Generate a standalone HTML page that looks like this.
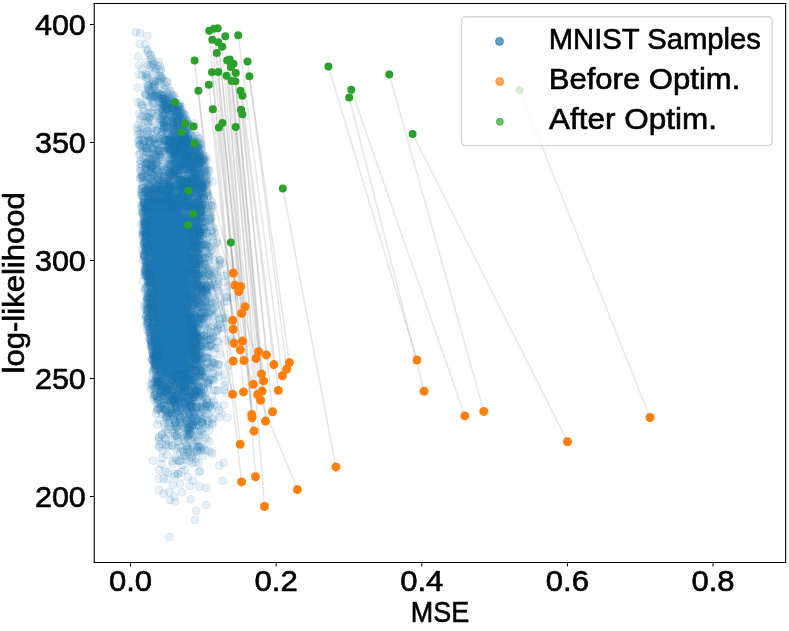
<!DOCTYPE html><html><head><meta charset="utf-8"><style>html,body{margin:0;padding:0;background:#fff;overflow:hidden}svg{display:block;will-change:transform}</style></head><body><svg width="789" height="631" viewBox="0 0 789 631">
<rect width="789" height="631" fill="#fff"/>
<g stroke="#808080" stroke-opacity="0.2" stroke-width="1.5" fill="none">
<line x1="233.3" y1="273" x2="212" y2="72.3"/>
<line x1="234.9" y1="285.3" x2="218.9" y2="127.5"/>
<line x1="240.6" y1="286.5" x2="222.4" y2="123.1"/>
<line x1="238.7" y1="291.6" x2="218.3" y2="72"/>
<line x1="245" y1="306.7" x2="218.3" y2="42.2"/>
<line x1="241.6" y1="313.2" x2="185.1" y2="123.7"/>
<line x1="232.7" y1="320.2" x2="212.9" y2="109.2"/>
<line x1="233.2" y1="329.3" x2="208.8" y2="84.7"/>
<line x1="234" y1="343.2" x2="209.2" y2="30.8"/>
<line x1="242.5" y1="341.1" x2="230.8" y2="242.6"/>
<line x1="240.3" y1="349.8" x2="212.3" y2="39.7"/>
<line x1="233.2" y1="361" x2="188.5" y2="190.6"/>
<line x1="258.6" y1="351.7" x2="235.7" y2="127.1"/>
<line x1="256.1" y1="358.4" x2="193.6" y2="126.6"/>
<line x1="266.3" y1="354.9" x2="241.1" y2="109.8"/>
<line x1="273.9" y1="364.6" x2="240.5" y2="90.8"/>
<line x1="289.4" y1="362.6" x2="247.5" y2="61.6"/>
<line x1="286.8" y1="369" x2="249.4" y2="76.2"/>
<line x1="282.4" y1="375.8" x2="238.2" y2="35.3"/>
<line x1="261.5" y1="373.9" x2="233.5" y2="63.8"/>
<line x1="263.6" y1="380.9" x2="235.4" y2="81.2"/>
<line x1="253.2" y1="384.3" x2="226.5" y2="75.8"/>
<line x1="232.6" y1="394.2" x2="193.2" y2="213.8"/>
<line x1="243.5" y1="391.9" x2="213.9" y2="28.7"/>
<line x1="262.1" y1="391.1" x2="231" y2="67"/>
<line x1="257.7" y1="394.5" x2="227.2" y2="60.6"/>
<line x1="260.6" y1="400.3" x2="231.6" y2="80.9"/>
<line x1="278.3" y1="390.4" x2="242.4" y2="95.8"/>
<line x1="251.7" y1="414.5" x2="216.8" y2="53"/>
<line x1="252" y1="417.7" x2="217.7" y2="28.3"/>
<line x1="272.5" y1="411.7" x2="242.4" y2="114.2"/>
<line x1="265.5" y1="421.1" x2="235.8" y2="73"/>
<line x1="254" y1="431" x2="222.1" y2="46.7"/>
<line x1="240.2" y1="444.2" x2="198.4" y2="90.8"/>
<line x1="241.6" y1="481.9" x2="194.6" y2="60.6"/>
<line x1="255.4" y1="476.7" x2="225.3" y2="36.3"/>
<line x1="264.5" y1="506.5" x2="229.7" y2="59.4"/>
<line x1="416.9" y1="360" x2="328.4" y2="66.5"/>
<line x1="424.1" y1="391.2" x2="349.2" y2="97.4"/>
<line x1="464.8" y1="415.9" x2="351.3" y2="89.8"/>
<line x1="483.8" y1="411.4" x2="389.3" y2="74.6"/>
<line x1="567.5" y1="441.8" x2="412.6" y2="133.9"/>
<line x1="650" y1="417.5" x2="519.5" y2="90"/>
<line x1="335.9" y1="466.9" x2="282.8" y2="188.4"/>
<line x1="297.4" y1="489.6" x2="188.1" y2="225"/>
<line x1="244" y1="360.5" x2="194.5" y2="143.4"/>
</g>
<defs><linearGradient id="cg" gradientUnits="userSpaceOnUse" x1="0" y1="190" x2="0" y2="392"><stop offset="0" stop-color="#1f77b4" stop-opacity="0"/><stop offset="0.0990" stop-color="#1f77b4" stop-opacity="1"/><stop offset="0.9010" stop-color="#1f77b4" stop-opacity="1"/><stop offset="1" stop-color="#1f77b4" stop-opacity="0"/></linearGradient></defs>
<defs><filter id="bl" x="-50%" y="-10%" width="200%" height="120%"><feGaussianBlur stdDeviation="2.5"/></filter></defs>
<path fill="url(#cg)" filter="url(#bl)" d="M145.5 196.5 L145.5 197.5 L145.5 198.5 L145.5 199.5 L145.5 200.5 L145.5 201.5 L145.5 202.5 L146.5 203.5 L146.5 204.5 L146.5 205.5 L146.5 206.5 L146.5 207.5 L146.5 208.5 L146.5 209.5 L146.5 210.5 L146.5 211.5 L146.5 212.5 L146.5 213.5 L146.5 214.5 L146.5 215.5 L146.5 216.5 L146.5 217.5 L146.5 218.5 L146.5 219.5 L146.5 220.5 L146.5 221.5 L146.5 222.5 L146.5 223.5 L146.5 224.5 L146.5 225.5 L146.5 226.5 L146.5 227.5 L146.5 228.5 L147.5 229.5 L147.5 230.5 L147.5 231.5 L147.5 232.5 L147.5 233.5 L147.5 234.5 L147.5 235.5 L147.5 236.5 L147.5 237.5 L147.5 238.5 L147.5 239.5 L147.5 240.5 L147.5 241.5 L147.5 242.5 L147.5 243.5 L147.5 244.5 L147.5 245.5 L147.5 246.5 L147.5 247.5 L147.5 248.5 L147.5 249.5 L147.5 250.5 L148.5 251.5 L148.5 252.5 L148.5 253.5 L148.5 254.5 L148.5 255.5 L148.5 256.5 L148.5 257.5 L148.5 258.5 L148.5 259.5 L148.5 260.5 L148.5 261.5 L148.5 262.5 L148.5 263.5 L148.5 264.5 L148.5 265.5 L148.5 266.5 L148.5 267.5 L148.5 268.5 L148.5 269.5 L148.5 270.5 L148.5 271.5 L148.5 272.5 L149.5 273.5 L149.5 274.5 L149.5 275.5 L149.5 276.5 L149.5 277.5 L149.5 278.5 L149.5 279.5 L149.5 280.5 L149.5 281.5 L149.5 282.5 L149.5 283.5 L149.5 284.5 L149.5 285.5 L149.5 286.5 L149.5 287.5 L149.5 288.5 L149.5 289.5 L149.5 290.5 L149.5 291.5 L150.5 292.5 L150.5 293.5 L150.5 294.5 L150.5 295.5 L150.5 296.5 L150.5 297.5 L150.5 298.5 L150.5 299.5 L150.5 300.5 L150.5 301.5 L150.5 302.5 L150.5 303.5 L150.5 304.5 L150.5 305.5 L150.5 306.5 L150.5 307.5 L150.5 308.5 L151.5 309.5 L151.5 310.5 L151.5 311.5 L151.5 312.5 L151.5 313.5 L151.5 314.5 L151.5 315.5 L151.5 316.5 L151.5 317.5 L151.5 318.5 L151.5 319.5 L151.5 320.5 L151.5 321.5 L151.5 322.5 L151.5 323.5 L151.5 324.5 L152.5 325.5 L152.5 326.5 L152.5 327.5 L152.5 328.5 L152.5 329.5 L152.5 330.5 L152.5 331.5 L153.5 332.5 L153.5 333.5 L153.5 334.5 L153.5 335.5 L153.5 336.5 L153.5 337.5 L153.5 338.5 L154.5 339.5 L154.5 340.5 L154.5 341.5 L154.5 342.5 L154.5 343.5 L154.5 344.5 L154.5 345.5 L155.5 346.5 L155.5 347.5 L155.5 348.5 L155.5 349.5 L155.5 350.5 L155.5 351.5 L155.5 352.5 L156.5 353.5 L156.5 354.5 L156.5 355.5 L156.5 356.5 L156.5 357.5 L156.5 358.5 L156.5 359.5 L157.5 360.5 L157.5 361.5 L157.5 362.5 L157.5 363.5 L157.5 364.5 L157.5 365.5 L157.5 366.5 L158.5 367.5 L158.5 368.5 L158.5 369.5 L158.5 370.5 L158.5 371.5 L158.5 372.5 L159.5 373.5 L159.5 374.5 L159.5 375.5 L159.5 376.5 L160.5 377.5 L164.5 378.5 L167.5 379.5 L170.5 380.5 L172.5 381.5 L190.5 381.5 L190.5 380.5 L190.5 379.5 L190.5 378.5 L190.5 377.5 L190.5 376.5 L190.5 375.5 L190.5 374.5 L191.5 373.5 L191.5 372.5 L191.5 371.5 L191.5 370.5 L191.5 369.5 L191.5 368.5 L191.5 367.5 L191.5 366.5 L191.5 365.5 L191.5 364.5 L191.5 363.5 L191.5 362.5 L191.5 361.5 L191.5 360.5 L191.5 359.5 L191.5 358.5 L191.5 357.5 L191.5 356.5 L191.5 355.5 L191.5 354.5 L191.5 353.5 L191.5 352.5 L191.5 351.5 L191.5 350.5 L191.5 349.5 L191.5 348.5 L191.5 347.5 L191.5 346.5 L191.5 345.5 L191.5 344.5 L191.5 343.5 L191.5 342.5 L191.5 341.5 L191.5 340.5 L191.5 339.5 L192.5 338.5 L192.5 337.5 L192.5 336.5 L192.5 335.5 L192.5 334.5 L192.5 333.5 L192.5 332.5 L192.5 331.5 L192.5 330.5 L192.5 329.5 L192.5 328.5 L192.5 327.5 L192.5 326.5 L192.5 325.5 L192.5 324.5 L192.5 323.5 L192.5 322.5 L192.5 321.5 L192.5 320.5 L192.5 319.5 L192.5 318.5 L192.5 317.5 L192.5 316.5 L192.5 315.5 L192.5 314.5 L192.5 313.5 L192.5 312.5 L192.5 311.5 L192.5 310.5 L192.5 309.5 L192.5 308.5 L192.5 307.5 L192.5 306.5 L192.5 305.5 L192.5 304.5 L192.5 303.5 L192.5 302.5 L192.5 301.5 L192.5 300.5 L192.5 299.5 L192.5 298.5 L192.5 297.5 L192.5 296.5 L192.5 295.5 L193.5 294.5 L193.5 293.5 L193.5 292.5 L193.5 291.5 L193.5 290.5 L193.5 289.5 L193.5 288.5 L193.5 287.5 L193.5 286.5 L193.5 285.5 L193.5 284.5 L193.5 283.5 L193.5 282.5 L193.5 281.5 L193.5 280.5 L193.5 279.5 L193.5 278.5 L193.5 277.5 L193.5 276.5 L193.5 275.5 L193.5 274.5 L193.5 273.5 L193.5 272.5 L193.5 271.5 L193.5 270.5 L193.5 269.5 L193.5 268.5 L193.5 267.5 L193.5 266.5 L193.5 265.5 L193.5 264.5 L193.5 263.5 L194.5 262.5 L194.5 261.5 L194.5 260.5 L194.5 259.5 L194.5 258.5 L194.5 257.5 L194.5 256.5 L194.5 255.5 L194.5 254.5 L194.5 253.5 L194.5 252.5 L194.5 251.5 L194.5 250.5 L194.5 249.5 L194.5 248.5 L194.5 247.5 L194.5 246.5 L194.5 245.5 L195.5 244.5 L195.5 243.5 L195.5 242.5 L195.5 241.5 L195.5 240.5 L195.5 239.5 L195.5 238.5 L195.5 237.5 L195.5 236.5 L195.5 235.5 L195.5 234.5 L195.5 233.5 L195.5 232.5 L195.5 231.5 L195.5 230.5 L195.5 229.5 L196.5 228.5 L196.5 227.5 L196.5 226.5 L196.5 225.5 L196.5 224.5 L196.5 223.5 L196.5 222.5 L196.5 221.5 L196.5 220.5 L196.5 219.5 L197.5 218.5 L197.5 217.5 L197.5 216.5 L197.5 215.5 L197.5 214.5 L197.5 213.5 L197.5 212.5 L197.5 211.5 L178.5 210.5 L178.5 209.5 L178.5 208.5 L178.5 207.5 L178.5 206.5 L178.5 205.5 L179.5 204.5 L179.5 203.5 L179.5 202.5 L179.5 201.5 L180.5 200.5 L179.5 199.5 L178.5 198.5 L177.5 197.5 L153.5 196.5Z"/>
<g fill="#1f77b4" fill-opacity="0.1" stroke="#1f77b4" stroke-opacity="0.1" stroke-width="1">
<circle cx="146.1" cy="49.7" r="4"/>
<circle cx="147.9" cy="52.7" r="4"/>
<circle cx="150.3" cy="55" r="4"/>
<circle cx="151.8" cy="58" r="4"/>
<circle cx="151" cy="59.3" r="4"/>
<circle cx="153.7" cy="61.6" r="4"/>
<circle cx="158.5" cy="61.8" r="4"/>
<circle cx="146.1" cy="62.2" r="4"/>
<circle cx="153.5" cy="63.6" r="4"/>
<circle cx="148" cy="64.9" r="4"/>
<circle cx="151" cy="64.7" r="4"/>
<circle cx="153.5" cy="64.4" r="4"/>
<circle cx="156.6" cy="65.6" r="4"/>
<circle cx="159.8" cy="65.6" r="4"/>
<circle cx="150.5" cy="66.6" r="4"/>
<circle cx="152.9" cy="67.6" r="4"/>
<circle cx="156.1" cy="68.8" r="4"/>
<circle cx="142.3" cy="69.4" r="4"/>
<circle cx="159.1" cy="69.7" r="4"/>
<circle cx="155.4" cy="71.7" r="4"/>
<circle cx="160.6" cy="71.5" r="4"/>
<circle cx="153.4" cy="72.9" r="4"/>
<circle cx="146" cy="73.7" r="4"/>
<circle cx="146" cy="74.4" r="4"/>
<circle cx="142" cy="75.4" r="4"/>
<circle cx="147.4" cy="75.3" r="4"/>
<circle cx="159.3" cy="76.1" r="4"/>
<circle cx="160.8" cy="76.5" r="4"/>
<circle cx="146.4" cy="77.1" r="4"/>
<circle cx="162.2" cy="77.4" r="4"/>
<circle cx="146" cy="78.5" r="4"/>
<circle cx="147.6" cy="78" r="4"/>
<circle cx="159.8" cy="78.8" r="4"/>
<circle cx="160.9" cy="78.7" r="4"/>
<circle cx="161.6" cy="78.7" r="4"/>
<circle cx="152.7" cy="80.4" r="4"/>
<circle cx="159" cy="81" r="4"/>
<circle cx="164.2" cy="80.8" r="4"/>
<circle cx="153.8" cy="81.4" r="4"/>
<circle cx="154.5" cy="81.5" r="4"/>
<circle cx="156.5" cy="81.1" r="4"/>
<circle cx="153.6" cy="82.4" r="4"/>
<circle cx="167.3" cy="82.5" r="4"/>
<circle cx="152" cy="83.7" r="4"/>
<circle cx="160.7" cy="83.6" r="4"/>
<circle cx="154.9" cy="84.7" r="4"/>
<circle cx="148.1" cy="85.7" r="4"/>
<circle cx="148.8" cy="85.3" r="4"/>
<circle cx="154.3" cy="85.5" r="4"/>
<circle cx="165.1" cy="85.4" r="4"/>
<circle cx="146.7" cy="86.1" r="4"/>
<circle cx="152.5" cy="86.7" r="4"/>
<circle cx="159.1" cy="86.7" r="4"/>
<circle cx="148.2" cy="87.9" r="4"/>
<circle cx="148.6" cy="87.5" r="4"/>
<circle cx="151.5" cy="87.4" r="4"/>
<circle cx="154.9" cy="89" r="4"/>
<circle cx="164.3" cy="88.8" r="4"/>
<circle cx="168.3" cy="88.1" r="4"/>
<circle cx="165.7" cy="89.2" r="4"/>
<circle cx="149.1" cy="90.4" r="4"/>
<circle cx="149.6" cy="90.1" r="4"/>
<circle cx="152.8" cy="90.7" r="4"/>
<circle cx="155.3" cy="90.6" r="4"/>
<circle cx="170.2" cy="90.9" r="4"/>
<circle cx="144.8" cy="92.8" r="4"/>
<circle cx="151.5" cy="92.9" r="4"/>
<circle cx="157.3" cy="92.9" r="4"/>
<circle cx="157.5" cy="93.6" r="4"/>
<circle cx="157.7" cy="93.1" r="4"/>
<circle cx="167.3" cy="93.1" r="4"/>
<circle cx="145.9" cy="94.4" r="4"/>
<circle cx="146.4" cy="94.5" r="4"/>
<circle cx="159.9" cy="94.9" r="4"/>
<circle cx="162.4" cy="94.1" r="4"/>
<circle cx="170.5" cy="94.1" r="4"/>
<circle cx="172.5" cy="94.9" r="4"/>
<circle cx="145.1" cy="95.3" r="4"/>
<circle cx="149.3" cy="95.4" r="4"/>
<circle cx="150.8" cy="95.6" r="4"/>
<circle cx="153.9" cy="95.7" r="4"/>
<circle cx="153.2" cy="95.4" r="4"/>
<circle cx="155.9" cy="95.3" r="4"/>
<circle cx="156.7" cy="95.3" r="4"/>
<circle cx="160.9" cy="95.3" r="4"/>
<circle cx="160.2" cy="95.3" r="4"/>
<circle cx="162.2" cy="95.8" r="4"/>
<circle cx="163.5" cy="95.5" r="4"/>
<circle cx="173.6" cy="95.5" r="4"/>
<circle cx="151.1" cy="96.7" r="4"/>
<circle cx="153.5" cy="96.7" r="4"/>
<circle cx="153.6" cy="96.8" r="4"/>
<circle cx="155.2" cy="96.2" r="4"/>
<circle cx="158.4" cy="96.9" r="4"/>
<circle cx="162.8" cy="96.3" r="4"/>
<circle cx="169.3" cy="96.2" r="4"/>
<circle cx="150.6" cy="97.9" r="4"/>
<circle cx="165.6" cy="97.2" r="4"/>
<circle cx="167.5" cy="98" r="4"/>
<circle cx="151.3" cy="98.1" r="4"/>
<circle cx="158" cy="98.7" r="4"/>
<circle cx="160.3" cy="98.6" r="4"/>
<circle cx="162.4" cy="98.7" r="4"/>
<circle cx="162.2" cy="98.3" r="4"/>
<circle cx="163" cy="98.6" r="4"/>
<circle cx="163.6" cy="98.2" r="4"/>
<circle cx="165" cy="98.3" r="4"/>
<circle cx="169.1" cy="98" r="4"/>
<circle cx="173.2" cy="98.2" r="4"/>
<circle cx="158.4" cy="99.1" r="4"/>
<circle cx="162.9" cy="99.2" r="4"/>
<circle cx="164.3" cy="99.5" r="4"/>
<circle cx="165.1" cy="99.5" r="4"/>
<circle cx="176.4" cy="99.3" r="4"/>
<circle cx="152.5" cy="100.1" r="4"/>
<circle cx="166.6" cy="100.1" r="4"/>
<circle cx="166.7" cy="100.7" r="4"/>
<circle cx="173" cy="100.8" r="4"/>
<circle cx="160.6" cy="101.3" r="4"/>
<circle cx="162.7" cy="101.8" r="4"/>
<circle cx="163.8" cy="101.2" r="4"/>
<circle cx="166.7" cy="101.6" r="4"/>
<circle cx="170.4" cy="101.4" r="4"/>
<circle cx="170.7" cy="101.2" r="4"/>
<circle cx="137.8" cy="102.2" r="4"/>
<circle cx="147.3" cy="102.6" r="4"/>
<circle cx="154.2" cy="102.9" r="4"/>
<circle cx="159.7" cy="102.4" r="4"/>
<circle cx="161.6" cy="102.6" r="4"/>
<circle cx="152.7" cy="103.7" r="4"/>
<circle cx="166.6" cy="103.2" r="4"/>
<circle cx="167.8" cy="103.3" r="4"/>
<circle cx="167.5" cy="103.9" r="4"/>
<circle cx="169.5" cy="103.5" r="4"/>
<circle cx="169.3" cy="103.3" r="4"/>
<circle cx="172.6" cy="103.7" r="4"/>
<circle cx="174.6" cy="103.7" r="4"/>
<circle cx="141.8" cy="104.3" r="4"/>
<circle cx="162.7" cy="104.9" r="4"/>
<circle cx="163.7" cy="104.3" r="4"/>
<circle cx="163" cy="104.5" r="4"/>
<circle cx="164.3" cy="105" r="4"/>
<circle cx="170.2" cy="104.4" r="4"/>
<circle cx="172" cy="104.6" r="4"/>
<circle cx="172.1" cy="104.4" r="4"/>
<circle cx="179.8" cy="104.2" r="4"/>
<circle cx="141.4" cy="105.5" r="4"/>
<circle cx="163.1" cy="105.9" r="4"/>
<circle cx="165" cy="105.9" r="4"/>
<circle cx="164.6" cy="105.7" r="4"/>
<circle cx="165.9" cy="105.9" r="4"/>
<circle cx="166.5" cy="105.3" r="4"/>
<circle cx="167.9" cy="105.2" r="4"/>
<circle cx="173.6" cy="105.3" r="4"/>
<circle cx="178.3" cy="105.6" r="4"/>
<circle cx="178.8" cy="105.3" r="4"/>
<circle cx="148.5" cy="106" r="4"/>
<circle cx="154.6" cy="106.7" r="4"/>
<circle cx="163.8" cy="107" r="4"/>
<circle cx="165.3" cy="107" r="4"/>
<circle cx="177.6" cy="106.5" r="4"/>
<circle cx="178.5" cy="106.3" r="4"/>
<circle cx="179.8" cy="106.7" r="4"/>
<circle cx="181.6" cy="106.7" r="4"/>
<circle cx="143.1" cy="107.9" r="4"/>
<circle cx="156.7" cy="107.5" r="4"/>
<circle cx="158.5" cy="107.8" r="4"/>
<circle cx="161.2" cy="107.4" r="4"/>
<circle cx="166.3" cy="107.4" r="4"/>
<circle cx="166.2" cy="107.2" r="4"/>
<circle cx="172.5" cy="107.1" r="4"/>
<circle cx="172.6" cy="107.9" r="4"/>
<circle cx="173.3" cy="107.2" r="4"/>
<circle cx="173.2" cy="107.4" r="4"/>
<circle cx="176.7" cy="107.2" r="4"/>
<circle cx="179.3" cy="107.3" r="4"/>
<circle cx="166.7" cy="108.4" r="4"/>
<circle cx="166.7" cy="108.6" r="4"/>
<circle cx="167.9" cy="108.2" r="4"/>
<circle cx="167.8" cy="108.2" r="4"/>
<circle cx="171.3" cy="108.6" r="4"/>
<circle cx="172.2" cy="108.2" r="4"/>
<circle cx="172.6" cy="108.1" r="4"/>
<circle cx="173.7" cy="109" r="4"/>
<circle cx="175.3" cy="108.5" r="4"/>
<circle cx="176.9" cy="108.4" r="4"/>
<circle cx="177.9" cy="108.6" r="4"/>
<circle cx="163.4" cy="109.2" r="4"/>
<circle cx="163.4" cy="109.4" r="4"/>
<circle cx="165.4" cy="109.1" r="4"/>
<circle cx="167.6" cy="109.6" r="4"/>
<circle cx="173.8" cy="109.9" r="4"/>
<circle cx="179.2" cy="109.3" r="4"/>
<circle cx="180.3" cy="109" r="4"/>
<circle cx="158.9" cy="110.5" r="4"/>
<circle cx="168.5" cy="110.7" r="4"/>
<circle cx="168.9" cy="110.7" r="4"/>
<circle cx="173" cy="110" r="4"/>
<circle cx="176.9" cy="110.1" r="4"/>
<circle cx="176.3" cy="110.2" r="4"/>
<circle cx="177.8" cy="110.5" r="4"/>
<circle cx="143.6" cy="111.1" r="4"/>
<circle cx="159.2" cy="112" r="4"/>
<circle cx="162.7" cy="111.4" r="4"/>
<circle cx="165.7" cy="111.9" r="4"/>
<circle cx="166.6" cy="111.1" r="4"/>
<circle cx="172.3" cy="111.5" r="4"/>
<circle cx="178.7" cy="111" r="4"/>
<circle cx="181.6" cy="111.5" r="4"/>
<circle cx="149.4" cy="113" r="4"/>
<circle cx="151.4" cy="112.7" r="4"/>
<circle cx="151" cy="112.4" r="4"/>
<circle cx="168.4" cy="112.9" r="4"/>
<circle cx="171.9" cy="113" r="4"/>
<circle cx="176.2" cy="112.6" r="4"/>
<circle cx="177.2" cy="112.3" r="4"/>
<circle cx="177.1" cy="112.7" r="4"/>
<circle cx="183.5" cy="112.8" r="4"/>
<circle cx="147.6" cy="113.6" r="4"/>
<circle cx="161.9" cy="113.7" r="4"/>
<circle cx="163.1" cy="113.2" r="4"/>
<circle cx="164.4" cy="113.2" r="4"/>
<circle cx="164.8" cy="114" r="4"/>
<circle cx="165.9" cy="113.2" r="4"/>
<circle cx="174.4" cy="113.5" r="4"/>
<circle cx="179.8" cy="113.8" r="4"/>
<circle cx="180.3" cy="113.3" r="4"/>
<circle cx="180.8" cy="113.5" r="4"/>
<circle cx="181" cy="113.2" r="4"/>
<circle cx="139.2" cy="114.1" r="4"/>
<circle cx="152.6" cy="114.2" r="4"/>
<circle cx="170.6" cy="114.7" r="4"/>
<circle cx="176.9" cy="114.8" r="4"/>
<circle cx="184" cy="114.5" r="4"/>
<circle cx="183.1" cy="114" r="4"/>
<circle cx="158.7" cy="115.3" r="4"/>
<circle cx="163.4" cy="115.1" r="4"/>
<circle cx="163.3" cy="115.9" r="4"/>
<circle cx="169.4" cy="115" r="4"/>
<circle cx="178.1" cy="115.6" r="4"/>
<circle cx="179.8" cy="115.1" r="4"/>
<circle cx="182.8" cy="115.1" r="4"/>
<circle cx="185.7" cy="115.6" r="4"/>
<circle cx="141.5" cy="116.4" r="4"/>
<circle cx="143.4" cy="116.3" r="4"/>
<circle cx="146.7" cy="116.8" r="4"/>
<circle cx="156.9" cy="116.1" r="4"/>
<circle cx="168.3" cy="116.6" r="4"/>
<circle cx="175.1" cy="116.1" r="4"/>
<circle cx="176.1" cy="116.6" r="4"/>
<circle cx="176.3" cy="116.2" r="4"/>
<circle cx="177.5" cy="116.6" r="4"/>
<circle cx="178.9" cy="116.9" r="4"/>
<circle cx="179.9" cy="116.5" r="4"/>
<circle cx="148.9" cy="117.1" r="4"/>
<circle cx="162.3" cy="117.6" r="4"/>
<circle cx="171.2" cy="117.1" r="4"/>
<circle cx="173" cy="117.5" r="4"/>
<circle cx="178" cy="117.5" r="4"/>
<circle cx="184.1" cy="117.9" r="4"/>
<circle cx="149.2" cy="118.2" r="4"/>
<circle cx="165.9" cy="118.6" r="4"/>
<circle cx="172.1" cy="118.7" r="4"/>
<circle cx="173.1" cy="118.3" r="4"/>
<circle cx="174.5" cy="118.4" r="4"/>
<circle cx="175.3" cy="118.4" r="4"/>
<circle cx="177.1" cy="118.3" r="4"/>
<circle cx="182.2" cy="118.1" r="4"/>
<circle cx="185.3" cy="118.8" r="4"/>
<circle cx="140" cy="119.4" r="4"/>
<circle cx="160" cy="119.1" r="4"/>
<circle cx="161.1" cy="119" r="4"/>
<circle cx="164.2" cy="119.6" r="4"/>
<circle cx="184.6" cy="119.6" r="4"/>
<circle cx="144.9" cy="120.1" r="4"/>
<circle cx="151.6" cy="120.6" r="4"/>
<circle cx="152.8" cy="120" r="4"/>
<circle cx="162.7" cy="120.6" r="4"/>
<circle cx="163.9" cy="120.6" r="4"/>
<circle cx="165.3" cy="120.7" r="4"/>
<circle cx="166.5" cy="120.9" r="4"/>
<circle cx="167.4" cy="120.4" r="4"/>
<circle cx="167.5" cy="120.9" r="4"/>
<circle cx="171.9" cy="121" r="4"/>
<circle cx="172.1" cy="120.6" r="4"/>
<circle cx="177.3" cy="120.4" r="4"/>
<circle cx="178.9" cy="120" r="4"/>
<circle cx="182.2" cy="120.3" r="4"/>
<circle cx="182.8" cy="120.2" r="4"/>
<circle cx="183.2" cy="120.9" r="4"/>
<circle cx="186" cy="120.7" r="4"/>
<circle cx="187" cy="120.7" r="4"/>
<circle cx="146.3" cy="121.4" r="4"/>
<circle cx="148.4" cy="121.1" r="4"/>
<circle cx="160" cy="121.8" r="4"/>
<circle cx="170.4" cy="121.3" r="4"/>
<circle cx="176.6" cy="121.2" r="4"/>
<circle cx="176.4" cy="121.9" r="4"/>
<circle cx="177.8" cy="121.2" r="4"/>
<circle cx="178.8" cy="122" r="4"/>
<circle cx="183" cy="121.9" r="4"/>
<circle cx="187.3" cy="122" r="4"/>
<circle cx="148.1" cy="122.6" r="4"/>
<circle cx="161.6" cy="122.6" r="4"/>
<circle cx="163.1" cy="122.2" r="4"/>
<circle cx="173.3" cy="122.5" r="4"/>
<circle cx="173.8" cy="122" r="4"/>
<circle cx="173.3" cy="122.7" r="4"/>
<circle cx="176.7" cy="122.1" r="4"/>
<circle cx="182.9" cy="122" r="4"/>
<circle cx="163.7" cy="123.8" r="4"/>
<circle cx="164.9" cy="123.3" r="4"/>
<circle cx="164.5" cy="123.2" r="4"/>
<circle cx="174" cy="124" r="4"/>
<circle cx="179.5" cy="123.3" r="4"/>
<circle cx="181.8" cy="123.2" r="4"/>
<circle cx="181.7" cy="123.3" r="4"/>
<circle cx="182.5" cy="123.4" r="4"/>
<circle cx="184.8" cy="124" r="4"/>
<circle cx="184.5" cy="123.6" r="4"/>
<circle cx="185.5" cy="123.9" r="4"/>
<circle cx="187.3" cy="123.8" r="4"/>
<circle cx="193.9" cy="123.3" r="4"/>
<circle cx="138.2" cy="124.9" r="4"/>
<circle cx="161.4" cy="124.8" r="4"/>
<circle cx="172.9" cy="124.1" r="4"/>
<circle cx="174.1" cy="124.3" r="4"/>
<circle cx="179.7" cy="124.9" r="4"/>
<circle cx="190" cy="124.8" r="4"/>
<circle cx="159.2" cy="125.6" r="4"/>
<circle cx="164" cy="125.3" r="4"/>
<circle cx="172.1" cy="125.6" r="4"/>
<circle cx="173.9" cy="125.5" r="4"/>
<circle cx="176.9" cy="125.8" r="4"/>
<circle cx="177.2" cy="125.9" r="4"/>
<circle cx="178.4" cy="125.5" r="4"/>
<circle cx="181" cy="125.6" r="4"/>
<circle cx="183.1" cy="125.8" r="4"/>
<circle cx="183.2" cy="125.6" r="4"/>
<circle cx="190" cy="125.6" r="4"/>
<circle cx="189.3" cy="125.5" r="4"/>
<circle cx="164.9" cy="126.3" r="4"/>
<circle cx="165.8" cy="126.2" r="4"/>
<circle cx="166" cy="126.2" r="4"/>
<circle cx="166.8" cy="126.6" r="4"/>
<circle cx="172.9" cy="126.4" r="4"/>
<circle cx="173.9" cy="126.7" r="4"/>
<circle cx="175.8" cy="126.7" r="4"/>
<circle cx="179.3" cy="127" r="4"/>
<circle cx="180.7" cy="126.4" r="4"/>
<circle cx="182.9" cy="126.4" r="4"/>
<circle cx="187" cy="126.6" r="4"/>
<circle cx="187.2" cy="126.3" r="4"/>
<circle cx="188.8" cy="126.7" r="4"/>
<circle cx="142.1" cy="127.4" r="4"/>
<circle cx="148.9" cy="127.5" r="4"/>
<circle cx="163.9" cy="127.5" r="4"/>
<circle cx="163.7" cy="127.9" r="4"/>
<circle cx="167" cy="127.8" r="4"/>
<circle cx="171.7" cy="127.3" r="4"/>
<circle cx="173.9" cy="127.6" r="4"/>
<circle cx="186.4" cy="127.9" r="4"/>
<circle cx="137.1" cy="128.2" r="4"/>
<circle cx="151.5" cy="128.3" r="4"/>
<circle cx="153.2" cy="128.1" r="4"/>
<circle cx="163.8" cy="128.8" r="4"/>
<circle cx="166.4" cy="128.1" r="4"/>
<circle cx="166.2" cy="128.5" r="4"/>
<circle cx="172.7" cy="129" r="4"/>
<circle cx="173.8" cy="128.4" r="4"/>
<circle cx="178.2" cy="128" r="4"/>
<circle cx="178.7" cy="128.5" r="4"/>
<circle cx="140.6" cy="129.1" r="4"/>
<circle cx="145.1" cy="129.2" r="4"/>
<circle cx="157.3" cy="129.7" r="4"/>
<circle cx="164.2" cy="129.5" r="4"/>
<circle cx="168" cy="129.3" r="4"/>
<circle cx="173" cy="129.6" r="4"/>
<circle cx="174.7" cy="129.4" r="4"/>
<circle cx="175.8" cy="129.6" r="4"/>
<circle cx="181.7" cy="129.2" r="4"/>
<circle cx="187.2" cy="129.4" r="4"/>
<circle cx="147.1" cy="131" r="4"/>
<circle cx="156.5" cy="130.4" r="4"/>
<circle cx="174.7" cy="130" r="4"/>
<circle cx="180.2" cy="130.9" r="4"/>
<circle cx="181.7" cy="130.1" r="4"/>
<circle cx="184" cy="130.5" r="4"/>
<circle cx="185.7" cy="130.4" r="4"/>
<circle cx="187.4" cy="130.7" r="4"/>
<circle cx="138" cy="131.1" r="4"/>
<circle cx="148" cy="131.4" r="4"/>
<circle cx="156.7" cy="131.1" r="4"/>
<circle cx="157.6" cy="131.3" r="4"/>
<circle cx="162.4" cy="131.8" r="4"/>
<circle cx="166.6" cy="131.8" r="4"/>
<circle cx="167.4" cy="131.5" r="4"/>
<circle cx="174.2" cy="131.4" r="4"/>
<circle cx="177.6" cy="131.5" r="4"/>
<circle cx="178.7" cy="131.4" r="4"/>
<circle cx="183.1" cy="131.7" r="4"/>
<circle cx="186.9" cy="132" r="4"/>
<circle cx="143.1" cy="132.6" r="4"/>
<circle cx="162.2" cy="132.1" r="4"/>
<circle cx="174.5" cy="132.7" r="4"/>
<circle cx="177.9" cy="132.2" r="4"/>
<circle cx="180.3" cy="132.7" r="4"/>
<circle cx="181.1" cy="132.5" r="4"/>
<circle cx="183.2" cy="132" r="4"/>
<circle cx="184.6" cy="132.6" r="4"/>
<circle cx="184.4" cy="132.3" r="4"/>
<circle cx="140" cy="133.5" r="4"/>
<circle cx="161.1" cy="133.8" r="4"/>
<circle cx="166.1" cy="133.3" r="4"/>
<circle cx="167.9" cy="133.1" r="4"/>
<circle cx="174.6" cy="133.5" r="4"/>
<circle cx="185.3" cy="133.6" r="4"/>
<circle cx="185.2" cy="134" r="4"/>
<circle cx="190.1" cy="133.1" r="4"/>
<circle cx="138.2" cy="134.3" r="4"/>
<circle cx="147.2" cy="134.8" r="4"/>
<circle cx="170.2" cy="134.7" r="4"/>
<circle cx="173.6" cy="134.2" r="4"/>
<circle cx="174.5" cy="134.5" r="4"/>
<circle cx="188.3" cy="134.3" r="4"/>
<circle cx="190.5" cy="134.8" r="4"/>
<circle cx="190.8" cy="134.2" r="4"/>
<circle cx="148.6" cy="135.5" r="4"/>
<circle cx="152.2" cy="135.3" r="4"/>
<circle cx="160.4" cy="135.3" r="4"/>
<circle cx="168.5" cy="135.3" r="4"/>
<circle cx="172.3" cy="135.9" r="4"/>
<circle cx="174.1" cy="135.3" r="4"/>
<circle cx="176.9" cy="135.6" r="4"/>
<circle cx="177.4" cy="135.8" r="4"/>
<circle cx="179.7" cy="135.7" r="4"/>
<circle cx="184.2" cy="135.9" r="4"/>
<circle cx="190.9" cy="135.9" r="4"/>
<circle cx="195.1" cy="135.9" r="4"/>
<circle cx="171.7" cy="136.6" r="4"/>
<circle cx="172.7" cy="136.8" r="4"/>
<circle cx="175.2" cy="136.8" r="4"/>
<circle cx="181.8" cy="136.9" r="4"/>
<circle cx="182.2" cy="136.4" r="4"/>
<circle cx="182" cy="136.7" r="4"/>
<circle cx="184.7" cy="136.3" r="4"/>
<circle cx="185" cy="136.9" r="4"/>
<circle cx="185" cy="137" r="4"/>
<circle cx="188" cy="136.4" r="4"/>
<circle cx="197.6" cy="136.1" r="4"/>
<circle cx="141.4" cy="137.1" r="4"/>
<circle cx="149.6" cy="137.7" r="4"/>
<circle cx="169.2" cy="137" r="4"/>
<circle cx="171.4" cy="137.9" r="4"/>
<circle cx="174.5" cy="137.2" r="4"/>
<circle cx="178.5" cy="137" r="4"/>
<circle cx="182.6" cy="137.3" r="4"/>
<circle cx="182.2" cy="137.5" r="4"/>
<circle cx="183.2" cy="137" r="4"/>
<circle cx="183.3" cy="137.1" r="4"/>
<circle cx="183.2" cy="137.2" r="4"/>
<circle cx="183.5" cy="137.9" r="4"/>
<circle cx="184.5" cy="137.9" r="4"/>
<circle cx="185.3" cy="137.6" r="4"/>
<circle cx="185.3" cy="137.4" r="4"/>
<circle cx="187.7" cy="137.2" r="4"/>
<circle cx="140.5" cy="138.4" r="4"/>
<circle cx="151.5" cy="138.2" r="4"/>
<circle cx="155" cy="138.7" r="4"/>
<circle cx="156.6" cy="138" r="4"/>
<circle cx="159.2" cy="138.6" r="4"/>
<circle cx="159.1" cy="138.6" r="4"/>
<circle cx="163.6" cy="138.2" r="4"/>
<circle cx="163.2" cy="138.6" r="4"/>
<circle cx="168.3" cy="138.8" r="4"/>
<circle cx="170.6" cy="138.4" r="4"/>
<circle cx="173.5" cy="138.7" r="4"/>
<circle cx="177.3" cy="138.7" r="4"/>
<circle cx="180.6" cy="138.2" r="4"/>
<circle cx="180.2" cy="138.2" r="4"/>
<circle cx="180.7" cy="138.8" r="4"/>
<circle cx="185.2" cy="138.8" r="4"/>
<circle cx="187.8" cy="138.5" r="4"/>
<circle cx="188.6" cy="138.9" r="4"/>
<circle cx="191.4" cy="138.6" r="4"/>
<circle cx="198.9" cy="139" r="4"/>
<circle cx="198.4" cy="138.4" r="4"/>
<circle cx="144.1" cy="139.3" r="4"/>
<circle cx="149.8" cy="139.6" r="4"/>
<circle cx="152.4" cy="139.4" r="4"/>
<circle cx="154.1" cy="139.1" r="4"/>
<circle cx="162.1" cy="139.5" r="4"/>
<circle cx="164.8" cy="139.7" r="4"/>
<circle cx="169.8" cy="139.6" r="4"/>
<circle cx="170.9" cy="139.9" r="4"/>
<circle cx="174.2" cy="139" r="4"/>
<circle cx="174.8" cy="139.8" r="4"/>
<circle cx="177.2" cy="139.7" r="4"/>
<circle cx="178.2" cy="139.3" r="4"/>
<circle cx="179" cy="139.2" r="4"/>
<circle cx="182.7" cy="140" r="4"/>
<circle cx="188.9" cy="139.2" r="4"/>
<circle cx="188.4" cy="139.7" r="4"/>
<circle cx="191" cy="139.8" r="4"/>
<circle cx="138.6" cy="140.3" r="4"/>
<circle cx="142" cy="140" r="4"/>
<circle cx="144" cy="140.8" r="4"/>
<circle cx="145.3" cy="140.9" r="4"/>
<circle cx="148.5" cy="140.3" r="4"/>
<circle cx="164.1" cy="140.6" r="4"/>
<circle cx="165.9" cy="140.4" r="4"/>
<circle cx="165" cy="140.2" r="4"/>
<circle cx="168.4" cy="140.3" r="4"/>
<circle cx="168.6" cy="140.1" r="4"/>
<circle cx="168.8" cy="140.3" r="4"/>
<circle cx="169.3" cy="140.8" r="4"/>
<circle cx="170.6" cy="141" r="4"/>
<circle cx="171.2" cy="140.4" r="4"/>
<circle cx="172.9" cy="140.8" r="4"/>
<circle cx="178.4" cy="140.6" r="4"/>
<circle cx="179.1" cy="140.3" r="4"/>
<circle cx="181.1" cy="140.4" r="4"/>
<circle cx="181.3" cy="140.5" r="4"/>
<circle cx="182" cy="140.6" r="4"/>
<circle cx="182.6" cy="140.8" r="4"/>
<circle cx="182.4" cy="140.4" r="4"/>
<circle cx="184" cy="140.7" r="4"/>
<circle cx="184.9" cy="140.7" r="4"/>
<circle cx="184.6" cy="140.1" r="4"/>
<circle cx="186.3" cy="140.5" r="4"/>
<circle cx="138.6" cy="141.2" r="4"/>
<circle cx="144" cy="141.1" r="4"/>
<circle cx="149.2" cy="141.1" r="4"/>
<circle cx="150.1" cy="141.8" r="4"/>
<circle cx="157.7" cy="141.5" r="4"/>
<circle cx="159.5" cy="141.7" r="4"/>
<circle cx="164.7" cy="141.3" r="4"/>
<circle cx="165.3" cy="141.1" r="4"/>
<circle cx="166.8" cy="141.1" r="4"/>
<circle cx="167.2" cy="141.4" r="4"/>
<circle cx="168.2" cy="141.2" r="4"/>
<circle cx="170.5" cy="141.2" r="4"/>
<circle cx="172.1" cy="141.8" r="4"/>
<circle cx="175.8" cy="141.4" r="4"/>
<circle cx="177" cy="141.3" r="4"/>
<circle cx="178.6" cy="141.6" r="4"/>
<circle cx="179.7" cy="141.4" r="4"/>
<circle cx="182.4" cy="141.6" r="4"/>
<circle cx="185.9" cy="141.9" r="4"/>
<circle cx="185.8" cy="141.2" r="4"/>
<circle cx="187.4" cy="141.4" r="4"/>
<circle cx="187.6" cy="141.3" r="4"/>
<circle cx="188.5" cy="141" r="4"/>
<circle cx="194.9" cy="141.4" r="4"/>
<circle cx="196.5" cy="141.4" r="4"/>
<circle cx="148" cy="142.7" r="4"/>
<circle cx="169.8" cy="142.1" r="4"/>
<circle cx="170.5" cy="142.8" r="4"/>
<circle cx="171.9" cy="142.2" r="4"/>
<circle cx="171.6" cy="142.9" r="4"/>
<circle cx="173.2" cy="142.9" r="4"/>
<circle cx="174.2" cy="142.1" r="4"/>
<circle cx="174.1" cy="142.5" r="4"/>
<circle cx="175.3" cy="142.3" r="4"/>
<circle cx="176" cy="142.3" r="4"/>
<circle cx="176.2" cy="142.7" r="4"/>
<circle cx="180.6" cy="142.3" r="4"/>
<circle cx="180.2" cy="142.9" r="4"/>
<circle cx="185.5" cy="142.3" r="4"/>
<circle cx="187.9" cy="142.6" r="4"/>
<circle cx="187.6" cy="142.7" r="4"/>
<circle cx="189.6" cy="142.7" r="4"/>
<circle cx="193.2" cy="142.7" r="4"/>
<circle cx="194.2" cy="142.4" r="4"/>
<circle cx="197.2" cy="142.3" r="4"/>
<circle cx="200.1" cy="142.7" r="4"/>
<circle cx="139.9" cy="143.9" r="4"/>
<circle cx="149.6" cy="143.8" r="4"/>
<circle cx="150.5" cy="143.5" r="4"/>
<circle cx="154.9" cy="143.3" r="4"/>
<circle cx="157.3" cy="143.6" r="4"/>
<circle cx="170.6" cy="143.2" r="4"/>
<circle cx="171.2" cy="143.8" r="4"/>
<circle cx="172.2" cy="143.5" r="4"/>
<circle cx="176.4" cy="143.7" r="4"/>
<circle cx="176.9" cy="143.1" r="4"/>
<circle cx="176.1" cy="143.1" r="4"/>
<circle cx="181.9" cy="143.8" r="4"/>
<circle cx="183.1" cy="143.9" r="4"/>
<circle cx="184.2" cy="143.3" r="4"/>
<circle cx="185.7" cy="143" r="4"/>
<circle cx="187" cy="143.1" r="4"/>
<circle cx="189.4" cy="144" r="4"/>
<circle cx="191.2" cy="143.9" r="4"/>
<circle cx="192.2" cy="144" r="4"/>
<circle cx="192.6" cy="143.8" r="4"/>
<circle cx="193.2" cy="143.3" r="4"/>
<circle cx="194.7" cy="143.8" r="4"/>
<circle cx="194.2" cy="143.6" r="4"/>
<circle cx="200.1" cy="143.7" r="4"/>
<circle cx="139.6" cy="144.6" r="4"/>
<circle cx="142.5" cy="144.7" r="4"/>
<circle cx="156" cy="144.6" r="4"/>
<circle cx="157.5" cy="144.4" r="4"/>
<circle cx="158.1" cy="144.4" r="4"/>
<circle cx="165.6" cy="144.2" r="4"/>
<circle cx="172.9" cy="144.6" r="4"/>
<circle cx="175.8" cy="144.6" r="4"/>
<circle cx="175.1" cy="144.2" r="4"/>
<circle cx="181" cy="144.2" r="4"/>
<circle cx="182.9" cy="144.6" r="4"/>
<circle cx="184.1" cy="144.5" r="4"/>
<circle cx="185.2" cy="144.9" r="4"/>
<circle cx="187.1" cy="144.9" r="4"/>
<circle cx="189.4" cy="144.2" r="4"/>
<circle cx="191" cy="144.2" r="4"/>
<circle cx="191" cy="144.6" r="4"/>
<circle cx="192.4" cy="144.9" r="4"/>
<circle cx="193.7" cy="144.6" r="4"/>
<circle cx="197.1" cy="144.5" r="4"/>
<circle cx="139.3" cy="145.8" r="4"/>
<circle cx="141.1" cy="145.6" r="4"/>
<circle cx="168.2" cy="145.3" r="4"/>
<circle cx="169.6" cy="145.5" r="4"/>
<circle cx="171.9" cy="145.2" r="4"/>
<circle cx="172.6" cy="145.9" r="4"/>
<circle cx="173.8" cy="145.3" r="4"/>
<circle cx="175.1" cy="145.8" r="4"/>
<circle cx="176" cy="145.9" r="4"/>
<circle cx="177.9" cy="145.3" r="4"/>
<circle cx="177.4" cy="145.2" r="4"/>
<circle cx="177.3" cy="145" r="4"/>
<circle cx="179" cy="145.1" r="4"/>
<circle cx="181.7" cy="145.8" r="4"/>
<circle cx="182.8" cy="145.3" r="4"/>
<circle cx="183.1" cy="145.1" r="4"/>
<circle cx="185" cy="145.6" r="4"/>
<circle cx="188" cy="145.4" r="4"/>
<circle cx="193.9" cy="145.1" r="4"/>
<circle cx="196.7" cy="145.8" r="4"/>
<circle cx="198.5" cy="145.1" r="4"/>
<circle cx="200.5" cy="145.1" r="4"/>
<circle cx="143.3" cy="146.6" r="4"/>
<circle cx="149.8" cy="146.4" r="4"/>
<circle cx="154.5" cy="146.1" r="4"/>
<circle cx="163.9" cy="146.2" r="4"/>
<circle cx="165.8" cy="146.9" r="4"/>
<circle cx="170.3" cy="146.5" r="4"/>
<circle cx="175.3" cy="146.1" r="4"/>
<circle cx="175.7" cy="146.6" r="4"/>
<circle cx="177.1" cy="146.7" r="4"/>
<circle cx="177.3" cy="146.9" r="4"/>
<circle cx="182" cy="146.7" r="4"/>
<circle cx="181.2" cy="146.4" r="4"/>
<circle cx="182.3" cy="146.7" r="4"/>
<circle cx="183.1" cy="146.2" r="4"/>
<circle cx="183.8" cy="146.3" r="4"/>
<circle cx="184.4" cy="146.7" r="4"/>
<circle cx="186.6" cy="147" r="4"/>
<circle cx="189.3" cy="146.7" r="4"/>
<circle cx="190.9" cy="146.1" r="4"/>
<circle cx="191.6" cy="146.6" r="4"/>
<circle cx="193.1" cy="146.6" r="4"/>
<circle cx="193.9" cy="146.4" r="4"/>
<circle cx="198" cy="146.9" r="4"/>
<circle cx="199" cy="146.8" r="4"/>
<circle cx="146.5" cy="148" r="4"/>
<circle cx="146.1" cy="147.9" r="4"/>
<circle cx="151.9" cy="147.9" r="4"/>
<circle cx="161.9" cy="147.8" r="4"/>
<circle cx="166" cy="147.7" r="4"/>
<circle cx="166.7" cy="147.8" r="4"/>
<circle cx="168.8" cy="147.7" r="4"/>
<circle cx="169.6" cy="147.8" r="4"/>
<circle cx="174.2" cy="147.3" r="4"/>
<circle cx="175.5" cy="147.5" r="4"/>
<circle cx="179.9" cy="147.7" r="4"/>
<circle cx="180.8" cy="147.7" r="4"/>
<circle cx="180.4" cy="147.3" r="4"/>
<circle cx="180.5" cy="147.7" r="4"/>
<circle cx="181.2" cy="147.4" r="4"/>
<circle cx="184.4" cy="147.3" r="4"/>
<circle cx="184.9" cy="148" r="4"/>
<circle cx="191.8" cy="147" r="4"/>
<circle cx="192.2" cy="147.2" r="4"/>
<circle cx="196.2" cy="147.1" r="4"/>
<circle cx="196.2" cy="147.2" r="4"/>
<circle cx="197.9" cy="147.9" r="4"/>
<circle cx="197.2" cy="147.2" r="4"/>
<circle cx="198.3" cy="147.4" r="4"/>
<circle cx="142.3" cy="148.4" r="4"/>
<circle cx="145.8" cy="148" r="4"/>
<circle cx="146.9" cy="148.4" r="4"/>
<circle cx="152" cy="148" r="4"/>
<circle cx="167.3" cy="149" r="4"/>
<circle cx="169.6" cy="148.1" r="4"/>
<circle cx="171.3" cy="148.7" r="4"/>
<circle cx="172.5" cy="148.9" r="4"/>
<circle cx="175" cy="148.4" r="4"/>
<circle cx="175.2" cy="148.1" r="4"/>
<circle cx="178.3" cy="148.5" r="4"/>
<circle cx="181" cy="148" r="4"/>
<circle cx="184.7" cy="148" r="4"/>
<circle cx="184.7" cy="149" r="4"/>
<circle cx="196.1" cy="148.5" r="4"/>
<circle cx="200" cy="148.2" r="4"/>
<circle cx="146.8" cy="149.5" r="4"/>
<circle cx="152" cy="149.6" r="4"/>
<circle cx="154.7" cy="149.8" r="4"/>
<circle cx="157.3" cy="150" r="4"/>
<circle cx="158.5" cy="149.5" r="4"/>
<circle cx="168.6" cy="149.1" r="4"/>
<circle cx="168.1" cy="149.8" r="4"/>
<circle cx="169.5" cy="150" r="4"/>
<circle cx="169.7" cy="149.2" r="4"/>
<circle cx="169.2" cy="149.5" r="4"/>
<circle cx="171.5" cy="149.3" r="4"/>
<circle cx="172.4" cy="149.4" r="4"/>
<circle cx="173" cy="149.2" r="4"/>
<circle cx="177" cy="149.2" r="4"/>
<circle cx="176.4" cy="149.9" r="4"/>
<circle cx="186.2" cy="149.3" r="4"/>
<circle cx="188.7" cy="149.2" r="4"/>
<circle cx="188.4" cy="149.4" r="4"/>
<circle cx="189.6" cy="149.5" r="4"/>
<circle cx="190.1" cy="149.4" r="4"/>
<circle cx="191" cy="149.9" r="4"/>
<circle cx="195" cy="149.5" r="4"/>
<circle cx="198.1" cy="149.4" r="4"/>
<circle cx="200.9" cy="149" r="4"/>
<circle cx="142" cy="150.3" r="4"/>
<circle cx="159.5" cy="150.3" r="4"/>
<circle cx="163" cy="150.8" r="4"/>
<circle cx="164" cy="150.2" r="4"/>
<circle cx="171.3" cy="150.9" r="4"/>
<circle cx="171.2" cy="150.8" r="4"/>
<circle cx="171.3" cy="150.9" r="4"/>
<circle cx="173.3" cy="150.3" r="4"/>
<circle cx="173.5" cy="150.5" r="4"/>
<circle cx="175.9" cy="150.7" r="4"/>
<circle cx="178.8" cy="150.9" r="4"/>
<circle cx="183.6" cy="150" r="4"/>
<circle cx="184.7" cy="150.4" r="4"/>
<circle cx="186.3" cy="150.3" r="4"/>
<circle cx="195.5" cy="150.2" r="4"/>
<circle cx="199.6" cy="150.9" r="4"/>
<circle cx="146.2" cy="151.4" r="4"/>
<circle cx="147.1" cy="151.6" r="4"/>
<circle cx="148.8" cy="151.7" r="4"/>
<circle cx="154.2" cy="151.9" r="4"/>
<circle cx="157" cy="151.8" r="4"/>
<circle cx="158.3" cy="151.4" r="4"/>
<circle cx="169.3" cy="151.9" r="4"/>
<circle cx="173.7" cy="151.3" r="4"/>
<circle cx="175.7" cy="151.5" r="4"/>
<circle cx="175.5" cy="151.3" r="4"/>
<circle cx="176.1" cy="151.9" r="4"/>
<circle cx="176.7" cy="151.2" r="4"/>
<circle cx="178.3" cy="151.5" r="4"/>
<circle cx="179.7" cy="151.4" r="4"/>
<circle cx="185.6" cy="151.6" r="4"/>
<circle cx="188.1" cy="151.2" r="4"/>
<circle cx="190.7" cy="151.9" r="4"/>
<circle cx="192.8" cy="151" r="4"/>
<circle cx="194.5" cy="151.6" r="4"/>
<circle cx="143.4" cy="152.2" r="4"/>
<circle cx="159.5" cy="152.2" r="4"/>
<circle cx="160" cy="152.1" r="4"/>
<circle cx="161.8" cy="152.1" r="4"/>
<circle cx="170.7" cy="152.6" r="4"/>
<circle cx="173.7" cy="153" r="4"/>
<circle cx="174.8" cy="152.5" r="4"/>
<circle cx="174.9" cy="152.3" r="4"/>
<circle cx="174.7" cy="152.6" r="4"/>
<circle cx="176.7" cy="152.1" r="4"/>
<circle cx="176.5" cy="152.7" r="4"/>
<circle cx="177.4" cy="152.9" r="4"/>
<circle cx="177.5" cy="152.1" r="4"/>
<circle cx="186.9" cy="152" r="4"/>
<circle cx="186.1" cy="152" r="4"/>
<circle cx="189.1" cy="152.2" r="4"/>
<circle cx="199" cy="152.8" r="4"/>
<circle cx="199.9" cy="152.3" r="4"/>
<circle cx="140" cy="153.1" r="4"/>
<circle cx="150.1" cy="153.7" r="4"/>
<circle cx="173.2" cy="153.9" r="4"/>
<circle cx="174.6" cy="153.7" r="4"/>
<circle cx="174" cy="153.4" r="4"/>
<circle cx="175.3" cy="153.2" r="4"/>
<circle cx="175.6" cy="153.2" r="4"/>
<circle cx="176.2" cy="153.8" r="4"/>
<circle cx="178.5" cy="153" r="4"/>
<circle cx="181.8" cy="153.1" r="4"/>
<circle cx="181.6" cy="153.3" r="4"/>
<circle cx="184.2" cy="153" r="4"/>
<circle cx="185.3" cy="153.5" r="4"/>
<circle cx="185.7" cy="153.5" r="4"/>
<circle cx="186.4" cy="153.7" r="4"/>
<circle cx="187.5" cy="153.3" r="4"/>
<circle cx="189.8" cy="153.8" r="4"/>
<circle cx="189.4" cy="153.4" r="4"/>
<circle cx="191.5" cy="153.6" r="4"/>
<circle cx="194.8" cy="153.8" r="4"/>
<circle cx="198.4" cy="153.6" r="4"/>
<circle cx="200" cy="153.8" r="4"/>
<circle cx="200.7" cy="153.1" r="4"/>
<circle cx="139.1" cy="154.6" r="4"/>
<circle cx="153" cy="154.2" r="4"/>
<circle cx="153" cy="154.2" r="4"/>
<circle cx="156.1" cy="154.8" r="4"/>
<circle cx="158.4" cy="154.5" r="4"/>
<circle cx="160" cy="154.5" r="4"/>
<circle cx="161.3" cy="154.5" r="4"/>
<circle cx="169.4" cy="154.1" r="4"/>
<circle cx="173.6" cy="154.4" r="4"/>
<circle cx="177.2" cy="154" r="4"/>
<circle cx="178.2" cy="154.1" r="4"/>
<circle cx="181.9" cy="154.3" r="4"/>
<circle cx="183.7" cy="154.1" r="4"/>
<circle cx="184.7" cy="154.8" r="4"/>
<circle cx="186.8" cy="154.5" r="4"/>
<circle cx="192" cy="154.7" r="4"/>
<circle cx="192" cy="154.7" r="4"/>
<circle cx="193.1" cy="154.6" r="4"/>
<circle cx="194.6" cy="154.5" r="4"/>
<circle cx="197.1" cy="154.8" r="4"/>
<circle cx="155.5" cy="155.9" r="4"/>
<circle cx="171.1" cy="155.4" r="4"/>
<circle cx="177.7" cy="155" r="4"/>
<circle cx="178.1" cy="155.5" r="4"/>
<circle cx="178.7" cy="155.3" r="4"/>
<circle cx="184.8" cy="155.9" r="4"/>
<circle cx="184.4" cy="155.7" r="4"/>
<circle cx="185.1" cy="155.3" r="4"/>
<circle cx="185.1" cy="155.1" r="4"/>
<circle cx="185.4" cy="155.9" r="4"/>
<circle cx="185.9" cy="155.6" r="4"/>
<circle cx="186.2" cy="155.9" r="4"/>
<circle cx="187.7" cy="155.1" r="4"/>
<circle cx="188.2" cy="156" r="4"/>
<circle cx="191.4" cy="155.6" r="4"/>
<circle cx="195.5" cy="155.8" r="4"/>
<circle cx="195.6" cy="155.2" r="4"/>
<circle cx="195.1" cy="155.7" r="4"/>
<circle cx="197.1" cy="155.3" r="4"/>
<circle cx="197.5" cy="155.2" r="4"/>
<circle cx="199.7" cy="155.1" r="4"/>
<circle cx="200" cy="155.8" r="4"/>
<circle cx="202.9" cy="155.7" r="4"/>
<circle cx="148.7" cy="156.1" r="4"/>
<circle cx="162.3" cy="157" r="4"/>
<circle cx="172.2" cy="156.5" r="4"/>
<circle cx="174.4" cy="157" r="4"/>
<circle cx="175.7" cy="156.7" r="4"/>
<circle cx="181.1" cy="156.9" r="4"/>
<circle cx="182.3" cy="156.7" r="4"/>
<circle cx="183.7" cy="156.6" r="4"/>
<circle cx="185.6" cy="157" r="4"/>
<circle cx="185.2" cy="156.6" r="4"/>
<circle cx="185.4" cy="156" r="4"/>
<circle cx="187.6" cy="156" r="4"/>
<circle cx="188.8" cy="156.6" r="4"/>
<circle cx="191.7" cy="156.1" r="4"/>
<circle cx="192.5" cy="157" r="4"/>
<circle cx="194" cy="156.9" r="4"/>
<circle cx="198.4" cy="156.2" r="4"/>
<circle cx="199.4" cy="157" r="4"/>
<circle cx="199.9" cy="156.6" r="4"/>
<circle cx="205.9" cy="156.4" r="4"/>
<circle cx="145.8" cy="157.3" r="4"/>
<circle cx="153.1" cy="157.7" r="4"/>
<circle cx="157" cy="157.6" r="4"/>
<circle cx="159.1" cy="157.7" r="4"/>
<circle cx="161" cy="157.8" r="4"/>
<circle cx="165.8" cy="157.5" r="4"/>
<circle cx="170" cy="158" r="4"/>
<circle cx="175" cy="157" r="4"/>
<circle cx="175.7" cy="157.9" r="4"/>
<circle cx="177.8" cy="157.1" r="4"/>
<circle cx="185.9" cy="157.8" r="4"/>
<circle cx="188" cy="157.1" r="4"/>
<circle cx="187.8" cy="157.8" r="4"/>
<circle cx="188.7" cy="157.9" r="4"/>
<circle cx="196.8" cy="157.7" r="4"/>
<circle cx="203.1" cy="157.9" r="4"/>
<circle cx="143.4" cy="158.1" r="4"/>
<circle cx="145.8" cy="158.9" r="4"/>
<circle cx="151.9" cy="158.9" r="4"/>
<circle cx="153.5" cy="158.9" r="4"/>
<circle cx="170.8" cy="158.1" r="4"/>
<circle cx="176.7" cy="158.2" r="4"/>
<circle cx="180.2" cy="158.8" r="4"/>
<circle cx="182.9" cy="158.9" r="4"/>
<circle cx="186" cy="158" r="4"/>
<circle cx="187.7" cy="158" r="4"/>
<circle cx="194.7" cy="158.7" r="4"/>
<circle cx="197.5" cy="158.6" r="4"/>
<circle cx="198.6" cy="158.3" r="4"/>
<circle cx="198.4" cy="158.8" r="4"/>
<circle cx="198.5" cy="158.8" r="4"/>
<circle cx="199.6" cy="158.6" r="4"/>
<circle cx="201.9" cy="158.2" r="4"/>
<circle cx="205.3" cy="158.6" r="4"/>
<circle cx="148.8" cy="159.5" r="4"/>
<circle cx="149.4" cy="159.3" r="4"/>
<circle cx="151.6" cy="159" r="4"/>
<circle cx="155.2" cy="159.8" r="4"/>
<circle cx="162" cy="159.4" r="4"/>
<circle cx="169.1" cy="159.7" r="4"/>
<circle cx="173.3" cy="159.1" r="4"/>
<circle cx="173.1" cy="159.6" r="4"/>
<circle cx="175.2" cy="160" r="4"/>
<circle cx="177.5" cy="159.8" r="4"/>
<circle cx="178.6" cy="159.8" r="4"/>
<circle cx="184.8" cy="159.2" r="4"/>
<circle cx="186.3" cy="159.2" r="4"/>
<circle cx="186.8" cy="159" r="4"/>
<circle cx="186.3" cy="159.8" r="4"/>
<circle cx="191.4" cy="159.8" r="4"/>
<circle cx="193.2" cy="159.8" r="4"/>
<circle cx="197" cy="159.1" r="4"/>
<circle cx="198" cy="159.4" r="4"/>
<circle cx="201" cy="159.7" r="4"/>
<circle cx="202" cy="159.5" r="4"/>
<circle cx="204.3" cy="159.7" r="4"/>
<circle cx="140.8" cy="160.5" r="4"/>
<circle cx="140.6" cy="160.9" r="4"/>
<circle cx="170" cy="160.7" r="4"/>
<circle cx="172.3" cy="160.6" r="4"/>
<circle cx="175.3" cy="160.7" r="4"/>
<circle cx="182.7" cy="160.5" r="4"/>
<circle cx="183.2" cy="160" r="4"/>
<circle cx="185.3" cy="160.5" r="4"/>
<circle cx="185.5" cy="160.8" r="4"/>
<circle cx="188.3" cy="160.3" r="4"/>
<circle cx="189.7" cy="160.8" r="4"/>
<circle cx="190.5" cy="161" r="4"/>
<circle cx="191.9" cy="160.4" r="4"/>
<circle cx="192.6" cy="160.6" r="4"/>
<circle cx="192.3" cy="160.7" r="4"/>
<circle cx="198" cy="160.3" r="4"/>
<circle cx="197.1" cy="160.1" r="4"/>
<circle cx="202" cy="160.5" r="4"/>
<circle cx="202.8" cy="160.1" r="4"/>
<circle cx="203.7" cy="160" r="4"/>
<circle cx="207.1" cy="160.4" r="4"/>
<circle cx="152.8" cy="161.6" r="4"/>
<circle cx="156.2" cy="161.1" r="4"/>
<circle cx="158.9" cy="161.4" r="4"/>
<circle cx="172.8" cy="161.6" r="4"/>
<circle cx="175.3" cy="161.2" r="4"/>
<circle cx="175.2" cy="161.9" r="4"/>
<circle cx="177.9" cy="161.3" r="4"/>
<circle cx="177.3" cy="161.7" r="4"/>
<circle cx="181.6" cy="161.2" r="4"/>
<circle cx="181.4" cy="161.5" r="4"/>
<circle cx="183.9" cy="162" r="4"/>
<circle cx="186.4" cy="161.7" r="4"/>
<circle cx="191.2" cy="161.5" r="4"/>
<circle cx="192.7" cy="161.3" r="4"/>
<circle cx="195.5" cy="161.9" r="4"/>
<circle cx="198.8" cy="162" r="4"/>
<circle cx="198.3" cy="161.1" r="4"/>
<circle cx="200.9" cy="161.3" r="4"/>
<circle cx="200.3" cy="161.7" r="4"/>
<circle cx="143.8" cy="162.3" r="4"/>
<circle cx="147.5" cy="162.5" r="4"/>
<circle cx="148.3" cy="162.3" r="4"/>
<circle cx="151.9" cy="162.5" r="4"/>
<circle cx="156.5" cy="162.4" r="4"/>
<circle cx="177.8" cy="162.1" r="4"/>
<circle cx="179.6" cy="162.2" r="4"/>
<circle cx="179.6" cy="162.2" r="4"/>
<circle cx="181.6" cy="162.7" r="4"/>
<circle cx="186.2" cy="162.8" r="4"/>
<circle cx="189.3" cy="162.1" r="4"/>
<circle cx="189.2" cy="162.3" r="4"/>
<circle cx="190.7" cy="162.8" r="4"/>
<circle cx="190.7" cy="162.3" r="4"/>
<circle cx="193" cy="162.3" r="4"/>
<circle cx="196.5" cy="162.3" r="4"/>
<circle cx="197.4" cy="162.9" r="4"/>
<circle cx="199" cy="162.4" r="4"/>
<circle cx="198.7" cy="162.7" r="4"/>
<circle cx="198.3" cy="162.4" r="4"/>
<circle cx="200" cy="162.5" r="4"/>
<circle cx="200" cy="162.7" r="4"/>
<circle cx="201.6" cy="162.8" r="4"/>
<circle cx="204.8" cy="162.1" r="4"/>
<circle cx="145.4" cy="163.4" r="4"/>
<circle cx="146" cy="163.8" r="4"/>
<circle cx="147.1" cy="163.8" r="4"/>
<circle cx="151.9" cy="163.6" r="4"/>
<circle cx="156.6" cy="163.6" r="4"/>
<circle cx="167.4" cy="163.9" r="4"/>
<circle cx="175" cy="163.1" r="4"/>
<circle cx="174.5" cy="163.6" r="4"/>
<circle cx="184.1" cy="163" r="4"/>
<circle cx="184.2" cy="163.4" r="4"/>
<circle cx="185.8" cy="163.1" r="4"/>
<circle cx="188.5" cy="163.7" r="4"/>
<circle cx="188.7" cy="163.2" r="4"/>
<circle cx="188.6" cy="163.4" r="4"/>
<circle cx="190.2" cy="163.6" r="4"/>
<circle cx="191.7" cy="163.7" r="4"/>
<circle cx="192.8" cy="163.3" r="4"/>
<circle cx="193.7" cy="163.8" r="4"/>
<circle cx="194.9" cy="163.7" r="4"/>
<circle cx="195.6" cy="163.6" r="4"/>
<circle cx="196.1" cy="164" r="4"/>
<circle cx="197.9" cy="163.4" r="4"/>
<circle cx="199.4" cy="163.9" r="4"/>
<circle cx="199.7" cy="163.5" r="4"/>
<circle cx="140.2" cy="164.1" r="4"/>
<circle cx="145.8" cy="164.5" r="4"/>
<circle cx="149.1" cy="164.3" r="4"/>
<circle cx="154.5" cy="164.8" r="4"/>
<circle cx="155.4" cy="164.9" r="4"/>
<circle cx="157.1" cy="164.9" r="4"/>
<circle cx="168.8" cy="164.4" r="4"/>
<circle cx="169.4" cy="164.5" r="4"/>
<circle cx="169.6" cy="164.4" r="4"/>
<circle cx="171" cy="165" r="4"/>
<circle cx="170.5" cy="164.5" r="4"/>
<circle cx="171.9" cy="164.9" r="4"/>
<circle cx="173.1" cy="164.6" r="4"/>
<circle cx="176.3" cy="164.2" r="4"/>
<circle cx="177.5" cy="164.1" r="4"/>
<circle cx="180.8" cy="165" r="4"/>
<circle cx="181.8" cy="164.8" r="4"/>
<circle cx="183" cy="164.9" r="4"/>
<circle cx="182.5" cy="164.7" r="4"/>
<circle cx="183.1" cy="164.7" r="4"/>
<circle cx="183.6" cy="164.6" r="4"/>
<circle cx="188.1" cy="164.3" r="4"/>
<circle cx="200.7" cy="164.5" r="4"/>
<circle cx="201.4" cy="164" r="4"/>
<circle cx="149.4" cy="165.8" r="4"/>
<circle cx="150.8" cy="165.8" r="4"/>
<circle cx="153" cy="165.9" r="4"/>
<circle cx="153.3" cy="165.1" r="4"/>
<circle cx="170.5" cy="165.4" r="4"/>
<circle cx="176.5" cy="165.2" r="4"/>
<circle cx="180.8" cy="165.7" r="4"/>
<circle cx="181" cy="165.2" r="4"/>
<circle cx="180.2" cy="165.3" r="4"/>
<circle cx="182.3" cy="165.5" r="4"/>
<circle cx="192.3" cy="165.3" r="4"/>
<circle cx="195.4" cy="165.1" r="4"/>
<circle cx="198.5" cy="165.5" r="4"/>
<circle cx="198" cy="165.4" r="4"/>
<circle cx="204.6" cy="165.5" r="4"/>
<circle cx="142.3" cy="166.4" r="4"/>
<circle cx="151.5" cy="166.3" r="4"/>
<circle cx="158.8" cy="166.6" r="4"/>
<circle cx="161.6" cy="166.2" r="4"/>
<circle cx="161.4" cy="166.5" r="4"/>
<circle cx="166.5" cy="166.2" r="4"/>
<circle cx="178" cy="166.5" r="4"/>
<circle cx="178.7" cy="166.2" r="4"/>
<circle cx="180.2" cy="166.2" r="4"/>
<circle cx="180.1" cy="166.9" r="4"/>
<circle cx="184.8" cy="166" r="4"/>
<circle cx="188.3" cy="166.4" r="4"/>
<circle cx="190.7" cy="166.7" r="4"/>
<circle cx="191.5" cy="166.3" r="4"/>
<circle cx="192.2" cy="166.5" r="4"/>
<circle cx="196.7" cy="166.1" r="4"/>
<circle cx="197.7" cy="166.5" r="4"/>
<circle cx="203.4" cy="166.3" r="4"/>
<circle cx="146.1" cy="167.4" r="4"/>
<circle cx="150" cy="167.8" r="4"/>
<circle cx="151.7" cy="167.9" r="4"/>
<circle cx="155.6" cy="167.7" r="4"/>
<circle cx="169.9" cy="167.4" r="4"/>
<circle cx="182.6" cy="168" r="4"/>
<circle cx="183.5" cy="167.1" r="4"/>
<circle cx="185" cy="167.9" r="4"/>
<circle cx="186.3" cy="167.2" r="4"/>
<circle cx="189.4" cy="167.2" r="4"/>
<circle cx="190.6" cy="167.2" r="4"/>
<circle cx="192.2" cy="167.7" r="4"/>
<circle cx="192.8" cy="167.1" r="4"/>
<circle cx="193.1" cy="168" r="4"/>
<circle cx="206.2" cy="167.5" r="4"/>
<circle cx="140.5" cy="168.1" r="4"/>
<circle cx="145.7" cy="168.9" r="4"/>
<circle cx="145.8" cy="168.8" r="4"/>
<circle cx="152.8" cy="168.1" r="4"/>
<circle cx="152.1" cy="168.2" r="4"/>
<circle cx="152.7" cy="168.7" r="4"/>
<circle cx="167.7" cy="168.3" r="4"/>
<circle cx="172.3" cy="168.3" r="4"/>
<circle cx="175.5" cy="169" r="4"/>
<circle cx="175.6" cy="168.4" r="4"/>
<circle cx="176.6" cy="169" r="4"/>
<circle cx="180" cy="168.4" r="4"/>
<circle cx="184.5" cy="168.4" r="4"/>
<circle cx="187.6" cy="168.8" r="4"/>
<circle cx="192.1" cy="168.3" r="4"/>
<circle cx="193.8" cy="168.8" r="4"/>
<circle cx="197.3" cy="168.7" r="4"/>
<circle cx="197.9" cy="168" r="4"/>
<circle cx="199.9" cy="168.5" r="4"/>
<circle cx="202.4" cy="168.2" r="4"/>
<circle cx="144.9" cy="169.5" r="4"/>
<circle cx="149.2" cy="169.9" r="4"/>
<circle cx="156.5" cy="169.9" r="4"/>
<circle cx="158.5" cy="169.7" r="4"/>
<circle cx="164.2" cy="169.5" r="4"/>
<circle cx="166.9" cy="169.3" r="4"/>
<circle cx="174.8" cy="169.1" r="4"/>
<circle cx="175.5" cy="169.9" r="4"/>
<circle cx="175.7" cy="170" r="4"/>
<circle cx="175.1" cy="169.1" r="4"/>
<circle cx="178.8" cy="169.4" r="4"/>
<circle cx="184.2" cy="169.8" r="4"/>
<circle cx="185" cy="169.2" r="4"/>
<circle cx="187.4" cy="169.2" r="4"/>
<circle cx="191" cy="169.7" r="4"/>
<circle cx="191.2" cy="169.5" r="4"/>
<circle cx="193.1" cy="169.9" r="4"/>
<circle cx="195.9" cy="169.6" r="4"/>
<circle cx="195" cy="169.3" r="4"/>
<circle cx="199.9" cy="169" r="4"/>
<circle cx="205.2" cy="170" r="4"/>
<circle cx="141.1" cy="170.4" r="4"/>
<circle cx="148.1" cy="170.3" r="4"/>
<circle cx="150.1" cy="171" r="4"/>
<circle cx="157.5" cy="170.2" r="4"/>
<circle cx="162" cy="170.1" r="4"/>
<circle cx="164.3" cy="170.4" r="4"/>
<circle cx="169.6" cy="170.2" r="4"/>
<circle cx="173.9" cy="170.3" r="4"/>
<circle cx="173.7" cy="170.3" r="4"/>
<circle cx="178.4" cy="170.8" r="4"/>
<circle cx="178.2" cy="170.3" r="4"/>
<circle cx="180.1" cy="170.1" r="4"/>
<circle cx="181.9" cy="170.2" r="4"/>
<circle cx="181.5" cy="170.1" r="4"/>
<circle cx="181.2" cy="170.1" r="4"/>
<circle cx="184.2" cy="170.4" r="4"/>
<circle cx="189.4" cy="170" r="4"/>
<circle cx="190.7" cy="170.5" r="4"/>
<circle cx="190.7" cy="170.8" r="4"/>
<circle cx="191.8" cy="170" r="4"/>
<circle cx="192.3" cy="170.9" r="4"/>
<circle cx="193.6" cy="170.5" r="4"/>
<circle cx="194.2" cy="170.1" r="4"/>
<circle cx="196.4" cy="170.6" r="4"/>
<circle cx="201.2" cy="170" r="4"/>
<circle cx="202.8" cy="170" r="4"/>
<circle cx="206.9" cy="170.3" r="4"/>
<circle cx="208" cy="170.4" r="4"/>
<circle cx="209.4" cy="170.7" r="4"/>
<circle cx="140.2" cy="171.1" r="4"/>
<circle cx="146.2" cy="171" r="4"/>
<circle cx="150.5" cy="171.1" r="4"/>
<circle cx="162" cy="171.7" r="4"/>
<circle cx="170.8" cy="171.9" r="4"/>
<circle cx="171.7" cy="171.9" r="4"/>
<circle cx="171.8" cy="171.7" r="4"/>
<circle cx="175" cy="171.5" r="4"/>
<circle cx="183.4" cy="171.7" r="4"/>
<circle cx="183.6" cy="171.1" r="4"/>
<circle cx="188" cy="171.2" r="4"/>
<circle cx="188.4" cy="171.9" r="4"/>
<circle cx="189.2" cy="171.6" r="4"/>
<circle cx="192.5" cy="171.4" r="4"/>
<circle cx="204.5" cy="171.8" r="4"/>
<circle cx="204.6" cy="171.1" r="4"/>
<circle cx="148.1" cy="172.6" r="4"/>
<circle cx="151.1" cy="172.3" r="4"/>
<circle cx="151.4" cy="172.5" r="4"/>
<circle cx="154" cy="172.5" r="4"/>
<circle cx="160.2" cy="172.2" r="4"/>
<circle cx="165.3" cy="172.3" r="4"/>
<circle cx="168.9" cy="172.3" r="4"/>
<circle cx="168.9" cy="172.7" r="4"/>
<circle cx="169" cy="172.7" r="4"/>
<circle cx="173.9" cy="172.6" r="4"/>
<circle cx="173.4" cy="172.9" r="4"/>
<circle cx="174.6" cy="172.1" r="4"/>
<circle cx="177.1" cy="172.9" r="4"/>
<circle cx="190.1" cy="172.2" r="4"/>
<circle cx="193.1" cy="172.2" r="4"/>
<circle cx="194.5" cy="172.8" r="4"/>
<circle cx="199.8" cy="172.7" r="4"/>
<circle cx="142.3" cy="173.8" r="4"/>
<circle cx="159.4" cy="173.8" r="4"/>
<circle cx="169.5" cy="174" r="4"/>
<circle cx="169.1" cy="173.4" r="4"/>
<circle cx="171.5" cy="173.5" r="4"/>
<circle cx="172.2" cy="173.9" r="4"/>
<circle cx="173.8" cy="173.7" r="4"/>
<circle cx="175" cy="173.4" r="4"/>
<circle cx="177.1" cy="173.4" r="4"/>
<circle cx="178.7" cy="173.3" r="4"/>
<circle cx="180.8" cy="173.6" r="4"/>
<circle cx="187.8" cy="173.7" r="4"/>
<circle cx="189.3" cy="173.6" r="4"/>
<circle cx="193.8" cy="173.6" r="4"/>
<circle cx="194.9" cy="173.1" r="4"/>
<circle cx="195.1" cy="173.2" r="4"/>
<circle cx="195" cy="173.7" r="4"/>
<circle cx="198.3" cy="173.2" r="4"/>
<circle cx="200.6" cy="173.8" r="4"/>
<circle cx="200.3" cy="173.7" r="4"/>
<circle cx="202.1" cy="173" r="4"/>
<circle cx="144.5" cy="174.1" r="4"/>
<circle cx="152.5" cy="174.6" r="4"/>
<circle cx="157.3" cy="174.8" r="4"/>
<circle cx="159.5" cy="174.2" r="4"/>
<circle cx="168.1" cy="174.5" r="4"/>
<circle cx="171.8" cy="174.6" r="4"/>
<circle cx="172.7" cy="174.3" r="4"/>
<circle cx="173.3" cy="174.5" r="4"/>
<circle cx="178.1" cy="174.1" r="4"/>
<circle cx="186.7" cy="174.7" r="4"/>
<circle cx="195.4" cy="174.2" r="4"/>
<circle cx="196.5" cy="174.4" r="4"/>
<circle cx="201" cy="174.7" r="4"/>
<circle cx="207.2" cy="174.5" r="4"/>
<circle cx="141.5" cy="175.6" r="4"/>
<circle cx="151.6" cy="175" r="4"/>
<circle cx="152.3" cy="175.9" r="4"/>
<circle cx="168.8" cy="176" r="4"/>
<circle cx="169.7" cy="175.6" r="4"/>
<circle cx="171" cy="175.8" r="4"/>
<circle cx="172.3" cy="175.3" r="4"/>
<circle cx="176.9" cy="175.4" r="4"/>
<circle cx="176.4" cy="175.7" r="4"/>
<circle cx="179" cy="175.2" r="4"/>
<circle cx="181.6" cy="176" r="4"/>
<circle cx="196.4" cy="175.7" r="4"/>
<circle cx="196.7" cy="175.8" r="4"/>
<circle cx="199.3" cy="175.7" r="4"/>
<circle cx="200.2" cy="175.1" r="4"/>
<circle cx="206.3" cy="175" r="4"/>
<circle cx="142.6" cy="176.1" r="4"/>
<circle cx="142.9" cy="176.1" r="4"/>
<circle cx="142.6" cy="176.8" r="4"/>
<circle cx="147.7" cy="177" r="4"/>
<circle cx="153.9" cy="176.3" r="4"/>
<circle cx="154" cy="176.4" r="4"/>
<circle cx="157.1" cy="176.1" r="4"/>
<circle cx="158.3" cy="176.4" r="4"/>
<circle cx="161.1" cy="176.3" r="4"/>
<circle cx="162.4" cy="176.7" r="4"/>
<circle cx="163.3" cy="176.7" r="4"/>
<circle cx="164.4" cy="176.8" r="4"/>
<circle cx="172.8" cy="176.1" r="4"/>
<circle cx="174.6" cy="177" r="4"/>
<circle cx="184.5" cy="176.2" r="4"/>
<circle cx="191.7" cy="176.2" r="4"/>
<circle cx="193.8" cy="176" r="4"/>
<circle cx="198.3" cy="176.3" r="4"/>
<circle cx="206.1" cy="176.9" r="4"/>
<circle cx="140.3" cy="178" r="4"/>
<circle cx="142" cy="177.2" r="4"/>
<circle cx="142.3" cy="177.4" r="4"/>
<circle cx="144.3" cy="177.7" r="4"/>
<circle cx="146.8" cy="177.5" r="4"/>
<circle cx="164" cy="177.1" r="4"/>
<circle cx="170.6" cy="177.2" r="4"/>
<circle cx="176.4" cy="177.4" r="4"/>
<circle cx="176.1" cy="177.2" r="4"/>
<circle cx="178.3" cy="177.7" r="4"/>
<circle cx="193.3" cy="178" r="4"/>
<circle cx="194.4" cy="177.7" r="4"/>
<circle cx="196.1" cy="178" r="4"/>
<circle cx="196.7" cy="177.8" r="4"/>
<circle cx="198.7" cy="177.9" r="4"/>
<circle cx="200.3" cy="177.8" r="4"/>
<circle cx="204" cy="177.5" r="4"/>
<circle cx="140" cy="178.4" r="4"/>
<circle cx="148.6" cy="178.8" r="4"/>
<circle cx="150.3" cy="178.3" r="4"/>
<circle cx="150.6" cy="179" r="4"/>
<circle cx="151.7" cy="178.2" r="4"/>
<circle cx="157.4" cy="179" r="4"/>
<circle cx="158.5" cy="178.5" r="4"/>
<circle cx="165.5" cy="178.1" r="4"/>
<circle cx="166.9" cy="178.8" r="4"/>
<circle cx="169.7" cy="178.3" r="4"/>
<circle cx="184.9" cy="178.9" r="4"/>
<circle cx="185.6" cy="179" r="4"/>
<circle cx="187.5" cy="178.7" r="4"/>
<circle cx="188" cy="178.6" r="4"/>
<circle cx="189.3" cy="179" r="4"/>
<circle cx="190.8" cy="179" r="4"/>
<circle cx="192.1" cy="178.6" r="4"/>
<circle cx="192.5" cy="178.7" r="4"/>
<circle cx="193.1" cy="178.1" r="4"/>
<circle cx="193.7" cy="178.9" r="4"/>
<circle cx="194.5" cy="178.7" r="4"/>
<circle cx="197.2" cy="178" r="4"/>
<circle cx="202" cy="178.8" r="4"/>
<circle cx="202.9" cy="178.3" r="4"/>
<circle cx="208.9" cy="179" r="4"/>
<circle cx="157.5" cy="179.9" r="4"/>
<circle cx="179" cy="179.6" r="4"/>
<circle cx="179.4" cy="179.6" r="4"/>
<circle cx="180.1" cy="179.3" r="4"/>
<circle cx="180" cy="179.9" r="4"/>
<circle cx="181.6" cy="180" r="4"/>
<circle cx="181.5" cy="180" r="4"/>
<circle cx="181.4" cy="179.4" r="4"/>
<circle cx="185.5" cy="179.4" r="4"/>
<circle cx="186.3" cy="179" r="4"/>
<circle cx="192.3" cy="179.6" r="4"/>
<circle cx="194.6" cy="179.3" r="4"/>
<circle cx="194.7" cy="179.1" r="4"/>
<circle cx="195.4" cy="179.3" r="4"/>
<circle cx="195.5" cy="179.2" r="4"/>
<circle cx="195.8" cy="179.9" r="4"/>
<circle cx="196.5" cy="179.6" r="4"/>
<circle cx="199.1" cy="179.6" r="4"/>
<circle cx="206.2" cy="179.5" r="4"/>
<circle cx="143.8" cy="180.4" r="4"/>
<circle cx="150.5" cy="180.6" r="4"/>
<circle cx="158" cy="180.4" r="4"/>
<circle cx="161.4" cy="180.8" r="4"/>
<circle cx="161.6" cy="180.4" r="4"/>
<circle cx="163" cy="180.6" r="4"/>
<circle cx="166.8" cy="180.7" r="4"/>
<circle cx="167.9" cy="180.4" r="4"/>
<circle cx="174.8" cy="180.3" r="4"/>
<circle cx="178.7" cy="180" r="4"/>
<circle cx="180.8" cy="180.8" r="4"/>
<circle cx="180.9" cy="180.5" r="4"/>
<circle cx="184.1" cy="180" r="4"/>
<circle cx="187.2" cy="180.2" r="4"/>
<circle cx="189.1" cy="180" r="4"/>
<circle cx="190.7" cy="180" r="4"/>
<circle cx="191.6" cy="180.4" r="4"/>
<circle cx="195.3" cy="180.5" r="4"/>
<circle cx="145.3" cy="181.8" r="4"/>
<circle cx="152.8" cy="181.4" r="4"/>
<circle cx="155.1" cy="181.9" r="4"/>
<circle cx="164" cy="181.2" r="4"/>
<circle cx="165.7" cy="181.5" r="4"/>
<circle cx="167.5" cy="181.3" r="4"/>
<circle cx="170.7" cy="182" r="4"/>
<circle cx="170.4" cy="181.6" r="4"/>
<circle cx="170.4" cy="181.5" r="4"/>
<circle cx="172.7" cy="181.6" r="4"/>
<circle cx="177.7" cy="181.9" r="4"/>
<circle cx="179" cy="181.5" r="4"/>
<circle cx="180.5" cy="181.7" r="4"/>
<circle cx="182.3" cy="181.1" r="4"/>
<circle cx="186" cy="181.8" r="4"/>
<circle cx="185.2" cy="181.2" r="4"/>
<circle cx="185.8" cy="181.1" r="4"/>
<circle cx="186.8" cy="181.8" r="4"/>
<circle cx="188.2" cy="181.3" r="4"/>
<circle cx="191.7" cy="181.4" r="4"/>
<circle cx="191.9" cy="181" r="4"/>
<circle cx="191.6" cy="181.1" r="4"/>
<circle cx="191.2" cy="181" r="4"/>
<circle cx="192.1" cy="181.5" r="4"/>
<circle cx="193.2" cy="181.5" r="4"/>
<circle cx="195.5" cy="181.7" r="4"/>
<circle cx="198" cy="181.9" r="4"/>
<circle cx="203.7" cy="181.8" r="4"/>
<circle cx="203.8" cy="181.5" r="4"/>
<circle cx="207.1" cy="181.7" r="4"/>
<circle cx="212.5" cy="181.7" r="4"/>
<circle cx="148.1" cy="182.8" r="4"/>
<circle cx="152.9" cy="182.9" r="4"/>
<circle cx="159.6" cy="182.4" r="4"/>
<circle cx="159.8" cy="182.9" r="4"/>
<circle cx="169.6" cy="182.8" r="4"/>
<circle cx="178.9" cy="182.3" r="4"/>
<circle cx="179.7" cy="182.6" r="4"/>
<circle cx="181.6" cy="182.4" r="4"/>
<circle cx="182.2" cy="182.6" r="4"/>
<circle cx="182.4" cy="182.1" r="4"/>
<circle cx="185.6" cy="182.2" r="4"/>
<circle cx="187.4" cy="182.5" r="4"/>
<circle cx="187.8" cy="182.7" r="4"/>
<circle cx="187.5" cy="182.4" r="4"/>
<circle cx="189.2" cy="182.1" r="4"/>
<circle cx="189.9" cy="183" r="4"/>
<circle cx="196.1" cy="182.2" r="4"/>
<circle cx="200.1" cy="182.8" r="4"/>
<circle cx="201.7" cy="182.4" r="4"/>
<circle cx="202.3" cy="182.1" r="4"/>
<circle cx="147.3" cy="183.6" r="4"/>
<circle cx="149.6" cy="183.7" r="4"/>
<circle cx="156.3" cy="183.7" r="4"/>
<circle cx="158.4" cy="183.7" r="4"/>
<circle cx="159.5" cy="183.7" r="4"/>
<circle cx="165.4" cy="183.4" r="4"/>
<circle cx="167.6" cy="183.8" r="4"/>
<circle cx="168.5" cy="183.9" r="4"/>
<circle cx="169.6" cy="183.8" r="4"/>
<circle cx="174.4" cy="183.2" r="4"/>
<circle cx="176.6" cy="183.5" r="4"/>
<circle cx="180.8" cy="183.3" r="4"/>
<circle cx="182.7" cy="183.5" r="4"/>
<circle cx="183.6" cy="183.9" r="4"/>
<circle cx="183.1" cy="183.3" r="4"/>
<circle cx="185.6" cy="183" r="4"/>
<circle cx="192.3" cy="183.4" r="4"/>
<circle cx="193" cy="183.2" r="4"/>
<circle cx="193.6" cy="183" r="4"/>
<circle cx="193.1" cy="183.2" r="4"/>
<circle cx="197.6" cy="183.1" r="4"/>
<circle cx="199.2" cy="183" r="4"/>
<circle cx="203.6" cy="183.3" r="4"/>
<circle cx="207.7" cy="183.9" r="4"/>
<circle cx="149.8" cy="184.8" r="4"/>
<circle cx="155" cy="184.6" r="4"/>
<circle cx="163.5" cy="184.2" r="4"/>
<circle cx="166.2" cy="184.8" r="4"/>
<circle cx="168" cy="184.8" r="4"/>
<circle cx="170" cy="184.5" r="4"/>
<circle cx="175.7" cy="184.4" r="4"/>
<circle cx="181.5" cy="184.8" r="4"/>
<circle cx="181.1" cy="184.5" r="4"/>
<circle cx="182.7" cy="184.4" r="4"/>
<circle cx="183.8" cy="184.2" r="4"/>
<circle cx="183.5" cy="184.7" r="4"/>
<circle cx="185.5" cy="184.9" r="4"/>
<circle cx="186.7" cy="184.6" r="4"/>
<circle cx="187.8" cy="184.5" r="4"/>
<circle cx="190" cy="184.4" r="4"/>
<circle cx="192.7" cy="185" r="4"/>
<circle cx="193.2" cy="184.3" r="4"/>
<circle cx="195.7" cy="184.6" r="4"/>
<circle cx="197" cy="184.5" r="4"/>
<circle cx="197.6" cy="185" r="4"/>
<circle cx="199.4" cy="184.2" r="4"/>
<circle cx="201.1" cy="184.6" r="4"/>
<circle cx="201.5" cy="184.4" r="4"/>
<circle cx="202.5" cy="184.8" r="4"/>
<circle cx="205.8" cy="184.1" r="4"/>
<circle cx="141.9" cy="185.2" r="4"/>
<circle cx="142.8" cy="185.1" r="4"/>
<circle cx="148.7" cy="185.9" r="4"/>
<circle cx="151" cy="185.7" r="4"/>
<circle cx="156.6" cy="185.9" r="4"/>
<circle cx="157.2" cy="185" r="4"/>
<circle cx="158.1" cy="185.3" r="4"/>
<circle cx="159.3" cy="185.3" r="4"/>
<circle cx="161.2" cy="185.4" r="4"/>
<circle cx="162.5" cy="185.6" r="4"/>
<circle cx="163.7" cy="185.4" r="4"/>
<circle cx="170.6" cy="185.2" r="4"/>
<circle cx="171.4" cy="185.4" r="4"/>
<circle cx="177.4" cy="185.1" r="4"/>
<circle cx="178.9" cy="185.4" r="4"/>
<circle cx="178" cy="186" r="4"/>
<circle cx="181.7" cy="185.7" r="4"/>
<circle cx="182.6" cy="185.2" r="4"/>
<circle cx="184" cy="185.6" r="4"/>
<circle cx="183.1" cy="185.8" r="4"/>
<circle cx="188.7" cy="185.5" r="4"/>
<circle cx="188.3" cy="185.5" r="4"/>
<circle cx="192" cy="185.3" r="4"/>
<circle cx="197.3" cy="185.6" r="4"/>
<circle cx="199.2" cy="185.6" r="4"/>
<circle cx="201.8" cy="185.8" r="4"/>
<circle cx="202.8" cy="185.8" r="4"/>
<circle cx="205" cy="185.1" r="4"/>
<circle cx="204.5" cy="185.7" r="4"/>
<circle cx="151.1" cy="186.4" r="4"/>
<circle cx="157.9" cy="186" r="4"/>
<circle cx="165.6" cy="186.8" r="4"/>
<circle cx="165.7" cy="186.5" r="4"/>
<circle cx="168.9" cy="186.6" r="4"/>
<circle cx="169.2" cy="186.9" r="4"/>
<circle cx="169.4" cy="186.9" r="4"/>
<circle cx="169.8" cy="186.3" r="4"/>
<circle cx="170.7" cy="186.5" r="4"/>
<circle cx="173.4" cy="186.4" r="4"/>
<circle cx="175.1" cy="186.1" r="4"/>
<circle cx="176.3" cy="186.1" r="4"/>
<circle cx="176.5" cy="186.5" r="4"/>
<circle cx="179.7" cy="186.6" r="4"/>
<circle cx="180.2" cy="186.7" r="4"/>
<circle cx="180.5" cy="186.9" r="4"/>
<circle cx="183.6" cy="186.1" r="4"/>
<circle cx="185.2" cy="186.9" r="4"/>
<circle cx="186.2" cy="186.3" r="4"/>
<circle cx="188.7" cy="186.2" r="4"/>
<circle cx="189.9" cy="186.8" r="4"/>
<circle cx="191.4" cy="186.1" r="4"/>
<circle cx="196.1" cy="186.7" r="4"/>
<circle cx="196.2" cy="186.2" r="4"/>
<circle cx="197.5" cy="186.6" r="4"/>
<circle cx="198.9" cy="186.5" r="4"/>
<circle cx="202.1" cy="186.4" r="4"/>
<circle cx="203.3" cy="186.1" r="4"/>
<circle cx="142.8" cy="188" r="4"/>
<circle cx="145.1" cy="187.4" r="4"/>
<circle cx="149.4" cy="187.4" r="4"/>
<circle cx="150.7" cy="187.7" r="4"/>
<circle cx="155.1" cy="187.4" r="4"/>
<circle cx="158.7" cy="187.3" r="4"/>
<circle cx="161.5" cy="187.7" r="4"/>
<circle cx="165.1" cy="187.6" r="4"/>
<circle cx="167.7" cy="187.6" r="4"/>
<circle cx="170" cy="187.7" r="4"/>
<circle cx="169.9" cy="187.5" r="4"/>
<circle cx="174.7" cy="187.6" r="4"/>
<circle cx="179.4" cy="187.7" r="4"/>
<circle cx="180.6" cy="187.9" r="4"/>
<circle cx="184.1" cy="187.4" r="4"/>
<circle cx="184.6" cy="187.3" r="4"/>
<circle cx="186.3" cy="187.6" r="4"/>
<circle cx="188.7" cy="187.4" r="4"/>
<circle cx="192.7" cy="188" r="4"/>
<circle cx="194.5" cy="187.3" r="4"/>
<circle cx="195.9" cy="187.4" r="4"/>
<circle cx="197.2" cy="187.3" r="4"/>
<circle cx="197.2" cy="187.7" r="4"/>
<circle cx="201.5" cy="187.9" r="4"/>
<circle cx="202.6" cy="187.4" r="4"/>
<circle cx="203.2" cy="187.4" r="4"/>
<circle cx="204.7" cy="187.9" r="4"/>
<circle cx="204" cy="187.7" r="4"/>
<circle cx="142.9" cy="188" r="4"/>
<circle cx="142" cy="188.8" r="4"/>
<circle cx="153.2" cy="188.6" r="4"/>
<circle cx="153.1" cy="188.9" r="4"/>
<circle cx="165.3" cy="188.9" r="4"/>
<circle cx="168.9" cy="188.7" r="4"/>
<circle cx="169.6" cy="188.4" r="4"/>
<circle cx="170.3" cy="188.2" r="4"/>
<circle cx="171.6" cy="188.9" r="4"/>
<circle cx="172.1" cy="188.6" r="4"/>
<circle cx="177.7" cy="188.6" r="4"/>
<circle cx="181.4" cy="189" r="4"/>
<circle cx="182.6" cy="188.4" r="4"/>
<circle cx="182.2" cy="188.8" r="4"/>
<circle cx="183.5" cy="188.7" r="4"/>
<circle cx="184.7" cy="189" r="4"/>
<circle cx="184.2" cy="188.3" r="4"/>
<circle cx="184.2" cy="188.1" r="4"/>
<circle cx="186.4" cy="188.6" r="4"/>
<circle cx="190.4" cy="188.8" r="4"/>
<circle cx="191.4" cy="188.9" r="4"/>
<circle cx="191.4" cy="188.6" r="4"/>
<circle cx="195.2" cy="188.8" r="4"/>
<circle cx="195.7" cy="188.2" r="4"/>
<circle cx="199" cy="188.3" r="4"/>
<circle cx="198.4" cy="188.6" r="4"/>
<circle cx="199.7" cy="188" r="4"/>
<circle cx="200" cy="188.7" r="4"/>
<circle cx="200.5" cy="189" r="4"/>
<circle cx="201.5" cy="188.3" r="4"/>
<circle cx="203.6" cy="188.1" r="4"/>
<circle cx="141" cy="189.4" r="4"/>
<circle cx="146.6" cy="189.6" r="4"/>
<circle cx="146.1" cy="189.9" r="4"/>
<circle cx="147.9" cy="190" r="4"/>
<circle cx="149.8" cy="189.5" r="4"/>
<circle cx="154.3" cy="189.5" r="4"/>
<circle cx="154.8" cy="189.3" r="4"/>
<circle cx="160.9" cy="189.6" r="4"/>
<circle cx="160.1" cy="189.6" r="4"/>
<circle cx="161.5" cy="189.3" r="4"/>
<circle cx="162.4" cy="189.5" r="4"/>
<circle cx="163.4" cy="189.5" r="4"/>
<circle cx="163" cy="189.4" r="4"/>
<circle cx="165.9" cy="189.8" r="4"/>
<circle cx="168.7" cy="189.8" r="4"/>
<circle cx="169.2" cy="189.1" r="4"/>
<circle cx="173.7" cy="189.9" r="4"/>
<circle cx="175.1" cy="189.7" r="4"/>
<circle cx="175.5" cy="189.2" r="4"/>
<circle cx="178.2" cy="189.6" r="4"/>
<circle cx="184.3" cy="189.4" r="4"/>
<circle cx="188" cy="189.4" r="4"/>
<circle cx="189.2" cy="189" r="4"/>
<circle cx="190" cy="189.4" r="4"/>
<circle cx="191.3" cy="189.8" r="4"/>
<circle cx="194.6" cy="189.2" r="4"/>
<circle cx="196.7" cy="189.6" r="4"/>
<circle cx="200.1" cy="190" r="4"/>
<circle cx="200.1" cy="189.5" r="4"/>
<circle cx="201.2" cy="189.2" r="4"/>
<circle cx="148" cy="190.3" r="4"/>
<circle cx="148" cy="190.1" r="4"/>
<circle cx="150.8" cy="190.6" r="4"/>
<circle cx="153.7" cy="190.2" r="4"/>
<circle cx="154.9" cy="190.6" r="4"/>
<circle cx="154.3" cy="190.3" r="4"/>
<circle cx="154.1" cy="190.9" r="4"/>
<circle cx="156.3" cy="190.9" r="4"/>
<circle cx="157.5" cy="190.4" r="4"/>
<circle cx="160.5" cy="190.1" r="4"/>
<circle cx="160" cy="190.1" r="4"/>
<circle cx="161.2" cy="190.8" r="4"/>
<circle cx="161.5" cy="190.5" r="4"/>
<circle cx="162" cy="191" r="4"/>
<circle cx="163.5" cy="190.2" r="4"/>
<circle cx="164.7" cy="190.4" r="4"/>
<circle cx="168" cy="190.5" r="4"/>
<circle cx="168.7" cy="190.4" r="4"/>
<circle cx="169.5" cy="190.6" r="4"/>
<circle cx="170.4" cy="190.3" r="4"/>
<circle cx="172.2" cy="190.8" r="4"/>
<circle cx="177.3" cy="190.1" r="4"/>
<circle cx="179.2" cy="190.8" r="4"/>
<circle cx="182.7" cy="190.5" r="4"/>
<circle cx="185.3" cy="190.7" r="4"/>
<circle cx="188.4" cy="190.7" r="4"/>
<circle cx="190.5" cy="190.7" r="4"/>
<circle cx="192.5" cy="190.1" r="4"/>
<circle cx="141.8" cy="191.9" r="4"/>
<circle cx="144.8" cy="191.3" r="4"/>
<circle cx="145.7" cy="191.7" r="4"/>
<circle cx="145.3" cy="191.9" r="4"/>
<circle cx="155.1" cy="191.2" r="4"/>
<circle cx="156.3" cy="191" r="4"/>
<circle cx="156.5" cy="191.4" r="4"/>
<circle cx="158.2" cy="191.5" r="4"/>
<circle cx="163.1" cy="191" r="4"/>
<circle cx="164.1" cy="191.9" r="4"/>
<circle cx="166.2" cy="191.6" r="4"/>
<circle cx="176.6" cy="191.6" r="4"/>
<circle cx="176.7" cy="191.6" r="4"/>
<circle cx="180.6" cy="191.2" r="4"/>
<circle cx="182" cy="191.7" r="4"/>
<circle cx="186.9" cy="191.1" r="4"/>
<circle cx="187.2" cy="191.8" r="4"/>
<circle cx="188.5" cy="191.7" r="4"/>
<circle cx="190.3" cy="191.3" r="4"/>
<circle cx="190.9" cy="191.4" r="4"/>
<circle cx="191.2" cy="191.3" r="4"/>
<circle cx="192.3" cy="191.4" r="4"/>
<circle cx="196" cy="191.9" r="4"/>
<circle cx="200" cy="191.5" r="4"/>
<circle cx="201.8" cy="191.4" r="4"/>
<circle cx="143.1" cy="192" r="4"/>
<circle cx="145.5" cy="192.9" r="4"/>
<circle cx="147.3" cy="192.5" r="4"/>
<circle cx="148.5" cy="192.1" r="4"/>
<circle cx="148.9" cy="192.4" r="4"/>
<circle cx="151" cy="192.8" r="4"/>
<circle cx="151.5" cy="192.9" r="4"/>
<circle cx="156" cy="192.4" r="4"/>
<circle cx="161.5" cy="192.7" r="4"/>
<circle cx="166.7" cy="192.6" r="4"/>
<circle cx="168.9" cy="192.4" r="4"/>
<circle cx="168.2" cy="192.2" r="4"/>
<circle cx="168.4" cy="192.3" r="4"/>
<circle cx="168.3" cy="192.9" r="4"/>
<circle cx="172.2" cy="192.8" r="4"/>
<circle cx="172.5" cy="192" r="4"/>
<circle cx="183.3" cy="192.6" r="4"/>
<circle cx="185.4" cy="192.2" r="4"/>
<circle cx="188.8" cy="192.7" r="4"/>
<circle cx="189" cy="192.3" r="4"/>
<circle cx="190.1" cy="192.5" r="4"/>
<circle cx="191.6" cy="192.5" r="4"/>
<circle cx="195.1" cy="192.3" r="4"/>
<circle cx="196.1" cy="192.2" r="4"/>
<circle cx="199" cy="192.7" r="4"/>
<circle cx="200.3" cy="192.3" r="4"/>
<circle cx="204.6" cy="192.8" r="4"/>
<circle cx="206.7" cy="192.3" r="4"/>
<circle cx="142" cy="193.3" r="4"/>
<circle cx="145.2" cy="193.2" r="4"/>
<circle cx="148.9" cy="193.9" r="4"/>
<circle cx="148.9" cy="193.9" r="4"/>
<circle cx="150.6" cy="193.2" r="4"/>
<circle cx="151.1" cy="193.1" r="4"/>
<circle cx="152.8" cy="193.6" r="4"/>
<circle cx="155.9" cy="193.7" r="4"/>
<circle cx="158.7" cy="193.3" r="4"/>
<circle cx="159.6" cy="193.3" r="4"/>
<circle cx="161" cy="193.9" r="4"/>
<circle cx="164.9" cy="193.9" r="4"/>
<circle cx="168.8" cy="193.1" r="4"/>
<circle cx="171.4" cy="193.4" r="4"/>
<circle cx="176.9" cy="193.9" r="4"/>
<circle cx="183.2" cy="193.3" r="4"/>
<circle cx="188.5" cy="193.1" r="4"/>
<circle cx="189.2" cy="193.9" r="4"/>
<circle cx="190.2" cy="193.9" r="4"/>
<circle cx="190.2" cy="193.9" r="4"/>
<circle cx="191.2" cy="193.9" r="4"/>
<circle cx="192" cy="193.2" r="4"/>
<circle cx="194" cy="193.3" r="4"/>
<circle cx="201.7" cy="193.1" r="4"/>
<circle cx="206.3" cy="193.5" r="4"/>
<circle cx="207.1" cy="193.7" r="4"/>
<circle cx="142.2" cy="194.8" r="4"/>
<circle cx="150.5" cy="194.9" r="4"/>
<circle cx="153" cy="194.3" r="4"/>
<circle cx="155.6" cy="194.3" r="4"/>
<circle cx="160.1" cy="194.1" r="4"/>
<circle cx="161.4" cy="194.1" r="4"/>
<circle cx="165.4" cy="194.2" r="4"/>
<circle cx="172.8" cy="194.3" r="4"/>
<circle cx="173.6" cy="194.1" r="4"/>
<circle cx="173.5" cy="194" r="4"/>
<circle cx="174.5" cy="194.2" r="4"/>
<circle cx="182" cy="194.8" r="4"/>
<circle cx="183.4" cy="194.2" r="4"/>
<circle cx="188.6" cy="194.2" r="4"/>
<circle cx="189.9" cy="194.5" r="4"/>
<circle cx="196.3" cy="194.3" r="4"/>
<circle cx="198.3" cy="194.7" r="4"/>
<circle cx="200.2" cy="194.9" r="4"/>
<circle cx="200.1" cy="194.9" r="4"/>
<circle cx="201.9" cy="194.8" r="4"/>
<circle cx="203.3" cy="194.9" r="4"/>
<circle cx="141.2" cy="195.6" r="4"/>
<circle cx="142.1" cy="196" r="4"/>
<circle cx="143.3" cy="195.3" r="4"/>
<circle cx="152.5" cy="195.4" r="4"/>
<circle cx="153.3" cy="195.8" r="4"/>
<circle cx="157.9" cy="195.6" r="4"/>
<circle cx="169.2" cy="195.5" r="4"/>
<circle cx="177.4" cy="195.8" r="4"/>
<circle cx="177.1" cy="195.1" r="4"/>
<circle cx="180.4" cy="195.6" r="4"/>
<circle cx="182.7" cy="195.6" r="4"/>
<circle cx="183.3" cy="196" r="4"/>
<circle cx="184.9" cy="195.4" r="4"/>
<circle cx="187.1" cy="195.8" r="4"/>
<circle cx="188.2" cy="195.8" r="4"/>
<circle cx="188.6" cy="196" r="4"/>
<circle cx="188.7" cy="195.4" r="4"/>
<circle cx="204.6" cy="195.1" r="4"/>
<circle cx="207.9" cy="195.9" r="4"/>
<circle cx="144.8" cy="196.3" r="4"/>
<circle cx="150.2" cy="196.4" r="4"/>
<circle cx="157.8" cy="196.6" r="4"/>
<circle cx="162.3" cy="196.6" r="4"/>
<circle cx="163.7" cy="196.5" r="4"/>
<circle cx="164.2" cy="196" r="4"/>
<circle cx="166.5" cy="196.4" r="4"/>
<circle cx="168.6" cy="196.2" r="4"/>
<circle cx="168.7" cy="197" r="4"/>
<circle cx="169.4" cy="196.8" r="4"/>
<circle cx="169.6" cy="196.4" r="4"/>
<circle cx="170.2" cy="196.1" r="4"/>
<circle cx="179.5" cy="196.9" r="4"/>
<circle cx="179.3" cy="196.8" r="4"/>
<circle cx="181.9" cy="196.9" r="4"/>
<circle cx="183" cy="196.2" r="4"/>
<circle cx="184.2" cy="197" r="4"/>
<circle cx="187.4" cy="196.7" r="4"/>
<circle cx="187.8" cy="196.1" r="4"/>
<circle cx="188.7" cy="196.4" r="4"/>
<circle cx="192.7" cy="196.8" r="4"/>
<circle cx="196.6" cy="196.6" r="4"/>
<circle cx="197" cy="196.1" r="4"/>
<circle cx="198.4" cy="196.6" r="4"/>
<circle cx="199.3" cy="196.5" r="4"/>
<circle cx="200.2" cy="196.4" r="4"/>
<circle cx="201.7" cy="196.2" r="4"/>
<circle cx="203.8" cy="196.5" r="4"/>
<circle cx="207.8" cy="196.3" r="4"/>
<circle cx="148.9" cy="197.4" r="4"/>
<circle cx="148.3" cy="197.3" r="4"/>
<circle cx="153" cy="197.6" r="4"/>
<circle cx="154.9" cy="197.1" r="4"/>
<circle cx="158.1" cy="198" r="4"/>
<circle cx="162.7" cy="197.6" r="4"/>
<circle cx="165.7" cy="197.9" r="4"/>
<circle cx="165.8" cy="197.4" r="4"/>
<circle cx="167.5" cy="197.6" r="4"/>
<circle cx="169.6" cy="197.1" r="4"/>
<circle cx="174.4" cy="197.7" r="4"/>
<circle cx="177.6" cy="197.1" r="4"/>
<circle cx="177.3" cy="197.8" r="4"/>
<circle cx="178.1" cy="197.3" r="4"/>
<circle cx="179.5" cy="197.8" r="4"/>
<circle cx="179.5" cy="197.8" r="4"/>
<circle cx="181" cy="197.5" r="4"/>
<circle cx="183.7" cy="197.8" r="4"/>
<circle cx="183.1" cy="197.8" r="4"/>
<circle cx="184" cy="197.1" r="4"/>
<circle cx="188.2" cy="197.8" r="4"/>
<circle cx="197.8" cy="197.5" r="4"/>
<circle cx="143.5" cy="198.1" r="4"/>
<circle cx="147.6" cy="198.6" r="4"/>
<circle cx="148.8" cy="198.9" r="4"/>
<circle cx="150.8" cy="198.7" r="4"/>
<circle cx="150" cy="198.4" r="4"/>
<circle cx="159.2" cy="198.4" r="4"/>
<circle cx="159.8" cy="198.2" r="4"/>
<circle cx="160.6" cy="198.2" r="4"/>
<circle cx="160.2" cy="198.2" r="4"/>
<circle cx="167.5" cy="198.7" r="4"/>
<circle cx="168.1" cy="198.1" r="4"/>
<circle cx="168.9" cy="198.5" r="4"/>
<circle cx="171.6" cy="198.1" r="4"/>
<circle cx="174.1" cy="198.8" r="4"/>
<circle cx="175.7" cy="198.4" r="4"/>
<circle cx="188.3" cy="198.9" r="4"/>
<circle cx="189.6" cy="198.1" r="4"/>
<circle cx="195.8" cy="198.3" r="4"/>
<circle cx="197.6" cy="198.1" r="4"/>
<circle cx="199.8" cy="199" r="4"/>
<circle cx="201.2" cy="198.7" r="4"/>
<circle cx="202.9" cy="198.2" r="4"/>
<circle cx="203.7" cy="198.5" r="4"/>
<circle cx="143.8" cy="199.6" r="4"/>
<circle cx="144.5" cy="200" r="4"/>
<circle cx="147.9" cy="199.1" r="4"/>
<circle cx="152.1" cy="199.4" r="4"/>
<circle cx="153.5" cy="199.8" r="4"/>
<circle cx="154.3" cy="199.9" r="4"/>
<circle cx="155.7" cy="199.4" r="4"/>
<circle cx="158.7" cy="199.5" r="4"/>
<circle cx="158.5" cy="199.8" r="4"/>
<circle cx="161.9" cy="199.8" r="4"/>
<circle cx="166.1" cy="199.7" r="4"/>
<circle cx="167.6" cy="199.5" r="4"/>
<circle cx="167.4" cy="199.1" r="4"/>
<circle cx="167.7" cy="199.4" r="4"/>
<circle cx="173.8" cy="199.5" r="4"/>
<circle cx="173.4" cy="199.3" r="4"/>
<circle cx="173.6" cy="199.1" r="4"/>
<circle cx="174.5" cy="199.6" r="4"/>
<circle cx="176.9" cy="199.1" r="4"/>
<circle cx="178" cy="199.3" r="4"/>
<circle cx="178.2" cy="199.6" r="4"/>
<circle cx="178.7" cy="199.2" r="4"/>
<circle cx="178.2" cy="199.6" r="4"/>
<circle cx="180.7" cy="199.3" r="4"/>
<circle cx="181.8" cy="199.2" r="4"/>
<circle cx="181.8" cy="199.1" r="4"/>
<circle cx="197.9" cy="199.1" r="4"/>
<circle cx="150.2" cy="200.8" r="4"/>
<circle cx="155" cy="200.9" r="4"/>
<circle cx="156.6" cy="200.2" r="4"/>
<circle cx="157.1" cy="200.7" r="4"/>
<circle cx="158.4" cy="200.1" r="4"/>
<circle cx="165.7" cy="200.2" r="4"/>
<circle cx="167" cy="200.7" r="4"/>
<circle cx="168.8" cy="200.4" r="4"/>
<circle cx="173" cy="200.1" r="4"/>
<circle cx="176.1" cy="200.3" r="4"/>
<circle cx="180.6" cy="200" r="4"/>
<circle cx="180.3" cy="200.9" r="4"/>
<circle cx="188.5" cy="200.4" r="4"/>
<circle cx="188.5" cy="201" r="4"/>
<circle cx="190.2" cy="200.9" r="4"/>
<circle cx="192.8" cy="200.6" r="4"/>
<circle cx="197.3" cy="200.6" r="4"/>
<circle cx="199.9" cy="200.4" r="4"/>
<circle cx="145.6" cy="201.2" r="4"/>
<circle cx="147.4" cy="202" r="4"/>
<circle cx="150.1" cy="201.9" r="4"/>
<circle cx="151.1" cy="201.7" r="4"/>
<circle cx="152.4" cy="201.9" r="4"/>
<circle cx="155.9" cy="201.3" r="4"/>
<circle cx="158.4" cy="201.5" r="4"/>
<circle cx="159.5" cy="201.4" r="4"/>
<circle cx="160.3" cy="201.6" r="4"/>
<circle cx="161.9" cy="201.9" r="4"/>
<circle cx="164.1" cy="201.2" r="4"/>
<circle cx="165.2" cy="201.8" r="4"/>
<circle cx="166.1" cy="201.5" r="4"/>
<circle cx="168.6" cy="201" r="4"/>
<circle cx="168.9" cy="201.8" r="4"/>
<circle cx="170" cy="201.2" r="4"/>
<circle cx="172" cy="201.7" r="4"/>
<circle cx="174" cy="201.6" r="4"/>
<circle cx="181.5" cy="201.6" r="4"/>
<circle cx="182.6" cy="201.2" r="4"/>
<circle cx="184.2" cy="201.7" r="4"/>
<circle cx="185.5" cy="201.4" r="4"/>
<circle cx="185.4" cy="201.6" r="4"/>
<circle cx="187.1" cy="201.1" r="4"/>
<circle cx="192.8" cy="201.1" r="4"/>
<circle cx="193.6" cy="201.3" r="4"/>
<circle cx="195.9" cy="201.1" r="4"/>
<circle cx="197.8" cy="201" r="4"/>
<circle cx="197.1" cy="201.6" r="4"/>
<circle cx="206.9" cy="202" r="4"/>
<circle cx="211.9" cy="202" r="4"/>
<circle cx="142.4" cy="202.2" r="4"/>
<circle cx="143.7" cy="202.7" r="4"/>
<circle cx="143.6" cy="202.9" r="4"/>
<circle cx="144.4" cy="202.4" r="4"/>
<circle cx="145.7" cy="202.2" r="4"/>
<circle cx="148.7" cy="202.4" r="4"/>
<circle cx="148.9" cy="202.1" r="4"/>
<circle cx="148.4" cy="202.3" r="4"/>
<circle cx="150.5" cy="202.4" r="4"/>
<circle cx="153.9" cy="202.9" r="4"/>
<circle cx="154.8" cy="202.6" r="4"/>
<circle cx="154.1" cy="202.9" r="4"/>
<circle cx="155.7" cy="202" r="4"/>
<circle cx="157.5" cy="202.1" r="4"/>
<circle cx="157.2" cy="202.9" r="4"/>
<circle cx="160" cy="202.8" r="4"/>
<circle cx="161" cy="202.2" r="4"/>
<circle cx="162.4" cy="202.1" r="4"/>
<circle cx="164.2" cy="202.4" r="4"/>
<circle cx="168.3" cy="202.7" r="4"/>
<circle cx="169.4" cy="202.7" r="4"/>
<circle cx="170.6" cy="202.4" r="4"/>
<circle cx="171.2" cy="202.5" r="4"/>
<circle cx="173.7" cy="202.2" r="4"/>
<circle cx="174.6" cy="202.4" r="4"/>
<circle cx="175.4" cy="202.8" r="4"/>
<circle cx="179.7" cy="202.5" r="4"/>
<circle cx="182.7" cy="202.5" r="4"/>
<circle cx="183.3" cy="202.4" r="4"/>
<circle cx="187.2" cy="202.3" r="4"/>
<circle cx="188" cy="202.2" r="4"/>
<circle cx="189.2" cy="202.6" r="4"/>
<circle cx="190.5" cy="202.4" r="4"/>
<circle cx="195" cy="202.4" r="4"/>
<circle cx="195.2" cy="202.9" r="4"/>
<circle cx="196.4" cy="202.8" r="4"/>
<circle cx="201.6" cy="202.7" r="4"/>
<circle cx="203" cy="202.7" r="4"/>
<circle cx="144.5" cy="203.7" r="4"/>
<circle cx="144.7" cy="203.4" r="4"/>
<circle cx="144.2" cy="203.9" r="4"/>
<circle cx="148.1" cy="203.8" r="4"/>
<circle cx="157.1" cy="203.1" r="4"/>
<circle cx="159.9" cy="203.9" r="4"/>
<circle cx="159.6" cy="203.6" r="4"/>
<circle cx="161" cy="203.9" r="4"/>
<circle cx="162.8" cy="203.2" r="4"/>
<circle cx="168.8" cy="203.5" r="4"/>
<circle cx="169.4" cy="203.8" r="4"/>
<circle cx="169.1" cy="203.4" r="4"/>
<circle cx="169" cy="203.5" r="4"/>
<circle cx="169" cy="203.2" r="4"/>
<circle cx="171.2" cy="203.9" r="4"/>
<circle cx="172.9" cy="203.5" r="4"/>
<circle cx="184.5" cy="203.3" r="4"/>
<circle cx="184.4" cy="203.1" r="4"/>
<circle cx="186.3" cy="203.2" r="4"/>
<circle cx="191.8" cy="203.9" r="4"/>
<circle cx="191.9" cy="203.4" r="4"/>
<circle cx="194.1" cy="203.3" r="4"/>
<circle cx="196.4" cy="203.4" r="4"/>
<circle cx="196.5" cy="203.5" r="4"/>
<circle cx="199.1" cy="203.8" r="4"/>
<circle cx="200.7" cy="203.5" r="4"/>
<circle cx="202.6" cy="203.1" r="4"/>
<circle cx="203.3" cy="203.9" r="4"/>
<circle cx="148" cy="204.8" r="4"/>
<circle cx="148" cy="204.5" r="4"/>
<circle cx="150.1" cy="204.2" r="4"/>
<circle cx="153.7" cy="204.5" r="4"/>
<circle cx="155.5" cy="204.5" r="4"/>
<circle cx="158.7" cy="204.2" r="4"/>
<circle cx="161.1" cy="204.7" r="4"/>
<circle cx="161.8" cy="204.6" r="4"/>
<circle cx="163.1" cy="204.3" r="4"/>
<circle cx="168.1" cy="204.2" r="4"/>
<circle cx="169.7" cy="204.5" r="4"/>
<circle cx="169.3" cy="204.7" r="4"/>
<circle cx="171.3" cy="204.6" r="4"/>
<circle cx="174.6" cy="204.3" r="4"/>
<circle cx="174.3" cy="204.8" r="4"/>
<circle cx="178.8" cy="204.6" r="4"/>
<circle cx="179.1" cy="204.5" r="4"/>
<circle cx="179.4" cy="204.9" r="4"/>
<circle cx="182.3" cy="204.2" r="4"/>
<circle cx="183.3" cy="204.1" r="4"/>
<circle cx="184.4" cy="204.3" r="4"/>
<circle cx="185.6" cy="204.9" r="4"/>
<circle cx="185.2" cy="205" r="4"/>
<circle cx="186.6" cy="205" r="4"/>
<circle cx="190.2" cy="204.2" r="4"/>
<circle cx="192" cy="204.9" r="4"/>
<circle cx="192.4" cy="204.1" r="4"/>
<circle cx="193.1" cy="204.3" r="4"/>
<circle cx="195.6" cy="204.5" r="4"/>
<circle cx="195.4" cy="204.9" r="4"/>
<circle cx="197" cy="204.7" r="4"/>
<circle cx="200.2" cy="204.5" r="4"/>
<circle cx="202.2" cy="204.7" r="4"/>
<circle cx="203.2" cy="204.4" r="4"/>
<circle cx="209.2" cy="205" r="4"/>
<circle cx="141.7" cy="205.1" r="4"/>
<circle cx="143.7" cy="205.3" r="4"/>
<circle cx="143.6" cy="205.1" r="4"/>
<circle cx="145.3" cy="205.7" r="4"/>
<circle cx="148.6" cy="205.3" r="4"/>
<circle cx="153.2" cy="205.1" r="4"/>
<circle cx="155.5" cy="205.8" r="4"/>
<circle cx="155.5" cy="205.5" r="4"/>
<circle cx="155.1" cy="205.5" r="4"/>
<circle cx="159.3" cy="205.6" r="4"/>
<circle cx="166.1" cy="205.9" r="4"/>
<circle cx="167" cy="205.3" r="4"/>
<circle cx="182.9" cy="205.3" r="4"/>
<circle cx="182.9" cy="205.9" r="4"/>
<circle cx="183.7" cy="205.1" r="4"/>
<circle cx="185.8" cy="205" r="4"/>
<circle cx="186.4" cy="205.1" r="4"/>
<circle cx="186.2" cy="205.1" r="4"/>
<circle cx="186.3" cy="205.9" r="4"/>
<circle cx="187.3" cy="205.8" r="4"/>
<circle cx="189.1" cy="205.3" r="4"/>
<circle cx="191.9" cy="205.9" r="4"/>
<circle cx="192.6" cy="205.6" r="4"/>
<circle cx="196.5" cy="205.6" r="4"/>
<circle cx="197.4" cy="205.4" r="4"/>
<circle cx="198.7" cy="205.5" r="4"/>
<circle cx="198.9" cy="205.4" r="4"/>
<circle cx="200.1" cy="205.9" r="4"/>
<circle cx="200" cy="205.3" r="4"/>
<circle cx="201.4" cy="205.9" r="4"/>
<circle cx="202.6" cy="205.7" r="4"/>
<circle cx="204.7" cy="205.6" r="4"/>
<circle cx="205" cy="205" r="4"/>
<circle cx="211.3" cy="205.3" r="4"/>
<circle cx="141.4" cy="206.8" r="4"/>
<circle cx="143.9" cy="206.5" r="4"/>
<circle cx="146.4" cy="206.2" r="4"/>
<circle cx="156.3" cy="206.3" r="4"/>
<circle cx="158.6" cy="206.4" r="4"/>
<circle cx="162" cy="206.2" r="4"/>
<circle cx="161.1" cy="207" r="4"/>
<circle cx="172.1" cy="206.3" r="4"/>
<circle cx="176.7" cy="206" r="4"/>
<circle cx="176.2" cy="206.8" r="4"/>
<circle cx="178.5" cy="206.6" r="4"/>
<circle cx="187.6" cy="206.8" r="4"/>
<circle cx="187.9" cy="206.6" r="4"/>
<circle cx="190.9" cy="206.5" r="4"/>
<circle cx="192.8" cy="206.7" r="4"/>
<circle cx="193" cy="206.6" r="4"/>
<circle cx="195.7" cy="206.4" r="4"/>
<circle cx="195.4" cy="206.3" r="4"/>
<circle cx="197" cy="206.3" r="4"/>
<circle cx="198.5" cy="206.9" r="4"/>
<circle cx="212.9" cy="206" r="4"/>
<circle cx="144.8" cy="207.7" r="4"/>
<circle cx="146.1" cy="207.5" r="4"/>
<circle cx="146.4" cy="207.9" r="4"/>
<circle cx="146.2" cy="208" r="4"/>
<circle cx="147.3" cy="208" r="4"/>
<circle cx="152.9" cy="208" r="4"/>
<circle cx="156.6" cy="207.1" r="4"/>
<circle cx="156.3" cy="207" r="4"/>
<circle cx="157.7" cy="207.6" r="4"/>
<circle cx="163.8" cy="207.4" r="4"/>
<circle cx="163.5" cy="207.3" r="4"/>
<circle cx="168.1" cy="207.5" r="4"/>
<circle cx="169.7" cy="207.2" r="4"/>
<circle cx="169.8" cy="207.4" r="4"/>
<circle cx="170.8" cy="207.4" r="4"/>
<circle cx="172.9" cy="207" r="4"/>
<circle cx="173.4" cy="207.3" r="4"/>
<circle cx="175.5" cy="207.5" r="4"/>
<circle cx="176" cy="207.8" r="4"/>
<circle cx="176.7" cy="207.7" r="4"/>
<circle cx="177.6" cy="207.9" r="4"/>
<circle cx="180.3" cy="207" r="4"/>
<circle cx="181.2" cy="207.6" r="4"/>
<circle cx="184.9" cy="208" r="4"/>
<circle cx="187.2" cy="207.8" r="4"/>
<circle cx="187.4" cy="207.4" r="4"/>
<circle cx="189.1" cy="207.2" r="4"/>
<circle cx="190.3" cy="207.5" r="4"/>
<circle cx="194.1" cy="207" r="4"/>
<circle cx="200.2" cy="207.5" r="4"/>
<circle cx="201.2" cy="207.4" r="4"/>
<circle cx="142.3" cy="208.8" r="4"/>
<circle cx="147.4" cy="208.6" r="4"/>
<circle cx="148.6" cy="208.9" r="4"/>
<circle cx="151.6" cy="208.4" r="4"/>
<circle cx="156.8" cy="208.8" r="4"/>
<circle cx="159.1" cy="208.1" r="4"/>
<circle cx="161.9" cy="208.6" r="4"/>
<circle cx="163.3" cy="208.3" r="4"/>
<circle cx="164.3" cy="208.9" r="4"/>
<circle cx="166.7" cy="208.3" r="4"/>
<circle cx="168.8" cy="208.5" r="4"/>
<circle cx="170.5" cy="208.4" r="4"/>
<circle cx="173" cy="208.5" r="4"/>
<circle cx="174.6" cy="208.7" r="4"/>
<circle cx="175.1" cy="208.1" r="4"/>
<circle cx="175.3" cy="208.7" r="4"/>
<circle cx="176.8" cy="208.3" r="4"/>
<circle cx="177" cy="208.6" r="4"/>
<circle cx="176.8" cy="208.6" r="4"/>
<circle cx="182.4" cy="208.6" r="4"/>
<circle cx="182.4" cy="208.5" r="4"/>
<circle cx="185.7" cy="208.3" r="4"/>
<circle cx="187" cy="208.1" r="4"/>
<circle cx="190" cy="208.4" r="4"/>
<circle cx="190.4" cy="208.1" r="4"/>
<circle cx="192.9" cy="208.7" r="4"/>
<circle cx="192.5" cy="208.7" r="4"/>
<circle cx="194.3" cy="208.4" r="4"/>
<circle cx="197.3" cy="208.4" r="4"/>
<circle cx="201.8" cy="208.8" r="4"/>
<circle cx="203.6" cy="208.9" r="4"/>
<circle cx="145.2" cy="209.2" r="4"/>
<circle cx="147.4" cy="209.4" r="4"/>
<circle cx="147.2" cy="210" r="4"/>
<circle cx="147.1" cy="209.5" r="4"/>
<circle cx="179.6" cy="209.9" r="4"/>
<circle cx="181.8" cy="209.5" r="4"/>
<circle cx="182.2" cy="209.6" r="4"/>
<circle cx="187.7" cy="209" r="4"/>
<circle cx="189.4" cy="209.4" r="4"/>
<circle cx="190.8" cy="209.9" r="4"/>
<circle cx="191.2" cy="209.5" r="4"/>
<circle cx="192.9" cy="210" r="4"/>
<circle cx="193.5" cy="209.7" r="4"/>
<circle cx="194.4" cy="209.3" r="4"/>
<circle cx="196.2" cy="209.7" r="4"/>
<circle cx="196.7" cy="209.1" r="4"/>
<circle cx="200.7" cy="209.6" r="4"/>
<circle cx="201.7" cy="209.4" r="4"/>
<circle cx="206.1" cy="209.1" r="4"/>
<circle cx="211" cy="209.8" r="4"/>
<circle cx="145.2" cy="210.3" r="4"/>
<circle cx="148" cy="210.6" r="4"/>
<circle cx="176.4" cy="210.6" r="4"/>
<circle cx="176.4" cy="210.3" r="4"/>
<circle cx="177.7" cy="210.1" r="4"/>
<circle cx="179.2" cy="210.3" r="4"/>
<circle cx="180.7" cy="210.9" r="4"/>
<circle cx="184" cy="210.9" r="4"/>
<circle cx="186.4" cy="210.2" r="4"/>
<circle cx="189.7" cy="210.1" r="4"/>
<circle cx="190.6" cy="211" r="4"/>
<circle cx="194.8" cy="210.4" r="4"/>
<circle cx="200.9" cy="210.8" r="4"/>
<circle cx="200.2" cy="210.9" r="4"/>
<circle cx="203.4" cy="210.5" r="4"/>
<circle cx="142.3" cy="211.8" r="4"/>
<circle cx="143.2" cy="211.4" r="4"/>
<circle cx="144" cy="211.1" r="4"/>
<circle cx="145.9" cy="211" r="4"/>
<circle cx="195.5" cy="211.7" r="4"/>
<circle cx="200.3" cy="211.3" r="4"/>
<circle cx="201.2" cy="211.5" r="4"/>
<circle cx="201.3" cy="211" r="4"/>
<circle cx="205.6" cy="211.6" r="4"/>
<circle cx="206.2" cy="211.9" r="4"/>
<circle cx="210.7" cy="211.9" r="4"/>
<circle cx="143.6" cy="212.7" r="4"/>
<circle cx="145.1" cy="212.3" r="4"/>
<circle cx="146.5" cy="212.3" r="4"/>
<circle cx="148.7" cy="212.3" r="4"/>
<circle cx="198.4" cy="213" r="4"/>
<circle cx="198.6" cy="212" r="4"/>
<circle cx="200.3" cy="212.3" r="4"/>
<circle cx="200.2" cy="212.7" r="4"/>
<circle cx="142.8" cy="213.8" r="4"/>
<circle cx="142.1" cy="213.3" r="4"/>
<circle cx="148.7" cy="213.4" r="4"/>
<circle cx="148.2" cy="213.8" r="4"/>
<circle cx="148.9" cy="213.7" r="4"/>
<circle cx="199.5" cy="213.7" r="4"/>
<circle cx="202.5" cy="213.6" r="4"/>
<circle cx="207.8" cy="213.5" r="4"/>
<circle cx="143.3" cy="214.4" r="4"/>
<circle cx="197" cy="214.4" r="4"/>
<circle cx="196.3" cy="214.8" r="4"/>
<circle cx="197.8" cy="214.5" r="4"/>
<circle cx="145.5" cy="215.7" r="4"/>
<circle cx="147.4" cy="215.8" r="4"/>
<circle cx="196.4" cy="215.7" r="4"/>
<circle cx="201.8" cy="215.4" r="4"/>
<circle cx="145.5" cy="216.7" r="4"/>
<circle cx="145.4" cy="216.5" r="4"/>
<circle cx="198.6" cy="216.6" r="4"/>
<circle cx="198.5" cy="216.6" r="4"/>
<circle cx="200.6" cy="216.3" r="4"/>
<circle cx="203.1" cy="216" r="4"/>
<circle cx="143.3" cy="217" r="4"/>
<circle cx="200.7" cy="217.6" r="4"/>
<circle cx="200.6" cy="217.4" r="4"/>
<circle cx="201.2" cy="217.2" r="4"/>
<circle cx="204.4" cy="217.5" r="4"/>
<circle cx="211" cy="217.8" r="4"/>
<circle cx="211.3" cy="217.8" r="4"/>
<circle cx="144.5" cy="218.7" r="4"/>
<circle cx="146.8" cy="218.1" r="4"/>
<circle cx="195.8" cy="218.8" r="4"/>
<circle cx="196.4" cy="218.8" r="4"/>
<circle cx="196.4" cy="218.6" r="4"/>
<circle cx="200.1" cy="218.3" r="4"/>
<circle cx="200.2" cy="219" r="4"/>
<circle cx="202.4" cy="218.8" r="4"/>
<circle cx="207.6" cy="218.8" r="4"/>
<circle cx="144.7" cy="219.5" r="4"/>
<circle cx="146" cy="219.2" r="4"/>
<circle cx="196.3" cy="219.5" r="4"/>
<circle cx="200.1" cy="219.5" r="4"/>
<circle cx="208.7" cy="219.2" r="4"/>
<circle cx="146.5" cy="220.1" r="4"/>
<circle cx="147.3" cy="220.3" r="4"/>
<circle cx="148.8" cy="220" r="4"/>
<circle cx="197.7" cy="220.3" r="4"/>
<circle cx="209.1" cy="220.7" r="4"/>
<circle cx="209.7" cy="220" r="4"/>
<circle cx="143.8" cy="221.1" r="4"/>
<circle cx="144.7" cy="221.4" r="4"/>
<circle cx="148.2" cy="221.9" r="4"/>
<circle cx="196.3" cy="221.4" r="4"/>
<circle cx="197.4" cy="221.4" r="4"/>
<circle cx="198.8" cy="221.9" r="4"/>
<circle cx="198.3" cy="221.9" r="4"/>
<circle cx="200.2" cy="221.5" r="4"/>
<circle cx="203.1" cy="221.2" r="4"/>
<circle cx="206" cy="221.5" r="4"/>
<circle cx="208.5" cy="222" r="4"/>
<circle cx="143.9" cy="222.2" r="4"/>
<circle cx="144" cy="222.3" r="4"/>
<circle cx="145.1" cy="222.2" r="4"/>
<circle cx="145.4" cy="222" r="4"/>
<circle cx="145.3" cy="222.9" r="4"/>
<circle cx="146.4" cy="223" r="4"/>
<circle cx="146.8" cy="222.6" r="4"/>
<circle cx="195.4" cy="222.6" r="4"/>
<circle cx="195.9" cy="222.5" r="4"/>
<circle cx="201.1" cy="222.1" r="4"/>
<circle cx="203.2" cy="222" r="4"/>
<circle cx="144.7" cy="223.1" r="4"/>
<circle cx="148.3" cy="223" r="4"/>
<circle cx="194.4" cy="223.5" r="4"/>
<circle cx="197.5" cy="223.8" r="4"/>
<circle cx="199.5" cy="223.5" r="4"/>
<circle cx="201.9" cy="223.3" r="4"/>
<circle cx="141.4" cy="224.3" r="4"/>
<circle cx="142.8" cy="224.3" r="4"/>
<circle cx="144.2" cy="224.4" r="4"/>
<circle cx="144.6" cy="225" r="4"/>
<circle cx="145.7" cy="224.8" r="4"/>
<circle cx="145.1" cy="224.1" r="4"/>
<circle cx="146.7" cy="224.6" r="4"/>
<circle cx="146.8" cy="224.5" r="4"/>
<circle cx="200.3" cy="224" r="4"/>
<circle cx="207.1" cy="224.1" r="4"/>
<circle cx="144.6" cy="225.4" r="4"/>
<circle cx="146.5" cy="225.4" r="4"/>
<circle cx="146.7" cy="225.2" r="4"/>
<circle cx="204.7" cy="225.6" r="4"/>
<circle cx="144" cy="226.6" r="4"/>
<circle cx="145.7" cy="226.2" r="4"/>
<circle cx="147.9" cy="226.2" r="4"/>
<circle cx="148.3" cy="226.1" r="4"/>
<circle cx="148.6" cy="226.9" r="4"/>
<circle cx="200.1" cy="226.9" r="4"/>
<circle cx="209.2" cy="226.7" r="4"/>
<circle cx="145.6" cy="227.7" r="4"/>
<circle cx="146.1" cy="227.9" r="4"/>
<circle cx="195.4" cy="227.1" r="4"/>
<circle cx="196.5" cy="227.9" r="4"/>
<circle cx="196.1" cy="227.3" r="4"/>
<circle cx="196.7" cy="227.6" r="4"/>
<circle cx="197.4" cy="227.6" r="4"/>
<circle cx="201.1" cy="227.4" r="4"/>
<circle cx="203" cy="227.7" r="4"/>
<circle cx="205.5" cy="227.1" r="4"/>
<circle cx="213.6" cy="228" r="4"/>
<circle cx="144.9" cy="228.4" r="4"/>
<circle cx="195.3" cy="228.6" r="4"/>
<circle cx="196.4" cy="228.8" r="4"/>
<circle cx="199.6" cy="228.4" r="4"/>
<circle cx="204.1" cy="228.3" r="4"/>
<circle cx="147.7" cy="229.1" r="4"/>
<circle cx="194.5" cy="229.7" r="4"/>
<circle cx="195.3" cy="229" r="4"/>
<circle cx="195.9" cy="229.4" r="4"/>
<circle cx="197.9" cy="229.8" r="4"/>
<circle cx="198.9" cy="229.5" r="4"/>
<circle cx="201.4" cy="229.4" r="4"/>
<circle cx="202.6" cy="229.1" r="4"/>
<circle cx="203.9" cy="229.1" r="4"/>
<circle cx="146.8" cy="230.5" r="4"/>
<circle cx="148.3" cy="230.5" r="4"/>
<circle cx="193.7" cy="230.1" r="4"/>
<circle cx="194.6" cy="230.4" r="4"/>
<circle cx="196.8" cy="230.6" r="4"/>
<circle cx="198.4" cy="230.3" r="4"/>
<circle cx="203.8" cy="230.1" r="4"/>
<circle cx="212.2" cy="230.4" r="4"/>
<circle cx="142.2" cy="231.5" r="4"/>
<circle cx="143.5" cy="231.2" r="4"/>
<circle cx="143.9" cy="231.3" r="4"/>
<circle cx="143.3" cy="231" r="4"/>
<circle cx="144.8" cy="231.2" r="4"/>
<circle cx="146.3" cy="231.5" r="4"/>
<circle cx="147.6" cy="231.1" r="4"/>
<circle cx="195.2" cy="231.9" r="4"/>
<circle cx="198.7" cy="231.7" r="4"/>
<circle cx="199.5" cy="231.1" r="4"/>
<circle cx="199.9" cy="231" r="4"/>
<circle cx="200.1" cy="231.8" r="4"/>
<circle cx="210.7" cy="231.1" r="4"/>
<circle cx="145.4" cy="233" r="4"/>
<circle cx="145.3" cy="232.7" r="4"/>
<circle cx="145.6" cy="232.2" r="4"/>
<circle cx="147.9" cy="232.1" r="4"/>
<circle cx="194.1" cy="232.3" r="4"/>
<circle cx="196.3" cy="232.5" r="4"/>
<circle cx="198.7" cy="232.6" r="4"/>
<circle cx="199" cy="233" r="4"/>
<circle cx="198.7" cy="232.2" r="4"/>
<circle cx="199.1" cy="232" r="4"/>
<circle cx="201.1" cy="232.3" r="4"/>
<circle cx="202.6" cy="232.3" r="4"/>
<circle cx="206.6" cy="232.4" r="4"/>
<circle cx="214" cy="233" r="4"/>
<circle cx="143.1" cy="233.6" r="4"/>
<circle cx="145" cy="233.7" r="4"/>
<circle cx="146" cy="234" r="4"/>
<circle cx="149.8" cy="233.1" r="4"/>
<circle cx="195" cy="233.5" r="4"/>
<circle cx="197.7" cy="233.1" r="4"/>
<circle cx="198.9" cy="234" r="4"/>
<circle cx="200.1" cy="233.8" r="4"/>
<circle cx="205.7" cy="233.5" r="4"/>
<circle cx="206.8" cy="233.1" r="4"/>
<circle cx="143.8" cy="234.3" r="4"/>
<circle cx="143.4" cy="234.5" r="4"/>
<circle cx="146.6" cy="234.2" r="4"/>
<circle cx="146.8" cy="235" r="4"/>
<circle cx="147" cy="234.1" r="4"/>
<circle cx="146.4" cy="234.2" r="4"/>
<circle cx="146.1" cy="234.7" r="4"/>
<circle cx="149.2" cy="234.5" r="4"/>
<circle cx="149.9" cy="234.8" r="4"/>
<circle cx="193.2" cy="234.9" r="4"/>
<circle cx="193.1" cy="234.2" r="4"/>
<circle cx="193.3" cy="234.4" r="4"/>
<circle cx="195" cy="234.1" r="4"/>
<circle cx="194.3" cy="234.3" r="4"/>
<circle cx="198.2" cy="234.7" r="4"/>
<circle cx="200.9" cy="234.5" r="4"/>
<circle cx="202.9" cy="234.9" r="4"/>
<circle cx="143.2" cy="235.4" r="4"/>
<circle cx="146.7" cy="235.8" r="4"/>
<circle cx="147.3" cy="235" r="4"/>
<circle cx="147.4" cy="235.7" r="4"/>
<circle cx="149.9" cy="235.7" r="4"/>
<circle cx="197.5" cy="235.4" r="4"/>
<circle cx="199.5" cy="235.7" r="4"/>
<circle cx="200.9" cy="235.3" r="4"/>
<circle cx="202.9" cy="235.9" r="4"/>
<circle cx="142.3" cy="236.4" r="4"/>
<circle cx="145.5" cy="236.2" r="4"/>
<circle cx="145.6" cy="236.2" r="4"/>
<circle cx="147" cy="236.8" r="4"/>
<circle cx="146.4" cy="236" r="4"/>
<circle cx="146.8" cy="236.5" r="4"/>
<circle cx="147.3" cy="236.2" r="4"/>
<circle cx="197.1" cy="236" r="4"/>
<circle cx="199.5" cy="236.4" r="4"/>
<circle cx="200.3" cy="236" r="4"/>
<circle cx="200.6" cy="236.6" r="4"/>
<circle cx="209.2" cy="236.5" r="4"/>
<circle cx="213" cy="236.3" r="4"/>
<circle cx="145.3" cy="237.3" r="4"/>
<circle cx="147.4" cy="237.3" r="4"/>
<circle cx="194.4" cy="237.2" r="4"/>
<circle cx="194.4" cy="237.3" r="4"/>
<circle cx="196.5" cy="237.6" r="4"/>
<circle cx="201.6" cy="237.9" r="4"/>
<circle cx="209.7" cy="237.1" r="4"/>
<circle cx="145.1" cy="238.5" r="4"/>
<circle cx="147.9" cy="239.4" r="4"/>
<circle cx="193.5" cy="239.9" r="4"/>
<circle cx="193.6" cy="239.5" r="4"/>
<circle cx="195" cy="239.2" r="4"/>
<circle cx="196.6" cy="239.5" r="4"/>
<circle cx="198.9" cy="239.5" r="4"/>
<circle cx="199.5" cy="239.5" r="4"/>
<circle cx="146.7" cy="240.8" r="4"/>
<circle cx="195.4" cy="240.6" r="4"/>
<circle cx="207.6" cy="240.9" r="4"/>
<circle cx="143.6" cy="241.9" r="4"/>
<circle cx="144.9" cy="241.1" r="4"/>
<circle cx="144.4" cy="241.4" r="4"/>
<circle cx="144.9" cy="241.8" r="4"/>
<circle cx="146.2" cy="241.6" r="4"/>
<circle cx="147.4" cy="241.3" r="4"/>
<circle cx="195.9" cy="241.8" r="4"/>
<circle cx="197.7" cy="241.9" r="4"/>
<circle cx="198.8" cy="241.7" r="4"/>
<circle cx="198.9" cy="241.1" r="4"/>
<circle cx="217.3" cy="241.9" r="4"/>
<circle cx="145.6" cy="242.2" r="4"/>
<circle cx="145.4" cy="242.6" r="4"/>
<circle cx="195.6" cy="242.9" r="4"/>
<circle cx="195.2" cy="242.7" r="4"/>
<circle cx="195.8" cy="242.8" r="4"/>
<circle cx="196.2" cy="242.6" r="4"/>
<circle cx="143.5" cy="243.6" r="4"/>
<circle cx="144.2" cy="243.4" r="4"/>
<circle cx="144.7" cy="243.1" r="4"/>
<circle cx="146.3" cy="243.5" r="4"/>
<circle cx="147.3" cy="243.2" r="4"/>
<circle cx="149.3" cy="243.7" r="4"/>
<circle cx="195" cy="243.6" r="4"/>
<circle cx="195" cy="243.4" r="4"/>
<circle cx="194.4" cy="243.3" r="4"/>
<circle cx="203.8" cy="243.5" r="4"/>
<circle cx="207.3" cy="243.7" r="4"/>
<circle cx="216.2" cy="243.3" r="4"/>
<circle cx="143.8" cy="244.9" r="4"/>
<circle cx="147.6" cy="244.4" r="4"/>
<circle cx="149.6" cy="244.5" r="4"/>
<circle cx="193.5" cy="244.8" r="4"/>
<circle cx="194.1" cy="244.9" r="4"/>
<circle cx="195.6" cy="244.8" r="4"/>
<circle cx="196.9" cy="244" r="4"/>
<circle cx="197" cy="244.4" r="4"/>
<circle cx="197.9" cy="244.7" r="4"/>
<circle cx="201.9" cy="244" r="4"/>
<circle cx="202.6" cy="244.3" r="4"/>
<circle cx="203.4" cy="244.7" r="4"/>
<circle cx="205.7" cy="244.8" r="4"/>
<circle cx="205.2" cy="244.2" r="4"/>
<circle cx="147.4" cy="245.2" r="4"/>
<circle cx="148.7" cy="245.3" r="4"/>
<circle cx="193.9" cy="245.9" r="4"/>
<circle cx="194.6" cy="245.8" r="4"/>
<circle cx="199.8" cy="245.2" r="4"/>
<circle cx="201" cy="245.4" r="4"/>
<circle cx="203.9" cy="245.2" r="4"/>
<circle cx="205.4" cy="245.4" r="4"/>
<circle cx="207.1" cy="245.2" r="4"/>
<circle cx="211.6" cy="245.1" r="4"/>
<circle cx="145.2" cy="246.6" r="4"/>
<circle cx="145.6" cy="246" r="4"/>
<circle cx="146.9" cy="246.7" r="4"/>
<circle cx="148.3" cy="246.3" r="4"/>
<circle cx="148.3" cy="246.2" r="4"/>
<circle cx="149" cy="246.4" r="4"/>
<circle cx="192.8" cy="246.8" r="4"/>
<circle cx="193.3" cy="246.8" r="4"/>
<circle cx="194" cy="246.1" r="4"/>
<circle cx="193.5" cy="246.9" r="4"/>
<circle cx="195.8" cy="246.6" r="4"/>
<circle cx="195.1" cy="246.6" r="4"/>
<circle cx="201.3" cy="246.8" r="4"/>
<circle cx="201.4" cy="246.4" r="4"/>
<circle cx="209.8" cy="246.8" r="4"/>
<circle cx="145.2" cy="247.2" r="4"/>
<circle cx="147" cy="247.1" r="4"/>
<circle cx="146.3" cy="247.2" r="4"/>
<circle cx="148.7" cy="247.6" r="4"/>
<circle cx="148.9" cy="247.1" r="4"/>
<circle cx="193.9" cy="247.8" r="4"/>
<circle cx="197" cy="247.4" r="4"/>
<circle cx="197" cy="247.7" r="4"/>
<circle cx="199.5" cy="247.8" r="4"/>
<circle cx="199.6" cy="247.8" r="4"/>
<circle cx="209.2" cy="247.1" r="4"/>
<circle cx="146.1" cy="248.9" r="4"/>
<circle cx="147.8" cy="249" r="4"/>
<circle cx="147.1" cy="248.9" r="4"/>
<circle cx="147.6" cy="248.9" r="4"/>
<circle cx="193.5" cy="248.9" r="4"/>
<circle cx="196.2" cy="248.1" r="4"/>
<circle cx="198.7" cy="248.9" r="4"/>
<circle cx="142" cy="249.5" r="4"/>
<circle cx="144.6" cy="249.9" r="4"/>
<circle cx="144.8" cy="249.2" r="4"/>
<circle cx="145.7" cy="249.3" r="4"/>
<circle cx="147.9" cy="249" r="4"/>
<circle cx="148.9" cy="249.6" r="4"/>
<circle cx="149.7" cy="249.3" r="4"/>
<circle cx="193.2" cy="249.2" r="4"/>
<circle cx="196.7" cy="249.4" r="4"/>
<circle cx="211.8" cy="249.7" r="4"/>
<circle cx="195.9" cy="250.8" r="4"/>
<circle cx="196.7" cy="250.9" r="4"/>
<circle cx="198" cy="250.3" r="4"/>
<circle cx="197.5" cy="250.1" r="4"/>
<circle cx="210.4" cy="250.5" r="4"/>
<circle cx="145.5" cy="251.5" r="4"/>
<circle cx="145.3" cy="251.7" r="4"/>
<circle cx="146" cy="251.8" r="4"/>
<circle cx="148" cy="252" r="4"/>
<circle cx="149" cy="251.7" r="4"/>
<circle cx="148.9" cy="251.4" r="4"/>
<circle cx="149.5" cy="251.2" r="4"/>
<circle cx="197" cy="251.3" r="4"/>
<circle cx="205.7" cy="251.4" r="4"/>
<circle cx="197" cy="252.1" r="4"/>
<circle cx="197.3" cy="252.8" r="4"/>
<circle cx="197.2" cy="252.6" r="4"/>
<circle cx="209.9" cy="252.7" r="4"/>
<circle cx="145.9" cy="253.4" r="4"/>
<circle cx="147.2" cy="253.4" r="4"/>
<circle cx="199" cy="253.2" r="4"/>
<circle cx="199.1" cy="253.7" r="4"/>
<circle cx="203.2" cy="253.8" r="4"/>
<circle cx="206.8" cy="253.4" r="4"/>
<circle cx="207.6" cy="253.3" r="4"/>
<circle cx="143.4" cy="254.1" r="4"/>
<circle cx="144" cy="254.3" r="4"/>
<circle cx="145" cy="254.7" r="4"/>
<circle cx="146.9" cy="254.1" r="4"/>
<circle cx="149.5" cy="254.1" r="4"/>
<circle cx="194.4" cy="254.2" r="4"/>
<circle cx="198.5" cy="254.3" r="4"/>
<circle cx="199.6" cy="255" r="4"/>
<circle cx="200.7" cy="254.8" r="4"/>
<circle cx="143.9" cy="255.5" r="4"/>
<circle cx="144.4" cy="255.9" r="4"/>
<circle cx="144.7" cy="255.9" r="4"/>
<circle cx="192.9" cy="255.7" r="4"/>
<circle cx="196.1" cy="255.6" r="4"/>
<circle cx="144.2" cy="256.4" r="4"/>
<circle cx="144.4" cy="256.2" r="4"/>
<circle cx="147.1" cy="256.6" r="4"/>
<circle cx="193.7" cy="256.1" r="4"/>
<circle cx="208.3" cy="256.5" r="4"/>
<circle cx="149.4" cy="258" r="4"/>
<circle cx="192.4" cy="257.8" r="4"/>
<circle cx="192" cy="257.6" r="4"/>
<circle cx="193.1" cy="258" r="4"/>
<circle cx="195.1" cy="257.6" r="4"/>
<circle cx="197.6" cy="257.9" r="4"/>
<circle cx="205.1" cy="257.8" r="4"/>
<circle cx="208.6" cy="257.4" r="4"/>
<circle cx="144" cy="258.7" r="4"/>
<circle cx="146.5" cy="258.1" r="4"/>
<circle cx="150.2" cy="258.2" r="4"/>
<circle cx="192.1" cy="258.5" r="4"/>
<circle cx="195.5" cy="258.6" r="4"/>
<circle cx="195.2" cy="258.5" r="4"/>
<circle cx="197.8" cy="258.8" r="4"/>
<circle cx="198.1" cy="258.4" r="4"/>
<circle cx="201.8" cy="258.4" r="4"/>
<circle cx="203.3" cy="258.5" r="4"/>
<circle cx="205.2" cy="258.4" r="4"/>
<circle cx="212.3" cy="258.1" r="4"/>
<circle cx="146" cy="259.6" r="4"/>
<circle cx="148.9" cy="259.3" r="4"/>
<circle cx="149.6" cy="259.1" r="4"/>
<circle cx="193.5" cy="259.7" r="4"/>
<circle cx="198.1" cy="259.1" r="4"/>
<circle cx="200.3" cy="259.4" r="4"/>
<circle cx="200.4" cy="259.5" r="4"/>
<circle cx="143" cy="260.5" r="4"/>
<circle cx="148.5" cy="261" r="4"/>
<circle cx="192.5" cy="260.8" r="4"/>
<circle cx="195.7" cy="260.2" r="4"/>
<circle cx="195.5" cy="260.6" r="4"/>
<circle cx="197.7" cy="260.4" r="4"/>
<circle cx="199.4" cy="261" r="4"/>
<circle cx="208.7" cy="260.8" r="4"/>
<circle cx="214.4" cy="260.3" r="4"/>
<circle cx="219.9" cy="260.4" r="4"/>
<circle cx="220" cy="260.1" r="4"/>
<circle cx="145.2" cy="261" r="4"/>
<circle cx="145.8" cy="261.6" r="4"/>
<circle cx="147" cy="261.9" r="4"/>
<circle cx="147.5" cy="261.3" r="4"/>
<circle cx="149.5" cy="262" r="4"/>
<circle cx="194.2" cy="261.6" r="4"/>
<circle cx="195.7" cy="261.7" r="4"/>
<circle cx="195.1" cy="261.1" r="4"/>
<circle cx="199" cy="261.3" r="4"/>
<circle cx="203.6" cy="261.9" r="4"/>
<circle cx="146.6" cy="262.2" r="4"/>
<circle cx="148.8" cy="262.8" r="4"/>
<circle cx="200.6" cy="262.9" r="4"/>
<circle cx="200.9" cy="262.2" r="4"/>
<circle cx="146.3" cy="263.9" r="4"/>
<circle cx="194.8" cy="263.3" r="4"/>
<circle cx="195.4" cy="264" r="4"/>
<circle cx="196.7" cy="263.7" r="4"/>
<circle cx="198.9" cy="263.4" r="4"/>
<circle cx="198.6" cy="263.6" r="4"/>
<circle cx="204.9" cy="264" r="4"/>
<circle cx="220.2" cy="263.8" r="4"/>
<circle cx="222.7" cy="263.3" r="4"/>
<circle cx="145.3" cy="264.2" r="4"/>
<circle cx="146.7" cy="265" r="4"/>
<circle cx="147.1" cy="264.9" r="4"/>
<circle cx="147.7" cy="264.6" r="4"/>
<circle cx="194" cy="264.7" r="4"/>
<circle cx="195.8" cy="264.4" r="4"/>
<circle cx="195.3" cy="264.3" r="4"/>
<circle cx="195.1" cy="264.3" r="4"/>
<circle cx="197.8" cy="264" r="4"/>
<circle cx="197.9" cy="264.1" r="4"/>
<circle cx="198" cy="264.1" r="4"/>
<circle cx="205.8" cy="264.2" r="4"/>
<circle cx="149.8" cy="265" r="4"/>
<circle cx="150.3" cy="265.8" r="4"/>
<circle cx="192.5" cy="265.5" r="4"/>
<circle cx="194.7" cy="265.4" r="4"/>
<circle cx="202.9" cy="265" r="4"/>
<circle cx="218.1" cy="265.4" r="4"/>
<circle cx="145.7" cy="266.5" r="4"/>
<circle cx="147.9" cy="266.6" r="4"/>
<circle cx="196.4" cy="266.3" r="4"/>
<circle cx="197.9" cy="266.4" r="4"/>
<circle cx="198.5" cy="266.8" r="4"/>
<circle cx="199.4" cy="266.4" r="4"/>
<circle cx="202.7" cy="266.8" r="4"/>
<circle cx="207.3" cy="266.3" r="4"/>
<circle cx="209.8" cy="266.5" r="4"/>
<circle cx="145.9" cy="267.7" r="4"/>
<circle cx="146.6" cy="267.4" r="4"/>
<circle cx="148" cy="267.6" r="4"/>
<circle cx="148" cy="268" r="4"/>
<circle cx="150.8" cy="267.5" r="4"/>
<circle cx="191.1" cy="268" r="4"/>
<circle cx="196.3" cy="267.8" r="4"/>
<circle cx="144.6" cy="268.5" r="4"/>
<circle cx="146.2" cy="268.9" r="4"/>
<circle cx="148" cy="268.8" r="4"/>
<circle cx="149.8" cy="269" r="4"/>
<circle cx="192" cy="268.3" r="4"/>
<circle cx="194.6" cy="268.5" r="4"/>
<circle cx="196" cy="268.5" r="4"/>
<circle cx="205.8" cy="268.6" r="4"/>
<circle cx="205.1" cy="268.7" r="4"/>
<circle cx="145.6" cy="269.6" r="4"/>
<circle cx="145.1" cy="270" r="4"/>
<circle cx="192.3" cy="269.8" r="4"/>
<circle cx="196.2" cy="269.3" r="4"/>
<circle cx="200.7" cy="269.4" r="4"/>
<circle cx="214.8" cy="269.8" r="4"/>
<circle cx="148.9" cy="270.8" r="4"/>
<circle cx="150.4" cy="270.7" r="4"/>
<circle cx="192.9" cy="270.2" r="4"/>
<circle cx="193.3" cy="270.1" r="4"/>
<circle cx="194.9" cy="270.9" r="4"/>
<circle cx="202" cy="270.3" r="4"/>
<circle cx="209.1" cy="270.8" r="4"/>
<circle cx="210.2" cy="270.1" r="4"/>
<circle cx="145" cy="271.2" r="4"/>
<circle cx="146" cy="271.7" r="4"/>
<circle cx="146.4" cy="271.9" r="4"/>
<circle cx="149.2" cy="271.9" r="4"/>
<circle cx="191.2" cy="271" r="4"/>
<circle cx="192.7" cy="271.6" r="4"/>
<circle cx="192.6" cy="271.1" r="4"/>
<circle cx="193.9" cy="271.1" r="4"/>
<circle cx="195.8" cy="271.7" r="4"/>
<circle cx="202.3" cy="271.5" r="4"/>
<circle cx="202.6" cy="271.8" r="4"/>
<circle cx="217.6" cy="271.3" r="4"/>
<circle cx="144" cy="272.4" r="4"/>
<circle cx="146" cy="272.2" r="4"/>
<circle cx="195.6" cy="272.7" r="4"/>
<circle cx="207.2" cy="272.1" r="4"/>
<circle cx="213.8" cy="272.4" r="4"/>
<circle cx="146.2" cy="273.6" r="4"/>
<circle cx="146.9" cy="273.7" r="4"/>
<circle cx="149.3" cy="273.2" r="4"/>
<circle cx="149.1" cy="273" r="4"/>
<circle cx="149.2" cy="273.6" r="4"/>
<circle cx="191.4" cy="273.6" r="4"/>
<circle cx="194.3" cy="273.7" r="4"/>
<circle cx="194.6" cy="273.5" r="4"/>
<circle cx="194" cy="273.5" r="4"/>
<circle cx="197.1" cy="274" r="4"/>
<circle cx="198.5" cy="273.2" r="4"/>
<circle cx="205.2" cy="273.7" r="4"/>
<circle cx="209.5" cy="273.7" r="4"/>
<circle cx="226.9" cy="273.9" r="4"/>
<circle cx="145" cy="274.9" r="4"/>
<circle cx="146.6" cy="274.6" r="4"/>
<circle cx="146.5" cy="274.4" r="4"/>
<circle cx="149.3" cy="274.5" r="4"/>
<circle cx="149.4" cy="274.5" r="4"/>
<circle cx="149.8" cy="274.5" r="4"/>
<circle cx="149.3" cy="274.9" r="4"/>
<circle cx="151.6" cy="274.8" r="4"/>
<circle cx="191.3" cy="274.9" r="4"/>
<circle cx="193.8" cy="274.4" r="4"/>
<circle cx="197" cy="274.5" r="4"/>
<circle cx="197.5" cy="274.3" r="4"/>
<circle cx="198.2" cy="274.4" r="4"/>
<circle cx="198.5" cy="274.5" r="4"/>
<circle cx="199.7" cy="274.3" r="4"/>
<circle cx="200.9" cy="274.6" r="4"/>
<circle cx="201.8" cy="274.4" r="4"/>
<circle cx="214.7" cy="274.2" r="4"/>
<circle cx="144.4" cy="275.6" r="4"/>
<circle cx="145.6" cy="275.5" r="4"/>
<circle cx="146.3" cy="276" r="4"/>
<circle cx="147.6" cy="275.4" r="4"/>
<circle cx="148.7" cy="275" r="4"/>
<circle cx="149.7" cy="275.4" r="4"/>
<circle cx="149.9" cy="275.6" r="4"/>
<circle cx="150.5" cy="275.6" r="4"/>
<circle cx="151.7" cy="275.9" r="4"/>
<circle cx="194.2" cy="275.6" r="4"/>
<circle cx="202.5" cy="275.6" r="4"/>
<circle cx="209.3" cy="275.3" r="4"/>
<circle cx="209.7" cy="275.1" r="4"/>
<circle cx="147.5" cy="276.5" r="4"/>
<circle cx="196.3" cy="276.3" r="4"/>
<circle cx="196.1" cy="276.1" r="4"/>
<circle cx="197.6" cy="276.6" r="4"/>
<circle cx="198.5" cy="276.4" r="4"/>
<circle cx="202" cy="276" r="4"/>
<circle cx="206.5" cy="276.4" r="4"/>
<circle cx="211.4" cy="276.1" r="4"/>
<circle cx="224.2" cy="276" r="4"/>
<circle cx="148.8" cy="277.8" r="4"/>
<circle cx="148.9" cy="277.3" r="4"/>
<circle cx="213.9" cy="277.8" r="4"/>
<circle cx="148.2" cy="278.3" r="4"/>
<circle cx="151.5" cy="278.9" r="4"/>
<circle cx="152" cy="278.2" r="4"/>
<circle cx="194.4" cy="278.8" r="4"/>
<circle cx="195.3" cy="278" r="4"/>
<circle cx="196.7" cy="278.2" r="4"/>
<circle cx="197.2" cy="278.4" r="4"/>
<circle cx="200.8" cy="278.1" r="4"/>
<circle cx="205.1" cy="278.5" r="4"/>
<circle cx="212.5" cy="279" r="4"/>
<circle cx="218.4" cy="278.4" r="4"/>
<circle cx="148.7" cy="279" r="4"/>
<circle cx="194.6" cy="279.2" r="4"/>
<circle cx="203.5" cy="279.9" r="4"/>
<circle cx="203.7" cy="279.5" r="4"/>
<circle cx="148.7" cy="280.6" r="4"/>
<circle cx="149.5" cy="280.6" r="4"/>
<circle cx="149.4" cy="280.8" r="4"/>
<circle cx="150.9" cy="280.8" r="4"/>
<circle cx="193.3" cy="280.5" r="4"/>
<circle cx="194.3" cy="280.4" r="4"/>
<circle cx="194.9" cy="281" r="4"/>
<circle cx="196" cy="280.5" r="4"/>
<circle cx="195.1" cy="280.6" r="4"/>
<circle cx="143.2" cy="281.2" r="4"/>
<circle cx="147.2" cy="281" r="4"/>
<circle cx="148.2" cy="281.9" r="4"/>
<circle cx="194.1" cy="281.6" r="4"/>
<circle cx="196.6" cy="281.6" r="4"/>
<circle cx="196.7" cy="282" r="4"/>
<circle cx="197.5" cy="281.8" r="4"/>
<circle cx="208.3" cy="281.9" r="4"/>
<circle cx="216.5" cy="281.2" r="4"/>
<circle cx="224.4" cy="281.9" r="4"/>
<circle cx="148.2" cy="282.5" r="4"/>
<circle cx="149.9" cy="282.6" r="4"/>
<circle cx="150" cy="282.1" r="4"/>
<circle cx="150.1" cy="283" r="4"/>
<circle cx="150.9" cy="282.3" r="4"/>
<circle cx="150.9" cy="282.2" r="4"/>
<circle cx="201.7" cy="282.6" r="4"/>
<circle cx="148.3" cy="283.2" r="4"/>
<circle cx="150.8" cy="283.8" r="4"/>
<circle cx="151.4" cy="283.3" r="4"/>
<circle cx="192.7" cy="283.8" r="4"/>
<circle cx="194.1" cy="283.5" r="4"/>
<circle cx="196.9" cy="283.8" r="4"/>
<circle cx="196.8" cy="283.6" r="4"/>
<circle cx="197.2" cy="283.8" r="4"/>
<circle cx="205.2" cy="283.7" r="4"/>
<circle cx="213" cy="283.4" r="4"/>
<circle cx="148.8" cy="284.7" r="4"/>
<circle cx="195.2" cy="285" r="4"/>
<circle cx="196.2" cy="284.6" r="4"/>
<circle cx="197.4" cy="284.1" r="4"/>
<circle cx="217.5" cy="284.4" r="4"/>
<circle cx="148.5" cy="285.6" r="4"/>
<circle cx="150.4" cy="285.4" r="4"/>
<circle cx="151.1" cy="285.9" r="4"/>
<circle cx="193.4" cy="285.2" r="4"/>
<circle cx="194.4" cy="285" r="4"/>
<circle cx="195.9" cy="285.5" r="4"/>
<circle cx="197" cy="285.2" r="4"/>
<circle cx="197.5" cy="285.1" r="4"/>
<circle cx="199.5" cy="285.5" r="4"/>
<circle cx="201.3" cy="285.1" r="4"/>
<circle cx="204" cy="285.9" r="4"/>
<circle cx="204.9" cy="285" r="4"/>
<circle cx="208.4" cy="285.6" r="4"/>
<circle cx="208.4" cy="285.6" r="4"/>
<circle cx="210.5" cy="285.7" r="4"/>
<circle cx="213.7" cy="285.1" r="4"/>
<circle cx="228.5" cy="285.8" r="4"/>
<circle cx="147.2" cy="286.6" r="4"/>
<circle cx="149" cy="286.8" r="4"/>
<circle cx="192.2" cy="286.7" r="4"/>
<circle cx="195.9" cy="286.5" r="4"/>
<circle cx="196.2" cy="286.5" r="4"/>
<circle cx="197.7" cy="286.4" r="4"/>
<circle cx="199.3" cy="286.7" r="4"/>
<circle cx="201.6" cy="286.3" r="4"/>
<circle cx="202.3" cy="286.4" r="4"/>
<circle cx="206.7" cy="286.8" r="4"/>
<circle cx="208.4" cy="286.9" r="4"/>
<circle cx="145.7" cy="288" r="4"/>
<circle cx="194.3" cy="287.8" r="4"/>
<circle cx="197.6" cy="287.6" r="4"/>
<circle cx="200.5" cy="287.9" r="4"/>
<circle cx="201.7" cy="287.1" r="4"/>
<circle cx="206.9" cy="287.7" r="4"/>
<circle cx="207.5" cy="287.3" r="4"/>
<circle cx="215.7" cy="287.3" r="4"/>
<circle cx="216.5" cy="287.2" r="4"/>
<circle cx="144.9" cy="288.9" r="4"/>
<circle cx="146.2" cy="288" r="4"/>
<circle cx="191.4" cy="288.8" r="4"/>
<circle cx="195.9" cy="288.9" r="4"/>
<circle cx="196.5" cy="288.9" r="4"/>
<circle cx="200.5" cy="288.6" r="4"/>
<circle cx="200.2" cy="288.3" r="4"/>
<circle cx="201.8" cy="288.3" r="4"/>
<circle cx="201.4" cy="288.2" r="4"/>
<circle cx="204.7" cy="288.9" r="4"/>
<circle cx="204.5" cy="288.6" r="4"/>
<circle cx="209.6" cy="289" r="4"/>
<circle cx="210.7" cy="289" r="4"/>
<circle cx="148" cy="289.1" r="4"/>
<circle cx="151.6" cy="289.8" r="4"/>
<circle cx="191.7" cy="289.2" r="4"/>
<circle cx="195.4" cy="289.6" r="4"/>
<circle cx="200" cy="289.5" r="4"/>
<circle cx="201.4" cy="289.9" r="4"/>
<circle cx="202.8" cy="289.5" r="4"/>
<circle cx="202.5" cy="289.9" r="4"/>
<circle cx="207.2" cy="289.9" r="4"/>
<circle cx="145.3" cy="290.6" r="4"/>
<circle cx="194.8" cy="290.4" r="4"/>
<circle cx="197.6" cy="290.9" r="4"/>
<circle cx="205.3" cy="290.1" r="4"/>
<circle cx="205.8" cy="290.6" r="4"/>
<circle cx="207.3" cy="290.8" r="4"/>
<circle cx="151.3" cy="291.2" r="4"/>
<circle cx="196.3" cy="291.5" r="4"/>
<circle cx="201.6" cy="291.3" r="4"/>
<circle cx="202.1" cy="291.6" r="4"/>
<circle cx="217.9" cy="291.3" r="4"/>
<circle cx="195" cy="292.6" r="4"/>
<circle cx="196.2" cy="292.8" r="4"/>
<circle cx="196.9" cy="292.2" r="4"/>
<circle cx="203.1" cy="292.4" r="4"/>
<circle cx="203.1" cy="292.4" r="4"/>
<circle cx="205.2" cy="292.3" r="4"/>
<circle cx="206.1" cy="293" r="4"/>
<circle cx="223.8" cy="292.8" r="4"/>
<circle cx="147.5" cy="293.5" r="4"/>
<circle cx="148.7" cy="293.1" r="4"/>
<circle cx="149.9" cy="293.8" r="4"/>
<circle cx="150.2" cy="293.1" r="4"/>
<circle cx="150.9" cy="293.2" r="4"/>
<circle cx="152.7" cy="294" r="4"/>
<circle cx="152.7" cy="293.2" r="4"/>
<circle cx="191.9" cy="293" r="4"/>
<circle cx="198.6" cy="293.7" r="4"/>
<circle cx="203.2" cy="293.2" r="4"/>
<circle cx="207.7" cy="293.7" r="4"/>
<circle cx="148" cy="294.8" r="4"/>
<circle cx="194.3" cy="294.9" r="4"/>
<circle cx="195.1" cy="294.1" r="4"/>
<circle cx="198.3" cy="294.5" r="4"/>
<circle cx="205.7" cy="294.7" r="4"/>
<circle cx="207" cy="294.7" r="4"/>
<circle cx="147.9" cy="295.8" r="4"/>
<circle cx="149.3" cy="295.8" r="4"/>
<circle cx="152.8" cy="295.1" r="4"/>
<circle cx="152.6" cy="295.1" r="4"/>
<circle cx="190.8" cy="295" r="4"/>
<circle cx="190.3" cy="295.2" r="4"/>
<circle cx="191.2" cy="295.1" r="4"/>
<circle cx="197.1" cy="295.1" r="4"/>
<circle cx="201" cy="295.1" r="4"/>
<circle cx="203.8" cy="295.5" r="4"/>
<circle cx="146.8" cy="296.7" r="4"/>
<circle cx="149.5" cy="296.4" r="4"/>
<circle cx="150.3" cy="296.3" r="4"/>
<circle cx="191.1" cy="296.4" r="4"/>
<circle cx="191.2" cy="296.4" r="4"/>
<circle cx="198.8" cy="296.2" r="4"/>
<circle cx="206.6" cy="296.4" r="4"/>
<circle cx="215.7" cy="296.3" r="4"/>
<circle cx="226.8" cy="297" r="4"/>
<circle cx="147.3" cy="297.4" r="4"/>
<circle cx="191.1" cy="297.5" r="4"/>
<circle cx="192.6" cy="298" r="4"/>
<circle cx="194.4" cy="297.4" r="4"/>
<circle cx="197" cy="297.4" r="4"/>
<circle cx="196.5" cy="297.2" r="4"/>
<circle cx="197.8" cy="297.3" r="4"/>
<circle cx="200.6" cy="297.9" r="4"/>
<circle cx="203.1" cy="297.1" r="4"/>
<circle cx="225.4" cy="297.2" r="4"/>
<circle cx="231.8" cy="297.7" r="4"/>
<circle cx="146.7" cy="298.1" r="4"/>
<circle cx="147.7" cy="298" r="4"/>
<circle cx="148.4" cy="298.1" r="4"/>
<circle cx="148.9" cy="299" r="4"/>
<circle cx="152.7" cy="298.8" r="4"/>
<circle cx="191.7" cy="298.3" r="4"/>
<circle cx="201.7" cy="298.3" r="4"/>
<circle cx="201.5" cy="298.6" r="4"/>
<circle cx="212.6" cy="298" r="4"/>
<circle cx="148.1" cy="299.1" r="4"/>
<circle cx="149" cy="299.4" r="4"/>
<circle cx="150.9" cy="299.3" r="4"/>
<circle cx="192.8" cy="299.5" r="4"/>
<circle cx="194.1" cy="299" r="4"/>
<circle cx="197.5" cy="299.5" r="4"/>
<circle cx="205" cy="299.1" r="4"/>
<circle cx="205.1" cy="299.5" r="4"/>
<circle cx="147" cy="300" r="4"/>
<circle cx="190.4" cy="300.9" r="4"/>
<circle cx="192.5" cy="300.3" r="4"/>
<circle cx="196.3" cy="300.1" r="4"/>
<circle cx="197.1" cy="300.1" r="4"/>
<circle cx="200.2" cy="300.8" r="4"/>
<circle cx="205.9" cy="300.7" r="4"/>
<circle cx="215.1" cy="300.1" r="4"/>
<circle cx="146.3" cy="301.5" r="4"/>
<circle cx="150.6" cy="301.5" r="4"/>
<circle cx="151.5" cy="301.9" r="4"/>
<circle cx="152.7" cy="301.6" r="4"/>
<circle cx="194.5" cy="302" r="4"/>
<circle cx="196.2" cy="301.4" r="4"/>
<circle cx="197" cy="301.7" r="4"/>
<circle cx="224.4" cy="301.7" r="4"/>
<circle cx="226.9" cy="301.4" r="4"/>
<circle cx="149.8" cy="302.9" r="4"/>
<circle cx="151.8" cy="302.5" r="4"/>
<circle cx="191.5" cy="302.2" r="4"/>
<circle cx="194.4" cy="302.1" r="4"/>
<circle cx="198.9" cy="302.8" r="4"/>
<circle cx="205.6" cy="302.5" r="4"/>
<circle cx="205.3" cy="302.1" r="4"/>
<circle cx="209.2" cy="302" r="4"/>
<circle cx="212.5" cy="302.7" r="4"/>
<circle cx="144.9" cy="303.5" r="4"/>
<circle cx="148.3" cy="303.1" r="4"/>
<circle cx="149.4" cy="303.1" r="4"/>
<circle cx="151.6" cy="303.3" r="4"/>
<circle cx="151.5" cy="303.9" r="4"/>
<circle cx="191.7" cy="303.7" r="4"/>
<circle cx="192.2" cy="303.3" r="4"/>
<circle cx="197" cy="303.6" r="4"/>
<circle cx="199" cy="303.5" r="4"/>
<circle cx="207.3" cy="303.5" r="4"/>
<circle cx="209.4" cy="304" r="4"/>
<circle cx="211.5" cy="303" r="4"/>
<circle cx="146.9" cy="304.6" r="4"/>
<circle cx="147.8" cy="304.4" r="4"/>
<circle cx="149.8" cy="304.8" r="4"/>
<circle cx="150.7" cy="304.6" r="4"/>
<circle cx="152.7" cy="305" r="4"/>
<circle cx="193.5" cy="304.5" r="4"/>
<circle cx="194.2" cy="304.7" r="4"/>
<circle cx="195.2" cy="304.9" r="4"/>
<circle cx="196.8" cy="304.9" r="4"/>
<circle cx="200.1" cy="304.4" r="4"/>
<circle cx="202" cy="304.5" r="4"/>
<circle cx="220.5" cy="304.4" r="4"/>
<circle cx="192.4" cy="305.2" r="4"/>
<circle cx="194.6" cy="305.9" r="4"/>
<circle cx="202.1" cy="305" r="4"/>
<circle cx="206.2" cy="305.4" r="4"/>
<circle cx="216.8" cy="305.2" r="4"/>
<circle cx="147.6" cy="306.7" r="4"/>
<circle cx="150.2" cy="306.6" r="4"/>
<circle cx="150.8" cy="306.3" r="4"/>
<circle cx="153" cy="306.6" r="4"/>
<circle cx="152.4" cy="306.8" r="4"/>
<circle cx="198.5" cy="306.5" r="4"/>
<circle cx="200.3" cy="307" r="4"/>
<circle cx="200.7" cy="306.6" r="4"/>
<circle cx="203.3" cy="306.8" r="4"/>
<circle cx="204.3" cy="306.6" r="4"/>
<circle cx="144.5" cy="307.1" r="4"/>
<circle cx="148.5" cy="307.9" r="4"/>
<circle cx="151.6" cy="307.4" r="4"/>
<circle cx="152.2" cy="307.1" r="4"/>
<circle cx="152.5" cy="307.2" r="4"/>
<circle cx="190.5" cy="307.3" r="4"/>
<circle cx="196.9" cy="307" r="4"/>
<circle cx="198.5" cy="307.1" r="4"/>
<circle cx="201.2" cy="307.2" r="4"/>
<circle cx="206.6" cy="307.5" r="4"/>
<circle cx="214.6" cy="307.4" r="4"/>
<circle cx="147.4" cy="308.4" r="4"/>
<circle cx="148.3" cy="308.9" r="4"/>
<circle cx="148.9" cy="308.2" r="4"/>
<circle cx="150.5" cy="308.8" r="4"/>
<circle cx="152.1" cy="308.6" r="4"/>
<circle cx="192.8" cy="308.7" r="4"/>
<circle cx="203.7" cy="308.5" r="4"/>
<circle cx="212.7" cy="308.2" r="4"/>
<circle cx="145.9" cy="309" r="4"/>
<circle cx="146.5" cy="309.8" r="4"/>
<circle cx="153.8" cy="309.6" r="4"/>
<circle cx="192.4" cy="309" r="4"/>
<circle cx="196.3" cy="309.1" r="4"/>
<circle cx="205.3" cy="309" r="4"/>
<circle cx="146.9" cy="310.5" r="4"/>
<circle cx="196.3" cy="310.8" r="4"/>
<circle cx="208.1" cy="310.5" r="4"/>
<circle cx="212.7" cy="310" r="4"/>
<circle cx="148" cy="311.1" r="4"/>
<circle cx="151.2" cy="311.5" r="4"/>
<circle cx="151.3" cy="311.5" r="4"/>
<circle cx="190.9" cy="311.4" r="4"/>
<circle cx="191.4" cy="311.7" r="4"/>
<circle cx="209.1" cy="311.7" r="4"/>
<circle cx="210.8" cy="311.6" r="4"/>
<circle cx="223.8" cy="312" r="4"/>
<circle cx="147.3" cy="312.1" r="4"/>
<circle cx="147.9" cy="312.6" r="4"/>
<circle cx="149" cy="312.2" r="4"/>
<circle cx="152.9" cy="312.7" r="4"/>
<circle cx="201.2" cy="312.6" r="4"/>
<circle cx="204.4" cy="312.1" r="4"/>
<circle cx="206.2" cy="312.4" r="4"/>
<circle cx="150.7" cy="313.3" r="4"/>
<circle cx="150.4" cy="313.8" r="4"/>
<circle cx="191.1" cy="313.1" r="4"/>
<circle cx="197.9" cy="313.6" r="4"/>
<circle cx="199.1" cy="313.1" r="4"/>
<circle cx="202.4" cy="313" r="4"/>
<circle cx="209" cy="313.2" r="4"/>
<circle cx="208.2" cy="313.8" r="4"/>
<circle cx="217" cy="313.2" r="4"/>
<circle cx="151.4" cy="314.3" r="4"/>
<circle cx="152" cy="314.4" r="4"/>
<circle cx="194.3" cy="314.1" r="4"/>
<circle cx="195.7" cy="314.4" r="4"/>
<circle cx="199.3" cy="314.8" r="4"/>
<circle cx="199.6" cy="314.8" r="4"/>
<circle cx="204.7" cy="314.3" r="4"/>
<circle cx="146.2" cy="315.4" r="4"/>
<circle cx="146.2" cy="315.7" r="4"/>
<circle cx="147" cy="315.7" r="4"/>
<circle cx="153.3" cy="315.2" r="4"/>
<circle cx="193.4" cy="315.1" r="4"/>
<circle cx="195.1" cy="315.5" r="4"/>
<circle cx="200.1" cy="315.2" r="4"/>
<circle cx="201.3" cy="315.8" r="4"/>
<circle cx="214.6" cy="315.2" r="4"/>
<circle cx="145.6" cy="316.6" r="4"/>
<circle cx="149.3" cy="316.1" r="4"/>
<circle cx="151.1" cy="316" r="4"/>
<circle cx="153" cy="316.9" r="4"/>
<circle cx="153.3" cy="316.8" r="4"/>
<circle cx="190.1" cy="317" r="4"/>
<circle cx="190.2" cy="316.4" r="4"/>
<circle cx="190.1" cy="316.2" r="4"/>
<circle cx="191.5" cy="316.6" r="4"/>
<circle cx="194.7" cy="316.6" r="4"/>
<circle cx="194.8" cy="316.9" r="4"/>
<circle cx="197" cy="316.5" r="4"/>
<circle cx="201.4" cy="316.3" r="4"/>
<circle cx="203.8" cy="316.2" r="4"/>
<circle cx="205.6" cy="316.2" r="4"/>
<circle cx="213.6" cy="316.5" r="4"/>
<circle cx="149.2" cy="317.5" r="4"/>
<circle cx="149.2" cy="317.8" r="4"/>
<circle cx="152.7" cy="317.2" r="4"/>
<circle cx="190.6" cy="317.9" r="4"/>
<circle cx="190.9" cy="317.7" r="4"/>
<circle cx="191.6" cy="317.3" r="4"/>
<circle cx="194.7" cy="317.6" r="4"/>
<circle cx="198.6" cy="317.7" r="4"/>
<circle cx="200.5" cy="317.9" r="4"/>
<circle cx="206.7" cy="317.6" r="4"/>
<circle cx="208.3" cy="317.8" r="4"/>
<circle cx="225.9" cy="317.8" r="4"/>
<circle cx="147.8" cy="318.9" r="4"/>
<circle cx="147.6" cy="318.3" r="4"/>
<circle cx="148.5" cy="318.8" r="4"/>
<circle cx="148.5" cy="318.8" r="4"/>
<circle cx="153.8" cy="318.4" r="4"/>
<circle cx="192.8" cy="318.2" r="4"/>
<circle cx="198.1" cy="318.6" r="4"/>
<circle cx="198.3" cy="318.7" r="4"/>
<circle cx="200" cy="318.5" r="4"/>
<circle cx="201.5" cy="318.8" r="4"/>
<circle cx="203.8" cy="318.7" r="4"/>
<circle cx="203.5" cy="318.3" r="4"/>
<circle cx="221.7" cy="318.1" r="4"/>
<circle cx="146.2" cy="319.7" r="4"/>
<circle cx="149.9" cy="319.5" r="4"/>
<circle cx="190.8" cy="319.5" r="4"/>
<circle cx="190.5" cy="319.4" r="4"/>
<circle cx="192.3" cy="319.8" r="4"/>
<circle cx="199.5" cy="319.6" r="4"/>
<circle cx="202.3" cy="319.3" r="4"/>
<circle cx="206" cy="319.3" r="4"/>
<circle cx="219.2" cy="319.5" r="4"/>
<circle cx="222.7" cy="319.6" r="4"/>
<circle cx="153.8" cy="320.2" r="4"/>
<circle cx="190.9" cy="320.6" r="4"/>
<circle cx="192.6" cy="320.2" r="4"/>
<circle cx="226.3" cy="320.9" r="4"/>
<circle cx="147" cy="321.9" r="4"/>
<circle cx="148.1" cy="321.5" r="4"/>
<circle cx="149.8" cy="322" r="4"/>
<circle cx="192.5" cy="321.1" r="4"/>
<circle cx="197.4" cy="321.3" r="4"/>
<circle cx="197.4" cy="321.2" r="4"/>
<circle cx="200.5" cy="321.9" r="4"/>
<circle cx="147.8" cy="322.7" r="4"/>
<circle cx="153.4" cy="322.1" r="4"/>
<circle cx="153.9" cy="322.3" r="4"/>
<circle cx="191.4" cy="322.9" r="4"/>
<circle cx="191.7" cy="322.3" r="4"/>
<circle cx="193.3" cy="322.8" r="4"/>
<circle cx="194.3" cy="322.9" r="4"/>
<circle cx="196.1" cy="322.6" r="4"/>
<circle cx="213.5" cy="322.7" r="4"/>
<circle cx="148.2" cy="323.2" r="4"/>
<circle cx="151" cy="323.1" r="4"/>
<circle cx="153.1" cy="323.6" r="4"/>
<circle cx="193.3" cy="324" r="4"/>
<circle cx="195.9" cy="323.6" r="4"/>
<circle cx="197.6" cy="323.4" r="4"/>
<circle cx="198.5" cy="323.3" r="4"/>
<circle cx="199.8" cy="323.7" r="4"/>
<circle cx="202.1" cy="323.7" r="4"/>
<circle cx="146.6" cy="324.3" r="4"/>
<circle cx="148.8" cy="324" r="4"/>
<circle cx="153.4" cy="324.7" r="4"/>
<circle cx="190.7" cy="324.2" r="4"/>
<circle cx="191.3" cy="324.1" r="4"/>
<circle cx="194.8" cy="324.6" r="4"/>
<circle cx="198.8" cy="324.7" r="4"/>
<circle cx="204.7" cy="324.7" r="4"/>
<circle cx="219.6" cy="324.1" r="4"/>
<circle cx="191.8" cy="325.4" r="4"/>
<circle cx="191.5" cy="325.8" r="4"/>
<circle cx="191" cy="325.1" r="4"/>
<circle cx="193.3" cy="325.6" r="4"/>
<circle cx="195.3" cy="325.4" r="4"/>
<circle cx="212.6" cy="325.7" r="4"/>
<circle cx="217.7" cy="325.4" r="4"/>
<circle cx="147.3" cy="326" r="4"/>
<circle cx="148.8" cy="326.4" r="4"/>
<circle cx="148.5" cy="326.6" r="4"/>
<circle cx="150.4" cy="326.5" r="4"/>
<circle cx="152.6" cy="326.8" r="4"/>
<circle cx="153.3" cy="326.4" r="4"/>
<circle cx="198.5" cy="326.6" r="4"/>
<circle cx="204.7" cy="326.6" r="4"/>
<circle cx="150.6" cy="327.6" r="4"/>
<circle cx="150.7" cy="328" r="4"/>
<circle cx="151.3" cy="327.1" r="4"/>
<circle cx="154" cy="327.7" r="4"/>
<circle cx="193.3" cy="327.9" r="4"/>
<circle cx="196.1" cy="327.2" r="4"/>
<circle cx="196.7" cy="327.7" r="4"/>
<circle cx="205.7" cy="327.5" r="4"/>
<circle cx="208.2" cy="327" r="4"/>
<circle cx="210.4" cy="327.8" r="4"/>
<circle cx="218" cy="327.7" r="4"/>
<circle cx="220.5" cy="327.6" r="4"/>
<circle cx="153.7" cy="328.6" r="4"/>
<circle cx="191.5" cy="328.6" r="4"/>
<circle cx="192.1" cy="328.9" r="4"/>
<circle cx="193.2" cy="328.6" r="4"/>
<circle cx="194.1" cy="328.4" r="4"/>
<circle cx="196.9" cy="328.4" r="4"/>
<circle cx="224.2" cy="328.6" r="4"/>
<circle cx="149.1" cy="329.2" r="4"/>
<circle cx="149.7" cy="329.7" r="4"/>
<circle cx="150.9" cy="330" r="4"/>
<circle cx="153.6" cy="329.4" r="4"/>
<circle cx="154.1" cy="329.7" r="4"/>
<circle cx="190.5" cy="329.9" r="4"/>
<circle cx="193" cy="329.9" r="4"/>
<circle cx="207.7" cy="329.7" r="4"/>
<circle cx="217.9" cy="329.4" r="4"/>
<circle cx="147.2" cy="330.4" r="4"/>
<circle cx="191.6" cy="330.4" r="4"/>
<circle cx="192" cy="330.6" r="4"/>
<circle cx="191.7" cy="330.2" r="4"/>
<circle cx="193.8" cy="330.1" r="4"/>
<circle cx="198.3" cy="331" r="4"/>
<circle cx="217.6" cy="330.8" r="4"/>
<circle cx="148.9" cy="331.9" r="4"/>
<circle cx="153.1" cy="331.7" r="4"/>
<circle cx="192.5" cy="331.3" r="4"/>
<circle cx="193.3" cy="331.7" r="4"/>
<circle cx="194.8" cy="331.7" r="4"/>
<circle cx="195.6" cy="331.8" r="4"/>
<circle cx="195.6" cy="331.4" r="4"/>
<circle cx="210.9" cy="331.9" r="4"/>
<circle cx="215.7" cy="331.8" r="4"/>
<circle cx="149.5" cy="333" r="4"/>
<circle cx="150.4" cy="332.4" r="4"/>
<circle cx="151.3" cy="332.7" r="4"/>
<circle cx="151.3" cy="332.1" r="4"/>
<circle cx="152.6" cy="332.3" r="4"/>
<circle cx="190.1" cy="332.9" r="4"/>
<circle cx="193.1" cy="332.3" r="4"/>
<circle cx="197.4" cy="332.6" r="4"/>
<circle cx="213" cy="332.8" r="4"/>
<circle cx="149.4" cy="333.3" r="4"/>
<circle cx="154" cy="333.4" r="4"/>
<circle cx="190.3" cy="333.4" r="4"/>
<circle cx="196.1" cy="333.6" r="4"/>
<circle cx="200.5" cy="333.1" r="4"/>
<circle cx="150.7" cy="334.9" r="4"/>
<circle cx="192.9" cy="334.8" r="4"/>
<circle cx="194.5" cy="334.2" r="4"/>
<circle cx="195.3" cy="334.5" r="4"/>
<circle cx="196" cy="334.7" r="4"/>
<circle cx="196.5" cy="334.7" r="4"/>
<circle cx="196.4" cy="335" r="4"/>
<circle cx="209.5" cy="334.9" r="4"/>
<circle cx="151.4" cy="335.7" r="4"/>
<circle cx="153.9" cy="335.4" r="4"/>
<circle cx="155.1" cy="335.8" r="4"/>
<circle cx="155.1" cy="335.4" r="4"/>
<circle cx="192.4" cy="335.7" r="4"/>
<circle cx="192.9" cy="335.7" r="4"/>
<circle cx="193" cy="335.4" r="4"/>
<circle cx="193.1" cy="335.6" r="4"/>
<circle cx="194.8" cy="335" r="4"/>
<circle cx="195.2" cy="335.3" r="4"/>
<circle cx="199.7" cy="335.2" r="4"/>
<circle cx="201.5" cy="335.1" r="4"/>
<circle cx="203.9" cy="335.2" r="4"/>
<circle cx="203.6" cy="335.7" r="4"/>
<circle cx="204.3" cy="335.5" r="4"/>
<circle cx="206.8" cy="335.8" r="4"/>
<circle cx="151.4" cy="336.8" r="4"/>
<circle cx="155.6" cy="336.4" r="4"/>
<circle cx="192.3" cy="336.5" r="4"/>
<circle cx="193.8" cy="336.2" r="4"/>
<circle cx="200.6" cy="336.5" r="4"/>
<circle cx="201.3" cy="336.9" r="4"/>
<circle cx="204.4" cy="336.8" r="4"/>
<circle cx="212.4" cy="336.5" r="4"/>
<circle cx="150.8" cy="337.1" r="4"/>
<circle cx="154.1" cy="337.4" r="4"/>
<circle cx="155.3" cy="337.4" r="4"/>
<circle cx="190.6" cy="338" r="4"/>
<circle cx="194.9" cy="337.6" r="4"/>
<circle cx="195.1" cy="337.3" r="4"/>
<circle cx="196.9" cy="337.3" r="4"/>
<circle cx="213.3" cy="337" r="4"/>
<circle cx="214.3" cy="337.3" r="4"/>
<circle cx="149.3" cy="338.2" r="4"/>
<circle cx="151.7" cy="339" r="4"/>
<circle cx="152.5" cy="338.4" r="4"/>
<circle cx="156" cy="338.6" r="4"/>
<circle cx="156" cy="339" r="4"/>
<circle cx="192.5" cy="338.6" r="4"/>
<circle cx="194.9" cy="338.8" r="4"/>
<circle cx="196" cy="338.1" r="4"/>
<circle cx="197.6" cy="338.1" r="4"/>
<circle cx="197.6" cy="338.6" r="4"/>
<circle cx="197.9" cy="338.8" r="4"/>
<circle cx="199.4" cy="338.4" r="4"/>
<circle cx="206.7" cy="338.1" r="4"/>
<circle cx="231.9" cy="338.7" r="4"/>
<circle cx="150" cy="339.3" r="4"/>
<circle cx="154.3" cy="339.6" r="4"/>
<circle cx="155.1" cy="339.1" r="4"/>
<circle cx="190.6" cy="339.7" r="4"/>
<circle cx="190.8" cy="339.6" r="4"/>
<circle cx="190.2" cy="339.7" r="4"/>
<circle cx="192.1" cy="339.8" r="4"/>
<circle cx="200.3" cy="339.6" r="4"/>
<circle cx="204.2" cy="339.4" r="4"/>
<circle cx="209.8" cy="339.8" r="4"/>
<circle cx="210.5" cy="339.1" r="4"/>
<circle cx="211.6" cy="339.1" r="4"/>
<circle cx="225.8" cy="340" r="4"/>
<circle cx="150" cy="340.3" r="4"/>
<circle cx="151.1" cy="340.7" r="4"/>
<circle cx="155.5" cy="340.1" r="4"/>
<circle cx="155.4" cy="341" r="4"/>
<circle cx="189.6" cy="340.1" r="4"/>
<circle cx="192.4" cy="340.2" r="4"/>
<circle cx="196.1" cy="340.4" r="4"/>
<circle cx="207.8" cy="340" r="4"/>
<circle cx="216.2" cy="340.8" r="4"/>
<circle cx="151.5" cy="341.4" r="4"/>
<circle cx="151" cy="341.5" r="4"/>
<circle cx="153.5" cy="341.5" r="4"/>
<circle cx="154.4" cy="341.8" r="4"/>
<circle cx="155.5" cy="341.8" r="4"/>
<circle cx="156.7" cy="341.2" r="4"/>
<circle cx="156.6" cy="341.9" r="4"/>
<circle cx="156.7" cy="341.2" r="4"/>
<circle cx="193.5" cy="341.4" r="4"/>
<circle cx="194.8" cy="341.3" r="4"/>
<circle cx="194.4" cy="341.5" r="4"/>
<circle cx="194" cy="341.7" r="4"/>
<circle cx="195" cy="341.7" r="4"/>
<circle cx="196.6" cy="341.4" r="4"/>
<circle cx="196.3" cy="341.9" r="4"/>
<circle cx="196.6" cy="341.9" r="4"/>
<circle cx="197.8" cy="341.3" r="4"/>
<circle cx="200.1" cy="341" r="4"/>
<circle cx="217.8" cy="341.8" r="4"/>
<circle cx="232.2" cy="341.3" r="4"/>
<circle cx="151" cy="342" r="4"/>
<circle cx="191.3" cy="342.4" r="4"/>
<circle cx="192.4" cy="342.5" r="4"/>
<circle cx="193.1" cy="342.5" r="4"/>
<circle cx="195.2" cy="342" r="4"/>
<circle cx="195.7" cy="342.2" r="4"/>
<circle cx="197.1" cy="342.1" r="4"/>
<circle cx="203.4" cy="342.2" r="4"/>
<circle cx="152.2" cy="343.1" r="4"/>
<circle cx="155.4" cy="343.3" r="4"/>
<circle cx="191.5" cy="343.7" r="4"/>
<circle cx="195.5" cy="343.1" r="4"/>
<circle cx="201.6" cy="343.1" r="4"/>
<circle cx="206.4" cy="343.5" r="4"/>
<circle cx="150.7" cy="344.6" r="4"/>
<circle cx="151.9" cy="344.4" r="4"/>
<circle cx="151.7" cy="344.4" r="4"/>
<circle cx="154.6" cy="344.1" r="4"/>
<circle cx="191.4" cy="344.9" r="4"/>
<circle cx="191.7" cy="345" r="4"/>
<circle cx="191.5" cy="344.3" r="4"/>
<circle cx="195.4" cy="344.3" r="4"/>
<circle cx="195.5" cy="344.5" r="4"/>
<circle cx="196.7" cy="344.8" r="4"/>
<circle cx="204.8" cy="344.4" r="4"/>
<circle cx="209.3" cy="344.9" r="4"/>
<circle cx="211.3" cy="344.8" r="4"/>
<circle cx="152.8" cy="345.3" r="4"/>
<circle cx="154.6" cy="345.2" r="4"/>
<circle cx="192.1" cy="345.6" r="4"/>
<circle cx="196.3" cy="345.3" r="4"/>
<circle cx="200" cy="345.2" r="4"/>
<circle cx="200.9" cy="345.3" r="4"/>
<circle cx="201.2" cy="345.9" r="4"/>
<circle cx="208.8" cy="345.6" r="4"/>
<circle cx="210" cy="346" r="4"/>
<circle cx="151.2" cy="346.6" r="4"/>
<circle cx="151.8" cy="346.3" r="4"/>
<circle cx="152.5" cy="346.3" r="4"/>
<circle cx="153.1" cy="346.2" r="4"/>
<circle cx="154.7" cy="346.7" r="4"/>
<circle cx="156.2" cy="346.8" r="4"/>
<circle cx="189.8" cy="346.5" r="4"/>
<circle cx="189.5" cy="346.8" r="4"/>
<circle cx="190.7" cy="346.9" r="4"/>
<circle cx="191.2" cy="346" r="4"/>
<circle cx="193.1" cy="346.4" r="4"/>
<circle cx="195.8" cy="346.2" r="4"/>
<circle cx="195.3" cy="346.2" r="4"/>
<circle cx="197.2" cy="346.7" r="4"/>
<circle cx="199.7" cy="346.6" r="4"/>
<circle cx="199.4" cy="346.6" r="4"/>
<circle cx="201.8" cy="346.5" r="4"/>
<circle cx="205.7" cy="346.8" r="4"/>
<circle cx="208.4" cy="346.7" r="4"/>
<circle cx="211.5" cy="346.1" r="4"/>
<circle cx="151" cy="347.3" r="4"/>
<circle cx="156.7" cy="347.2" r="4"/>
<circle cx="157.8" cy="347.7" r="4"/>
<circle cx="157.7" cy="347.2" r="4"/>
<circle cx="189.9" cy="347.8" r="4"/>
<circle cx="193.2" cy="347.2" r="4"/>
<circle cx="196.1" cy="347.7" r="4"/>
<circle cx="196.5" cy="347.5" r="4"/>
<circle cx="197" cy="347.3" r="4"/>
<circle cx="200.8" cy="347.2" r="4"/>
<circle cx="214.3" cy="347.9" r="4"/>
<circle cx="217.2" cy="347.7" r="4"/>
<circle cx="153.1" cy="348.5" r="4"/>
<circle cx="156.6" cy="348" r="4"/>
<circle cx="192" cy="348.6" r="4"/>
<circle cx="192.7" cy="348.9" r="4"/>
<circle cx="192.5" cy="349" r="4"/>
<circle cx="152.2" cy="350" r="4"/>
<circle cx="155.5" cy="349.9" r="4"/>
<circle cx="156.1" cy="349.1" r="4"/>
<circle cx="157.9" cy="350" r="4"/>
<circle cx="191.7" cy="349.8" r="4"/>
<circle cx="191.8" cy="349.2" r="4"/>
<circle cx="194.2" cy="349.3" r="4"/>
<circle cx="198.1" cy="349.9" r="4"/>
<circle cx="200.6" cy="349.4" r="4"/>
<circle cx="200.1" cy="349.6" r="4"/>
<circle cx="202.6" cy="349.6" r="4"/>
<circle cx="215.2" cy="349.4" r="4"/>
<circle cx="152.9" cy="350.1" r="4"/>
<circle cx="155" cy="350.2" r="4"/>
<circle cx="196" cy="350.2" r="4"/>
<circle cx="197.9" cy="350.4" r="4"/>
<circle cx="152.3" cy="351.4" r="4"/>
<circle cx="153.8" cy="351.9" r="4"/>
<circle cx="157" cy="351.4" r="4"/>
<circle cx="193.8" cy="351.4" r="4"/>
<circle cx="193.2" cy="351.8" r="4"/>
<circle cx="194.6" cy="351.6" r="4"/>
<circle cx="195.6" cy="351.9" r="4"/>
<circle cx="196.6" cy="351" r="4"/>
<circle cx="206.7" cy="351.2" r="4"/>
<circle cx="152.5" cy="352.8" r="4"/>
<circle cx="155" cy="352.5" r="4"/>
<circle cx="190.8" cy="352.3" r="4"/>
<circle cx="192.1" cy="352.2" r="4"/>
<circle cx="193" cy="352" r="4"/>
<circle cx="200.3" cy="352.6" r="4"/>
<circle cx="156" cy="353.5" r="4"/>
<circle cx="157.7" cy="353.3" r="4"/>
<circle cx="159" cy="353.5" r="4"/>
<circle cx="189.8" cy="353.6" r="4"/>
<circle cx="192.9" cy="354" r="4"/>
<circle cx="195.9" cy="353.7" r="4"/>
<circle cx="198.8" cy="353.8" r="4"/>
<circle cx="200.3" cy="353.7" r="4"/>
<circle cx="207.9" cy="353" r="4"/>
<circle cx="152.8" cy="354.4" r="4"/>
<circle cx="153.3" cy="354.7" r="4"/>
<circle cx="153" cy="354.3" r="4"/>
<circle cx="154.9" cy="354.4" r="4"/>
<circle cx="156.4" cy="354.4" r="4"/>
<circle cx="156.1" cy="354.7" r="4"/>
<circle cx="157" cy="354" r="4"/>
<circle cx="190.5" cy="354.1" r="4"/>
<circle cx="192" cy="354.3" r="4"/>
<circle cx="192.2" cy="354.5" r="4"/>
<circle cx="195.4" cy="354" r="4"/>
<circle cx="198.5" cy="354.7" r="4"/>
<circle cx="219.8" cy="354.7" r="4"/>
<circle cx="153.4" cy="355.6" r="4"/>
<circle cx="154.7" cy="355.8" r="4"/>
<circle cx="154" cy="355.4" r="4"/>
<circle cx="155.9" cy="355.4" r="4"/>
<circle cx="155.7" cy="355.8" r="4"/>
<circle cx="155.5" cy="355.3" r="4"/>
<circle cx="156.2" cy="355.6" r="4"/>
<circle cx="157.2" cy="355.7" r="4"/>
<circle cx="192.2" cy="355.5" r="4"/>
<circle cx="193.7" cy="355" r="4"/>
<circle cx="194.9" cy="355.6" r="4"/>
<circle cx="195.4" cy="355.2" r="4"/>
<circle cx="197.5" cy="355.3" r="4"/>
<circle cx="198.8" cy="355.4" r="4"/>
<circle cx="200" cy="355.6" r="4"/>
<circle cx="153.6" cy="356.7" r="4"/>
<circle cx="154" cy="356.8" r="4"/>
<circle cx="154.8" cy="356.2" r="4"/>
<circle cx="156" cy="356.7" r="4"/>
<circle cx="156.4" cy="356.8" r="4"/>
<circle cx="156.8" cy="356.1" r="4"/>
<circle cx="156.6" cy="356.6" r="4"/>
<circle cx="156.5" cy="356.6" r="4"/>
<circle cx="157.7" cy="356.7" r="4"/>
<circle cx="157.6" cy="356.5" r="4"/>
<circle cx="158.9" cy="356.5" r="4"/>
<circle cx="158.8" cy="356.1" r="4"/>
<circle cx="191.6" cy="356.1" r="4"/>
<circle cx="191.8" cy="356.1" r="4"/>
<circle cx="192.9" cy="356.3" r="4"/>
<circle cx="193" cy="356.7" r="4"/>
<circle cx="195.1" cy="356.3" r="4"/>
<circle cx="196.7" cy="356.2" r="4"/>
<circle cx="154.3" cy="357.9" r="4"/>
<circle cx="155.8" cy="357.8" r="4"/>
<circle cx="157.2" cy="357.9" r="4"/>
<circle cx="191.6" cy="357.8" r="4"/>
<circle cx="195.9" cy="357.3" r="4"/>
<circle cx="196.2" cy="357.8" r="4"/>
<circle cx="198.4" cy="357.1" r="4"/>
<circle cx="201.1" cy="357.9" r="4"/>
<circle cx="205" cy="357.1" r="4"/>
<circle cx="206.8" cy="357.9" r="4"/>
<circle cx="207.2" cy="357.6" r="4"/>
<circle cx="158.9" cy="358.9" r="4"/>
<circle cx="189.5" cy="358.6" r="4"/>
<circle cx="190.8" cy="358.1" r="4"/>
<circle cx="194.3" cy="358.1" r="4"/>
<circle cx="195" cy="358.9" r="4"/>
<circle cx="196.4" cy="358.8" r="4"/>
<circle cx="197.8" cy="358.4" r="4"/>
<circle cx="199.5" cy="358.2" r="4"/>
<circle cx="202.5" cy="358.8" r="4"/>
<circle cx="203.1" cy="358.4" r="4"/>
<circle cx="207.5" cy="358" r="4"/>
<circle cx="209.9" cy="358.7" r="4"/>
<circle cx="212.4" cy="358.6" r="4"/>
<circle cx="150.7" cy="359.3" r="4"/>
<circle cx="152.3" cy="359.6" r="4"/>
<circle cx="152.5" cy="359.6" r="4"/>
<circle cx="153.4" cy="359.7" r="4"/>
<circle cx="153.3" cy="359.8" r="4"/>
<circle cx="155.2" cy="359.9" r="4"/>
<circle cx="156.5" cy="359.1" r="4"/>
<circle cx="156" cy="359.1" r="4"/>
<circle cx="195.1" cy="359.3" r="4"/>
<circle cx="195.8" cy="359.3" r="4"/>
<circle cx="195.1" cy="359.1" r="4"/>
<circle cx="198" cy="359.8" r="4"/>
<circle cx="200" cy="359" r="4"/>
<circle cx="154.1" cy="360.4" r="4"/>
<circle cx="156.5" cy="360.5" r="4"/>
<circle cx="159.3" cy="360.9" r="4"/>
<circle cx="159.5" cy="360.1" r="4"/>
<circle cx="194" cy="360.2" r="4"/>
<circle cx="197.9" cy="360.7" r="4"/>
<circle cx="153.7" cy="361.8" r="4"/>
<circle cx="154.4" cy="361.6" r="4"/>
<circle cx="192.3" cy="361.4" r="4"/>
<circle cx="199.5" cy="361.9" r="4"/>
<circle cx="212" cy="361.4" r="4"/>
<circle cx="154.4" cy="362.8" r="4"/>
<circle cx="155.4" cy="362.5" r="4"/>
<circle cx="156.3" cy="362.2" r="4"/>
<circle cx="158.7" cy="362" r="4"/>
<circle cx="159.5" cy="362.2" r="4"/>
<circle cx="159.1" cy="362.4" r="4"/>
<circle cx="189.3" cy="362.8" r="4"/>
<circle cx="193.3" cy="362.2" r="4"/>
<circle cx="195.8" cy="362.7" r="4"/>
<circle cx="198" cy="362.1" r="4"/>
<circle cx="202" cy="362.8" r="4"/>
<circle cx="207.6" cy="362.9" r="4"/>
<circle cx="154.3" cy="363.4" r="4"/>
<circle cx="155" cy="363.5" r="4"/>
<circle cx="155.2" cy="363.9" r="4"/>
<circle cx="157.6" cy="363.3" r="4"/>
<circle cx="190.6" cy="363.7" r="4"/>
<circle cx="191.6" cy="363.9" r="4"/>
<circle cx="193.8" cy="363.4" r="4"/>
<circle cx="194.1" cy="363.9" r="4"/>
<circle cx="195.6" cy="364" r="4"/>
<circle cx="197.7" cy="363.6" r="4"/>
<circle cx="200.3" cy="363.4" r="4"/>
<circle cx="212.4" cy="363.6" r="4"/>
<circle cx="213.9" cy="363.2" r="4"/>
<circle cx="214.6" cy="363.2" r="4"/>
<circle cx="153.5" cy="364.7" r="4"/>
<circle cx="155.2" cy="364.9" r="4"/>
<circle cx="155.7" cy="364.2" r="4"/>
<circle cx="155.7" cy="364.9" r="4"/>
<circle cx="193.6" cy="364.5" r="4"/>
<circle cx="201.5" cy="364.6" r="4"/>
<circle cx="204.2" cy="364.8" r="4"/>
<circle cx="217.7" cy="364.7" r="4"/>
<circle cx="218.8" cy="364.1" r="4"/>
<circle cx="218.9" cy="365" r="4"/>
<circle cx="156.6" cy="365.2" r="4"/>
<circle cx="156" cy="365.1" r="4"/>
<circle cx="156.4" cy="365.2" r="4"/>
<circle cx="159.2" cy="365.8" r="4"/>
<circle cx="189.9" cy="365.8" r="4"/>
<circle cx="193.2" cy="366" r="4"/>
<circle cx="194.7" cy="365.6" r="4"/>
<circle cx="210.6" cy="365.8" r="4"/>
<circle cx="212.9" cy="365.9" r="4"/>
<circle cx="228.2" cy="365.5" r="4"/>
<circle cx="155.1" cy="366.5" r="4"/>
<circle cx="193.1" cy="366.4" r="4"/>
<circle cx="194.4" cy="366.5" r="4"/>
<circle cx="196.3" cy="366.6" r="4"/>
<circle cx="197" cy="366.8" r="4"/>
<circle cx="197.1" cy="366.2" r="4"/>
<circle cx="200.4" cy="366.1" r="4"/>
<circle cx="209.8" cy="366.8" r="4"/>
<circle cx="155.2" cy="367.7" r="4"/>
<circle cx="158.3" cy="367.8" r="4"/>
<circle cx="190" cy="367.3" r="4"/>
<circle cx="202.1" cy="367.2" r="4"/>
<circle cx="203.8" cy="368" r="4"/>
<circle cx="154.5" cy="368.7" r="4"/>
<circle cx="155.6" cy="368.2" r="4"/>
<circle cx="158.5" cy="368.9" r="4"/>
<circle cx="189.7" cy="368.4" r="4"/>
<circle cx="191.7" cy="368.3" r="4"/>
<circle cx="191.7" cy="368.4" r="4"/>
<circle cx="196" cy="368.9" r="4"/>
<circle cx="200.4" cy="368.6" r="4"/>
<circle cx="206.3" cy="368.3" r="4"/>
<circle cx="210" cy="368.2" r="4"/>
<circle cx="154.6" cy="369.1" r="4"/>
<circle cx="156.7" cy="370" r="4"/>
<circle cx="158" cy="369.5" r="4"/>
<circle cx="160.7" cy="369.4" r="4"/>
<circle cx="189.6" cy="369.5" r="4"/>
<circle cx="190.7" cy="369.9" r="4"/>
<circle cx="192.6" cy="369.3" r="4"/>
<circle cx="152.5" cy="370.2" r="4"/>
<circle cx="155.6" cy="370.2" r="4"/>
<circle cx="159.3" cy="370.7" r="4"/>
<circle cx="160.5" cy="370.5" r="4"/>
<circle cx="191.1" cy="370.6" r="4"/>
<circle cx="193.7" cy="370.4" r="4"/>
<circle cx="194.9" cy="370.6" r="4"/>
<circle cx="195.6" cy="371" r="4"/>
<circle cx="195.7" cy="370.2" r="4"/>
<circle cx="195.3" cy="370.8" r="4"/>
<circle cx="197.9" cy="370.3" r="4"/>
<circle cx="200.4" cy="370.9" r="4"/>
<circle cx="200" cy="370.2" r="4"/>
<circle cx="201.2" cy="370.5" r="4"/>
<circle cx="153.2" cy="371.1" r="4"/>
<circle cx="156.4" cy="371.3" r="4"/>
<circle cx="160.9" cy="372" r="4"/>
<circle cx="195.2" cy="371.5" r="4"/>
<circle cx="200.9" cy="371.6" r="4"/>
<circle cx="202.8" cy="371.3" r="4"/>
<circle cx="206.9" cy="371" r="4"/>
<circle cx="218.1" cy="371.4" r="4"/>
<circle cx="192" cy="372.5" r="4"/>
<circle cx="198.8" cy="372.7" r="4"/>
<circle cx="198.9" cy="372.2" r="4"/>
<circle cx="199.8" cy="372.9" r="4"/>
<circle cx="201.9" cy="372.6" r="4"/>
<circle cx="153.3" cy="373.3" r="4"/>
<circle cx="160.1" cy="373.9" r="4"/>
<circle cx="172.3" cy="373.2" r="4"/>
<circle cx="178.9" cy="373.5" r="4"/>
<circle cx="179.2" cy="373.7" r="4"/>
<circle cx="181.3" cy="373.7" r="4"/>
<circle cx="182.5" cy="373.2" r="4"/>
<circle cx="188.5" cy="373.9" r="4"/>
<circle cx="197.6" cy="373.4" r="4"/>
<circle cx="212.9" cy="373.1" r="4"/>
<circle cx="215.2" cy="373.9" r="4"/>
<circle cx="224.4" cy="373.9" r="4"/>
<circle cx="157.1" cy="374" r="4"/>
<circle cx="162" cy="374.2" r="4"/>
<circle cx="169.8" cy="374.5" r="4"/>
<circle cx="173.7" cy="374.5" r="4"/>
<circle cx="173.9" cy="374.5" r="4"/>
<circle cx="176.5" cy="375" r="4"/>
<circle cx="178.7" cy="374.2" r="4"/>
<circle cx="181" cy="374.4" r="4"/>
<circle cx="181.8" cy="374.9" r="4"/>
<circle cx="183.7" cy="374.5" r="4"/>
<circle cx="183.1" cy="374.2" r="4"/>
<circle cx="186" cy="374.8" r="4"/>
<circle cx="185.6" cy="374.3" r="4"/>
<circle cx="188.1" cy="374.4" r="4"/>
<circle cx="189.6" cy="374.5" r="4"/>
<circle cx="191" cy="374.2" r="4"/>
<circle cx="197.5" cy="374" r="4"/>
<circle cx="200.2" cy="374.4" r="4"/>
<circle cx="201.8" cy="374.4" r="4"/>
<circle cx="205.4" cy="374.6" r="4"/>
<circle cx="158.4" cy="375.6" r="4"/>
<circle cx="159.3" cy="375.9" r="4"/>
<circle cx="163.3" cy="375.9" r="4"/>
<circle cx="169.6" cy="375.2" r="4"/>
<circle cx="172.5" cy="375.4" r="4"/>
<circle cx="174.3" cy="375.3" r="4"/>
<circle cx="179.2" cy="375.6" r="4"/>
<circle cx="180.5" cy="375.5" r="4"/>
<circle cx="180.1" cy="375.3" r="4"/>
<circle cx="182.1" cy="375.6" r="4"/>
<circle cx="182.4" cy="375.8" r="4"/>
<circle cx="182.9" cy="375.1" r="4"/>
<circle cx="185.9" cy="375.4" r="4"/>
<circle cx="185.2" cy="375.2" r="4"/>
<circle cx="186.9" cy="375.1" r="4"/>
<circle cx="191.1" cy="375.4" r="4"/>
<circle cx="200.2" cy="375" r="4"/>
<circle cx="202.3" cy="375.5" r="4"/>
<circle cx="156.2" cy="376.3" r="4"/>
<circle cx="157.9" cy="376.5" r="4"/>
<circle cx="166.4" cy="376.1" r="4"/>
<circle cx="169.8" cy="376.9" r="4"/>
<circle cx="173.2" cy="376.8" r="4"/>
<circle cx="173.6" cy="376.9" r="4"/>
<circle cx="178.1" cy="376.8" r="4"/>
<circle cx="180.6" cy="376.9" r="4"/>
<circle cx="183.4" cy="376.8" r="4"/>
<circle cx="184.2" cy="377" r="4"/>
<circle cx="188" cy="376.2" r="4"/>
<circle cx="192.8" cy="376.2" r="4"/>
<circle cx="193.7" cy="376.6" r="4"/>
<circle cx="196.4" cy="376.6" r="4"/>
<circle cx="198.2" cy="376.4" r="4"/>
<circle cx="199.5" cy="376.4" r="4"/>
<circle cx="218.4" cy="376.2" r="4"/>
<circle cx="160.6" cy="377.4" r="4"/>
<circle cx="163.3" cy="377.4" r="4"/>
<circle cx="166.4" cy="377.1" r="4"/>
<circle cx="166.8" cy="377.1" r="4"/>
<circle cx="167.3" cy="377.3" r="4"/>
<circle cx="169.1" cy="377.1" r="4"/>
<circle cx="173.4" cy="377.4" r="4"/>
<circle cx="177" cy="377.2" r="4"/>
<circle cx="177.3" cy="377.4" r="4"/>
<circle cx="179.5" cy="377" r="4"/>
<circle cx="180.8" cy="377.6" r="4"/>
<circle cx="182" cy="377.8" r="4"/>
<circle cx="181.4" cy="377.9" r="4"/>
<circle cx="186.4" cy="377.8" r="4"/>
<circle cx="195.3" cy="377.6" r="4"/>
<circle cx="201.6" cy="377.1" r="4"/>
<circle cx="203.7" cy="377.8" r="4"/>
<circle cx="204.3" cy="377.2" r="4"/>
<circle cx="205.5" cy="377.2" r="4"/>
<circle cx="213.1" cy="377.9" r="4"/>
<circle cx="152.3" cy="378.5" r="4"/>
<circle cx="155.6" cy="378.4" r="4"/>
<circle cx="156.9" cy="378.2" r="4"/>
<circle cx="156.6" cy="378.2" r="4"/>
<circle cx="158" cy="378.4" r="4"/>
<circle cx="159.2" cy="378.9" r="4"/>
<circle cx="162.3" cy="378.1" r="4"/>
<circle cx="163.5" cy="378.3" r="4"/>
<circle cx="166.8" cy="378.9" r="4"/>
<circle cx="172" cy="378.8" r="4"/>
<circle cx="174.9" cy="378.6" r="4"/>
<circle cx="174.9" cy="378.6" r="4"/>
<circle cx="177.6" cy="378.6" r="4"/>
<circle cx="177.7" cy="378.7" r="4"/>
<circle cx="181.4" cy="378.2" r="4"/>
<circle cx="186.1" cy="378.2" r="4"/>
<circle cx="186.3" cy="378" r="4"/>
<circle cx="186.5" cy="379" r="4"/>
<circle cx="191.3" cy="378.9" r="4"/>
<circle cx="191.9" cy="378" r="4"/>
<circle cx="194" cy="378.5" r="4"/>
<circle cx="210.2" cy="378.6" r="4"/>
<circle cx="170.8" cy="379.6" r="4"/>
<circle cx="177.7" cy="379.6" r="4"/>
<circle cx="178.6" cy="379" r="4"/>
<circle cx="178.1" cy="379.6" r="4"/>
<circle cx="184.2" cy="379.6" r="4"/>
<circle cx="186.5" cy="379.3" r="4"/>
<circle cx="187.9" cy="379.3" r="4"/>
<circle cx="187.1" cy="379.6" r="4"/>
<circle cx="190.3" cy="379.5" r="4"/>
<circle cx="191.9" cy="379.6" r="4"/>
<circle cx="192.6" cy="379.6" r="4"/>
<circle cx="193.8" cy="379.3" r="4"/>
<circle cx="194.6" cy="379.4" r="4"/>
<circle cx="209.1" cy="380" r="4"/>
<circle cx="212.5" cy="379.6" r="4"/>
<circle cx="152.8" cy="380.7" r="4"/>
<circle cx="157.2" cy="380.6" r="4"/>
<circle cx="159.3" cy="380.6" r="4"/>
<circle cx="172.8" cy="380.4" r="4"/>
<circle cx="176.4" cy="380.5" r="4"/>
<circle cx="179.1" cy="380.7" r="4"/>
<circle cx="182.9" cy="380.1" r="4"/>
<circle cx="185.8" cy="380.8" r="4"/>
<circle cx="187.1" cy="380.5" r="4"/>
<circle cx="189.7" cy="380.7" r="4"/>
<circle cx="190.4" cy="380.1" r="4"/>
<circle cx="193" cy="380.8" r="4"/>
<circle cx="194.9" cy="380.3" r="4"/>
<circle cx="195.4" cy="380.4" r="4"/>
<circle cx="210.5" cy="380.4" r="4"/>
<circle cx="213.6" cy="380.6" r="4"/>
<circle cx="155.2" cy="381.1" r="4"/>
<circle cx="155" cy="381.4" r="4"/>
<circle cx="157.1" cy="382" r="4"/>
<circle cx="157.8" cy="381.3" r="4"/>
<circle cx="159.2" cy="381.7" r="4"/>
<circle cx="159" cy="381.1" r="4"/>
<circle cx="159.1" cy="381.3" r="4"/>
<circle cx="160.8" cy="381.2" r="4"/>
<circle cx="162.6" cy="381.5" r="4"/>
<circle cx="164.3" cy="381.8" r="4"/>
<circle cx="173" cy="381.2" r="4"/>
<circle cx="174.8" cy="381.8" r="4"/>
<circle cx="178.2" cy="381.8" r="4"/>
<circle cx="178.9" cy="381.8" r="4"/>
<circle cx="180.5" cy="381.9" r="4"/>
<circle cx="195.9" cy="381.4" r="4"/>
<circle cx="199.8" cy="381.3" r="4"/>
<circle cx="201.5" cy="381.7" r="4"/>
<circle cx="206.6" cy="381.8" r="4"/>
<circle cx="225.2" cy="381.3" r="4"/>
<circle cx="156.3" cy="382.4" r="4"/>
<circle cx="158.5" cy="382.2" r="4"/>
<circle cx="176.4" cy="382.6" r="4"/>
<circle cx="176.3" cy="382.7" r="4"/>
<circle cx="178.5" cy="382.3" r="4"/>
<circle cx="178.6" cy="382.2" r="4"/>
<circle cx="184.7" cy="382.5" r="4"/>
<circle cx="186" cy="382.4" r="4"/>
<circle cx="188.2" cy="383" r="4"/>
<circle cx="189.8" cy="382.4" r="4"/>
<circle cx="193.3" cy="382.6" r="4"/>
<circle cx="208.3" cy="382.7" r="4"/>
<circle cx="150.8" cy="383.7" r="4"/>
<circle cx="153.4" cy="383.5" r="4"/>
<circle cx="156.9" cy="383.1" r="4"/>
<circle cx="157.9" cy="383.3" r="4"/>
<circle cx="158" cy="384" r="4"/>
<circle cx="158.8" cy="383.2" r="4"/>
<circle cx="161.9" cy="383.6" r="4"/>
<circle cx="164.9" cy="383.5" r="4"/>
<circle cx="166.3" cy="383.6" r="4"/>
<circle cx="166.1" cy="383.8" r="4"/>
<circle cx="171.1" cy="383" r="4"/>
<circle cx="178.2" cy="383.2" r="4"/>
<circle cx="180.7" cy="383.6" r="4"/>
<circle cx="182.2" cy="383.6" r="4"/>
<circle cx="184.1" cy="383.8" r="4"/>
<circle cx="186" cy="383.3" r="4"/>
<circle cx="187.8" cy="383.6" r="4"/>
<circle cx="187.4" cy="383.4" r="4"/>
<circle cx="190.1" cy="383.3" r="4"/>
<circle cx="190.2" cy="383.2" r="4"/>
<circle cx="204.2" cy="383.3" r="4"/>
<circle cx="208" cy="383.3" r="4"/>
<circle cx="207.9" cy="383.6" r="4"/>
<circle cx="152.2" cy="385" r="4"/>
<circle cx="159.4" cy="385" r="4"/>
<circle cx="160.9" cy="384.1" r="4"/>
<circle cx="161.8" cy="384.6" r="4"/>
<circle cx="162.6" cy="384.7" r="4"/>
<circle cx="166" cy="384.9" r="4"/>
<circle cx="168.6" cy="384.1" r="4"/>
<circle cx="169.3" cy="384.3" r="4"/>
<circle cx="169.2" cy="384" r="4"/>
<circle cx="171.1" cy="384.4" r="4"/>
<circle cx="174.3" cy="384.9" r="4"/>
<circle cx="174.9" cy="384.3" r="4"/>
<circle cx="177.5" cy="384.1" r="4"/>
<circle cx="179.9" cy="384.7" r="4"/>
<circle cx="182.5" cy="384.4" r="4"/>
<circle cx="184.7" cy="384.5" r="4"/>
<circle cx="187.5" cy="384.6" r="4"/>
<circle cx="192.1" cy="384.3" r="4"/>
<circle cx="197" cy="384.3" r="4"/>
<circle cx="156.5" cy="385.9" r="4"/>
<circle cx="158" cy="385.5" r="4"/>
<circle cx="162" cy="385.4" r="4"/>
<circle cx="166.6" cy="385.8" r="4"/>
<circle cx="167.5" cy="385.9" r="4"/>
<circle cx="169.7" cy="385.1" r="4"/>
<circle cx="169.6" cy="385.9" r="4"/>
<circle cx="174.2" cy="385.5" r="4"/>
<circle cx="181.5" cy="385.7" r="4"/>
<circle cx="183.2" cy="386" r="4"/>
<circle cx="184.2" cy="385.9" r="4"/>
<circle cx="185.5" cy="385.3" r="4"/>
<circle cx="191.6" cy="385.5" r="4"/>
<circle cx="193.5" cy="385.7" r="4"/>
<circle cx="198.7" cy="385.5" r="4"/>
<circle cx="198.5" cy="385.9" r="4"/>
<circle cx="208.5" cy="385.5" r="4"/>
<circle cx="224.8" cy="385.5" r="4"/>
<circle cx="156.7" cy="386.5" r="4"/>
<circle cx="157" cy="386.3" r="4"/>
<circle cx="162.7" cy="386.9" r="4"/>
<circle cx="162.2" cy="387" r="4"/>
<circle cx="164.4" cy="386.1" r="4"/>
<circle cx="165.1" cy="386.8" r="4"/>
<circle cx="169.7" cy="386.2" r="4"/>
<circle cx="170.2" cy="386.9" r="4"/>
<circle cx="170.5" cy="386.1" r="4"/>
<circle cx="172.7" cy="387" r="4"/>
<circle cx="178.2" cy="386.9" r="4"/>
<circle cx="181.6" cy="386.3" r="4"/>
<circle cx="183.8" cy="386.9" r="4"/>
<circle cx="183.9" cy="386.6" r="4"/>
<circle cx="184.1" cy="386.1" r="4"/>
<circle cx="184.3" cy="386.8" r="4"/>
<circle cx="185.4" cy="386.1" r="4"/>
<circle cx="185.6" cy="386.9" r="4"/>
<circle cx="187.1" cy="386.6" r="4"/>
<circle cx="191.6" cy="386.2" r="4"/>
<circle cx="196.3" cy="387" r="4"/>
<circle cx="203.1" cy="386" r="4"/>
<circle cx="154.1" cy="387.5" r="4"/>
<circle cx="155.2" cy="388" r="4"/>
<circle cx="156.2" cy="387.9" r="4"/>
<circle cx="160" cy="387.8" r="4"/>
<circle cx="165" cy="388" r="4"/>
<circle cx="165.1" cy="388" r="4"/>
<circle cx="166.2" cy="387.4" r="4"/>
<circle cx="169.6" cy="387.7" r="4"/>
<circle cx="177.2" cy="387.8" r="4"/>
<circle cx="179.6" cy="387.7" r="4"/>
<circle cx="179.7" cy="387.3" r="4"/>
<circle cx="180.1" cy="388" r="4"/>
<circle cx="184" cy="387.2" r="4"/>
<circle cx="191.7" cy="387.1" r="4"/>
<circle cx="198.6" cy="387.3" r="4"/>
<circle cx="201" cy="387.2" r="4"/>
<circle cx="201" cy="387.2" r="4"/>
<circle cx="152.7" cy="388.6" r="4"/>
<circle cx="155" cy="388.8" r="4"/>
<circle cx="161.4" cy="388.1" r="4"/>
<circle cx="162.2" cy="388.4" r="4"/>
<circle cx="174" cy="388.8" r="4"/>
<circle cx="179.4" cy="388.7" r="4"/>
<circle cx="181.5" cy="389" r="4"/>
<circle cx="184.1" cy="388.2" r="4"/>
<circle cx="185" cy="388.5" r="4"/>
<circle cx="190.6" cy="388.7" r="4"/>
<circle cx="195" cy="388" r="4"/>
<circle cx="199.2" cy="388.4" r="4"/>
<circle cx="203.2" cy="389" r="4"/>
<circle cx="207.6" cy="388.6" r="4"/>
<circle cx="151" cy="389.2" r="4"/>
<circle cx="161.2" cy="389.5" r="4"/>
<circle cx="162.2" cy="389.4" r="4"/>
<circle cx="166.6" cy="389.6" r="4"/>
<circle cx="167.4" cy="389.2" r="4"/>
<circle cx="172.6" cy="389.9" r="4"/>
<circle cx="172.4" cy="389.6" r="4"/>
<circle cx="175.9" cy="389.6" r="4"/>
<circle cx="178.4" cy="389.7" r="4"/>
<circle cx="180.8" cy="389.3" r="4"/>
<circle cx="194" cy="389.3" r="4"/>
<circle cx="194.8" cy="389.8" r="4"/>
<circle cx="224.4" cy="389.7" r="4"/>
<circle cx="160.8" cy="390.2" r="4"/>
<circle cx="164.9" cy="390.6" r="4"/>
<circle cx="165.9" cy="390.9" r="4"/>
<circle cx="166.1" cy="390.8" r="4"/>
<circle cx="167" cy="390.8" r="4"/>
<circle cx="167.7" cy="390.5" r="4"/>
<circle cx="168.4" cy="390.1" r="4"/>
<circle cx="171.5" cy="390.3" r="4"/>
<circle cx="179.4" cy="390.7" r="4"/>
<circle cx="181.7" cy="390.9" r="4"/>
<circle cx="182.3" cy="390.8" r="4"/>
<circle cx="183.8" cy="390.9" r="4"/>
<circle cx="184.7" cy="390.2" r="4"/>
<circle cx="188.1" cy="390.4" r="4"/>
<circle cx="189.1" cy="390.3" r="4"/>
<circle cx="191.9" cy="390.5" r="4"/>
<circle cx="194" cy="390.5" r="4"/>
<circle cx="197.7" cy="390.8" r="4"/>
<circle cx="197.5" cy="390.1" r="4"/>
<circle cx="199.3" cy="390.3" r="4"/>
<circle cx="204.1" cy="390.4" r="4"/>
<circle cx="214.1" cy="390.1" r="4"/>
<circle cx="216.2" cy="390.6" r="4"/>
<circle cx="217.9" cy="390.2" r="4"/>
<circle cx="160.9" cy="391.8" r="4"/>
<circle cx="160.7" cy="391.6" r="4"/>
<circle cx="160.4" cy="391.8" r="4"/>
<circle cx="162.7" cy="391.7" r="4"/>
<circle cx="163.6" cy="392" r="4"/>
<circle cx="164.2" cy="391" r="4"/>
<circle cx="165.3" cy="391.1" r="4"/>
<circle cx="165.4" cy="391.7" r="4"/>
<circle cx="168.6" cy="392" r="4"/>
<circle cx="169.2" cy="391.6" r="4"/>
<circle cx="169.8" cy="391.8" r="4"/>
<circle cx="171.5" cy="391.1" r="4"/>
<circle cx="174.3" cy="391.6" r="4"/>
<circle cx="177.9" cy="392" r="4"/>
<circle cx="177.9" cy="391.6" r="4"/>
<circle cx="183.3" cy="391.2" r="4"/>
<circle cx="185.4" cy="391.7" r="4"/>
<circle cx="185.7" cy="391.4" r="4"/>
<circle cx="185.4" cy="391.1" r="4"/>
<circle cx="186.4" cy="391.5" r="4"/>
<circle cx="187.8" cy="391.7" r="4"/>
<circle cx="189.1" cy="391.3" r="4"/>
<circle cx="192.3" cy="391.8" r="4"/>
<circle cx="196" cy="391.4" r="4"/>
<circle cx="195.9" cy="391.8" r="4"/>
<circle cx="196.8" cy="391.5" r="4"/>
<circle cx="197.2" cy="391.8" r="4"/>
<circle cx="200.9" cy="391.8" r="4"/>
<circle cx="156.2" cy="392.1" r="4"/>
<circle cx="164.4" cy="393" r="4"/>
<circle cx="166.1" cy="392.4" r="4"/>
<circle cx="172.2" cy="392.1" r="4"/>
<circle cx="185.6" cy="392.6" r="4"/>
<circle cx="190.7" cy="392.6" r="4"/>
<circle cx="191.3" cy="392.1" r="4"/>
<circle cx="192.9" cy="392.3" r="4"/>
<circle cx="194.7" cy="392.4" r="4"/>
<circle cx="200.7" cy="392.9" r="4"/>
<circle cx="201.3" cy="392.9" r="4"/>
<circle cx="155" cy="393.2" r="4"/>
<circle cx="161.6" cy="393.4" r="4"/>
<circle cx="162.4" cy="393.6" r="4"/>
<circle cx="163.5" cy="393.2" r="4"/>
<circle cx="166.9" cy="393.9" r="4"/>
<circle cx="173.8" cy="393.2" r="4"/>
<circle cx="175.3" cy="393.8" r="4"/>
<circle cx="175.2" cy="393.3" r="4"/>
<circle cx="181.7" cy="393.6" r="4"/>
<circle cx="182.2" cy="393.5" r="4"/>
<circle cx="184.2" cy="393.2" r="4"/>
<circle cx="194.2" cy="393.9" r="4"/>
<circle cx="195.5" cy="393.5" r="4"/>
<circle cx="205" cy="393.5" r="4"/>
<circle cx="226.3" cy="393.2" r="4"/>
<circle cx="154.5" cy="394.9" r="4"/>
<circle cx="155.2" cy="395" r="4"/>
<circle cx="160.8" cy="394.2" r="4"/>
<circle cx="168.6" cy="394.2" r="4"/>
<circle cx="182.8" cy="394.2" r="4"/>
<circle cx="189.8" cy="394" r="4"/>
<circle cx="191.5" cy="395" r="4"/>
<circle cx="195.6" cy="394.1" r="4"/>
<circle cx="198.9" cy="394" r="4"/>
<circle cx="199.2" cy="394.6" r="4"/>
<circle cx="202.6" cy="394.8" r="4"/>
<circle cx="154.8" cy="395.4" r="4"/>
<circle cx="156.9" cy="395.7" r="4"/>
<circle cx="156.4" cy="396" r="4"/>
<circle cx="163.9" cy="395.4" r="4"/>
<circle cx="163.2" cy="395.1" r="4"/>
<circle cx="164.3" cy="395.9" r="4"/>
<circle cx="171.9" cy="395.5" r="4"/>
<circle cx="173.4" cy="395.2" r="4"/>
<circle cx="174" cy="395.9" r="4"/>
<circle cx="176.3" cy="395.5" r="4"/>
<circle cx="177.1" cy="395.6" r="4"/>
<circle cx="177.2" cy="395.2" r="4"/>
<circle cx="182" cy="395.6" r="4"/>
<circle cx="184.7" cy="395.3" r="4"/>
<circle cx="185.3" cy="395.2" r="4"/>
<circle cx="187.5" cy="395.9" r="4"/>
<circle cx="191.6" cy="395" r="4"/>
<circle cx="192.3" cy="395.5" r="4"/>
<circle cx="196.4" cy="395.5" r="4"/>
<circle cx="200.1" cy="395.4" r="4"/>
<circle cx="212.2" cy="395.9" r="4"/>
<circle cx="153.1" cy="396.6" r="4"/>
<circle cx="159.8" cy="396.3" r="4"/>
<circle cx="160" cy="397" r="4"/>
<circle cx="162.1" cy="396.4" r="4"/>
<circle cx="169" cy="396.9" r="4"/>
<circle cx="171.5" cy="396.8" r="4"/>
<circle cx="174.4" cy="396.5" r="4"/>
<circle cx="178" cy="396.4" r="4"/>
<circle cx="181.6" cy="396.4" r="4"/>
<circle cx="187.4" cy="396.8" r="4"/>
<circle cx="190.4" cy="396" r="4"/>
<circle cx="194.5" cy="396" r="4"/>
<circle cx="195.1" cy="396.2" r="4"/>
<circle cx="198.6" cy="396.5" r="4"/>
<circle cx="198.2" cy="396.3" r="4"/>
<circle cx="202.5" cy="396.8" r="4"/>
<circle cx="203.8" cy="396.6" r="4"/>
<circle cx="156.7" cy="397.7" r="4"/>
<circle cx="157.6" cy="397.3" r="4"/>
<circle cx="172.9" cy="397.9" r="4"/>
<circle cx="173.1" cy="397.5" r="4"/>
<circle cx="173.9" cy="397.9" r="4"/>
<circle cx="175.3" cy="397" r="4"/>
<circle cx="180.7" cy="397.8" r="4"/>
<circle cx="181.1" cy="397.6" r="4"/>
<circle cx="186.8" cy="397.3" r="4"/>
<circle cx="189.5" cy="397.9" r="4"/>
<circle cx="189.8" cy="397.1" r="4"/>
<circle cx="193.4" cy="397.1" r="4"/>
<circle cx="193.5" cy="397.8" r="4"/>
<circle cx="164.2" cy="398.5" r="4"/>
<circle cx="171.4" cy="398.4" r="4"/>
<circle cx="173.4" cy="398.6" r="4"/>
<circle cx="177.8" cy="398.6" r="4"/>
<circle cx="178.5" cy="398" r="4"/>
<circle cx="183.2" cy="398.3" r="4"/>
<circle cx="187" cy="398.5" r="4"/>
<circle cx="192.4" cy="398.3" r="4"/>
<circle cx="192.7" cy="398.9" r="4"/>
<circle cx="154.1" cy="399.4" r="4"/>
<circle cx="157.3" cy="399.7" r="4"/>
<circle cx="158.4" cy="399.9" r="4"/>
<circle cx="158.2" cy="399.8" r="4"/>
<circle cx="164.8" cy="399.3" r="4"/>
<circle cx="171" cy="400" r="4"/>
<circle cx="171.5" cy="399.2" r="4"/>
<circle cx="173.7" cy="400" r="4"/>
<circle cx="173.3" cy="399.4" r="4"/>
<circle cx="174.4" cy="399.7" r="4"/>
<circle cx="175.7" cy="399.6" r="4"/>
<circle cx="176.2" cy="399.3" r="4"/>
<circle cx="179.8" cy="399.8" r="4"/>
<circle cx="181.6" cy="399.7" r="4"/>
<circle cx="183.4" cy="399" r="4"/>
<circle cx="188.2" cy="399.7" r="4"/>
<circle cx="189.4" cy="399.8" r="4"/>
<circle cx="206.7" cy="399" r="4"/>
<circle cx="206.4" cy="399.2" r="4"/>
<circle cx="159.4" cy="401" r="4"/>
<circle cx="166.9" cy="400.5" r="4"/>
<circle cx="167.1" cy="400.8" r="4"/>
<circle cx="167.2" cy="400.1" r="4"/>
<circle cx="168.5" cy="400.2" r="4"/>
<circle cx="168.2" cy="400" r="4"/>
<circle cx="170.2" cy="400" r="4"/>
<circle cx="172.2" cy="400.8" r="4"/>
<circle cx="175.2" cy="400.4" r="4"/>
<circle cx="179.2" cy="400.9" r="4"/>
<circle cx="183.5" cy="400.3" r="4"/>
<circle cx="189" cy="400.9" r="4"/>
<circle cx="188.6" cy="400.7" r="4"/>
<circle cx="190.4" cy="400.4" r="4"/>
<circle cx="191.2" cy="400" r="4"/>
<circle cx="193.9" cy="400.7" r="4"/>
<circle cx="170.7" cy="401.9" r="4"/>
<circle cx="170.3" cy="401.3" r="4"/>
<circle cx="173.3" cy="401.7" r="4"/>
<circle cx="174.2" cy="401.5" r="4"/>
<circle cx="180.9" cy="401.3" r="4"/>
<circle cx="181.7" cy="401.1" r="4"/>
<circle cx="183.1" cy="401.2" r="4"/>
<circle cx="193.1" cy="401.3" r="4"/>
<circle cx="193.1" cy="401.6" r="4"/>
<circle cx="201.7" cy="401" r="4"/>
<circle cx="213.8" cy="401.6" r="4"/>
<circle cx="156.4" cy="402.9" r="4"/>
<circle cx="162.3" cy="402.9" r="4"/>
<circle cx="164" cy="403" r="4"/>
<circle cx="169.2" cy="402.4" r="4"/>
<circle cx="171.3" cy="402.7" r="4"/>
<circle cx="174.8" cy="402.1" r="4"/>
<circle cx="174.2" cy="402.2" r="4"/>
<circle cx="174.6" cy="402.6" r="4"/>
<circle cx="176.5" cy="402.4" r="4"/>
<circle cx="178.4" cy="402.7" r="4"/>
<circle cx="179.6" cy="402.3" r="4"/>
<circle cx="181.2" cy="402.4" r="4"/>
<circle cx="183.1" cy="402.4" r="4"/>
<circle cx="184.7" cy="402" r="4"/>
<circle cx="185.6" cy="403" r="4"/>
<circle cx="188.5" cy="402.7" r="4"/>
<circle cx="203.1" cy="402.8" r="4"/>
<circle cx="206.8" cy="402.4" r="4"/>
<circle cx="157.6" cy="403.7" r="4"/>
<circle cx="161.2" cy="403.6" r="4"/>
<circle cx="171.5" cy="403.7" r="4"/>
<circle cx="182.2" cy="403.7" r="4"/>
<circle cx="184.1" cy="403.7" r="4"/>
<circle cx="185.1" cy="403.6" r="4"/>
<circle cx="190.4" cy="403.9" r="4"/>
<circle cx="191.7" cy="403.3" r="4"/>
<circle cx="195.1" cy="403.4" r="4"/>
<circle cx="196.1" cy="403.9" r="4"/>
<circle cx="207.7" cy="403.3" r="4"/>
<circle cx="211.2" cy="403.2" r="4"/>
<circle cx="160.3" cy="404.3" r="4"/>
<circle cx="173.5" cy="405" r="4"/>
<circle cx="188.6" cy="404.8" r="4"/>
<circle cx="189.4" cy="404.6" r="4"/>
<circle cx="191" cy="404.2" r="4"/>
<circle cx="202" cy="404.1" r="4"/>
<circle cx="203.5" cy="404.8" r="4"/>
<circle cx="214.3" cy="404.7" r="4"/>
<circle cx="223.9" cy="404.8" r="4"/>
<circle cx="164.7" cy="405.1" r="4"/>
<circle cx="165" cy="405.4" r="4"/>
<circle cx="175.5" cy="405.3" r="4"/>
<circle cx="178" cy="405.5" r="4"/>
<circle cx="185.5" cy="405" r="4"/>
<circle cx="186.4" cy="405.5" r="4"/>
<circle cx="189.7" cy="405.9" r="4"/>
<circle cx="190" cy="405" r="4"/>
<circle cx="205.4" cy="405.9" r="4"/>
<circle cx="206.5" cy="405.2" r="4"/>
<circle cx="209.8" cy="405.7" r="4"/>
<circle cx="210.3" cy="405.8" r="4"/>
<circle cx="161.1" cy="406" r="4"/>
<circle cx="164" cy="406.5" r="4"/>
<circle cx="175.8" cy="406.7" r="4"/>
<circle cx="189.7" cy="406.7" r="4"/>
<circle cx="190.1" cy="406" r="4"/>
<circle cx="190.5" cy="406.5" r="4"/>
<circle cx="191.8" cy="407" r="4"/>
<circle cx="191.8" cy="406" r="4"/>
<circle cx="196.5" cy="406.5" r="4"/>
<circle cx="197.5" cy="406.8" r="4"/>
<circle cx="200.9" cy="406.9" r="4"/>
<circle cx="200.7" cy="406.9" r="4"/>
<circle cx="205.8" cy="406.2" r="4"/>
<circle cx="209.3" cy="406.8" r="4"/>
<circle cx="216.9" cy="406.3" r="4"/>
<circle cx="161.9" cy="407" r="4"/>
<circle cx="169.9" cy="407.5" r="4"/>
<circle cx="174.6" cy="407.2" r="4"/>
<circle cx="175.6" cy="407.9" r="4"/>
<circle cx="177.7" cy="407" r="4"/>
<circle cx="177" cy="407.6" r="4"/>
<circle cx="180.7" cy="407.2" r="4"/>
<circle cx="186" cy="407.6" r="4"/>
<circle cx="186.8" cy="407.2" r="4"/>
<circle cx="188.8" cy="407.8" r="4"/>
<circle cx="191.2" cy="407.9" r="4"/>
<circle cx="193.1" cy="407" r="4"/>
<circle cx="195.8" cy="407.2" r="4"/>
<circle cx="208" cy="407.6" r="4"/>
<circle cx="158.3" cy="408.2" r="4"/>
<circle cx="159.8" cy="408.2" r="4"/>
<circle cx="160.2" cy="408.1" r="4"/>
<circle cx="163.3" cy="409" r="4"/>
<circle cx="173.2" cy="408.6" r="4"/>
<circle cx="176.6" cy="409" r="4"/>
<circle cx="180.4" cy="408.3" r="4"/>
<circle cx="181.8" cy="408.9" r="4"/>
<circle cx="185.5" cy="408.1" r="4"/>
<circle cx="195.8" cy="408.5" r="4"/>
<circle cx="200.7" cy="408.3" r="4"/>
<circle cx="202.4" cy="408.9" r="4"/>
<circle cx="157.6" cy="409.7" r="4"/>
<circle cx="158.3" cy="409" r="4"/>
<circle cx="163.3" cy="409.1" r="4"/>
<circle cx="165.7" cy="409.6" r="4"/>
<circle cx="166.1" cy="409.9" r="4"/>
<circle cx="166.1" cy="409.8" r="4"/>
<circle cx="170.6" cy="409.7" r="4"/>
<circle cx="172" cy="409.9" r="4"/>
<circle cx="174.9" cy="409.6" r="4"/>
<circle cx="175.9" cy="409.6" r="4"/>
<circle cx="182.7" cy="409.7" r="4"/>
<circle cx="197.3" cy="409.3" r="4"/>
<circle cx="203.6" cy="409.8" r="4"/>
<circle cx="212.2" cy="409.3" r="4"/>
<circle cx="157" cy="410.1" r="4"/>
<circle cx="165.4" cy="410.9" r="4"/>
<circle cx="166.1" cy="410.1" r="4"/>
<circle cx="170.5" cy="410.9" r="4"/>
<circle cx="177.8" cy="410.8" r="4"/>
<circle cx="180.5" cy="410.3" r="4"/>
<circle cx="182.5" cy="410.8" r="4"/>
<circle cx="182.4" cy="410.4" r="4"/>
<circle cx="187.2" cy="410.3" r="4"/>
<circle cx="194.1" cy="410.5" r="4"/>
<circle cx="206.4" cy="410.6" r="4"/>
<circle cx="219.2" cy="410.3" r="4"/>
<circle cx="161.7" cy="411.9" r="4"/>
<circle cx="177.3" cy="411.2" r="4"/>
<circle cx="179.8" cy="411.4" r="4"/>
<circle cx="186.2" cy="412" r="4"/>
<circle cx="190.1" cy="411.9" r="4"/>
<circle cx="191.6" cy="411.5" r="4"/>
<circle cx="192.4" cy="411.3" r="4"/>
<circle cx="167.2" cy="412.8" r="4"/>
<circle cx="168.6" cy="412.6" r="4"/>
<circle cx="170" cy="412.7" r="4"/>
<circle cx="170.8" cy="412" r="4"/>
<circle cx="189.7" cy="412.7" r="4"/>
<circle cx="194.2" cy="412.9" r="4"/>
<circle cx="194" cy="412.4" r="4"/>
<circle cx="199.1" cy="412.3" r="4"/>
<circle cx="155.9" cy="413.5" r="4"/>
<circle cx="161.9" cy="414" r="4"/>
<circle cx="168.2" cy="413.4" r="4"/>
<circle cx="172.4" cy="413.7" r="4"/>
<circle cx="172.4" cy="413.3" r="4"/>
<circle cx="175.6" cy="413.5" r="4"/>
<circle cx="175.3" cy="413.7" r="4"/>
<circle cx="185" cy="413.1" r="4"/>
<circle cx="189.1" cy="413.7" r="4"/>
<circle cx="192.5" cy="413.4" r="4"/>
<circle cx="198.8" cy="413.8" r="4"/>
<circle cx="201" cy="413.4" r="4"/>
<circle cx="206.9" cy="413.8" r="4"/>
<circle cx="208.9" cy="414" r="4"/>
<circle cx="221.7" cy="413.5" r="4"/>
<circle cx="165.3" cy="414.2" r="4"/>
<circle cx="178" cy="414.2" r="4"/>
<circle cx="183.7" cy="414.1" r="4"/>
<circle cx="178.5" cy="416" r="4"/>
<circle cx="182" cy="415.9" r="4"/>
<circle cx="189.6" cy="415.2" r="4"/>
<circle cx="189.5" cy="415.6" r="4"/>
<circle cx="190.1" cy="415.1" r="4"/>
<circle cx="194.8" cy="415.1" r="4"/>
<circle cx="167" cy="416" r="4"/>
<circle cx="168.6" cy="416.4" r="4"/>
<circle cx="169.9" cy="416.3" r="4"/>
<circle cx="169.6" cy="416.5" r="4"/>
<circle cx="174" cy="416.6" r="4"/>
<circle cx="179.6" cy="416.5" r="4"/>
<circle cx="192.8" cy="416.6" r="4"/>
<circle cx="199.9" cy="416.7" r="4"/>
<circle cx="205" cy="416.8" r="4"/>
<circle cx="166.3" cy="417.8" r="4"/>
<circle cx="166.5" cy="417.1" r="4"/>
<circle cx="180.6" cy="417.9" r="4"/>
<circle cx="180.3" cy="417.6" r="4"/>
<circle cx="184.6" cy="417.8" r="4"/>
<circle cx="186.4" cy="417.2" r="4"/>
<circle cx="193.7" cy="417.5" r="4"/>
<circle cx="196.7" cy="417.8" r="4"/>
<circle cx="219.5" cy="417.3" r="4"/>
<circle cx="227.5" cy="417.8" r="4"/>
<circle cx="167.1" cy="418.9" r="4"/>
<circle cx="173.7" cy="418.9" r="4"/>
<circle cx="177.3" cy="418.5" r="4"/>
<circle cx="180.1" cy="418.2" r="4"/>
<circle cx="188" cy="419" r="4"/>
<circle cx="191.6" cy="418.9" r="4"/>
<circle cx="200" cy="418.1" r="4"/>
<circle cx="201.8" cy="418.9" r="4"/>
<circle cx="212.4" cy="418.9" r="4"/>
<circle cx="213.5" cy="418.3" r="4"/>
<circle cx="174.3" cy="419.8" r="4"/>
<circle cx="179.3" cy="419.8" r="4"/>
<circle cx="192" cy="419.3" r="4"/>
<circle cx="196.1" cy="419.8" r="4"/>
<circle cx="203.2" cy="419.5" r="4"/>
<circle cx="159.1" cy="420.1" r="4"/>
<circle cx="169.5" cy="420.5" r="4"/>
<circle cx="185.6" cy="420.2" r="4"/>
<circle cx="187" cy="420.8" r="4"/>
<circle cx="187.3" cy="420.6" r="4"/>
<circle cx="188.3" cy="420.2" r="4"/>
<circle cx="197.4" cy="420.4" r="4"/>
<circle cx="207.6" cy="420.7" r="4"/>
<circle cx="183.3" cy="421.8" r="4"/>
<circle cx="191.9" cy="421.3" r="4"/>
<circle cx="192.6" cy="421.2" r="4"/>
<circle cx="195.4" cy="421.1" r="4"/>
<circle cx="195.2" cy="421.4" r="4"/>
<circle cx="196.3" cy="421.2" r="4"/>
<circle cx="201.6" cy="421.7" r="4"/>
<circle cx="167.3" cy="422.4" r="4"/>
<circle cx="175" cy="422.1" r="4"/>
<circle cx="175.4" cy="422.4" r="4"/>
<circle cx="176.1" cy="422" r="4"/>
<circle cx="180.2" cy="422" r="4"/>
<circle cx="200.8" cy="422" r="4"/>
<circle cx="201.7" cy="422.9" r="4"/>
<circle cx="202.1" cy="422.3" r="4"/>
<circle cx="208.7" cy="422.4" r="4"/>
<circle cx="212.1" cy="422.8" r="4"/>
<circle cx="164.4" cy="423.5" r="4"/>
<circle cx="174.3" cy="423.5" r="4"/>
<circle cx="184" cy="423" r="4"/>
<circle cx="186.4" cy="423.4" r="4"/>
<circle cx="189.9" cy="423.7" r="4"/>
<circle cx="192.5" cy="423.6" r="4"/>
<circle cx="192.9" cy="423.9" r="4"/>
<circle cx="205.7" cy="423.9" r="4"/>
<circle cx="157.2" cy="424.4" r="4"/>
<circle cx="168.9" cy="424.6" r="4"/>
<circle cx="175.6" cy="424.8" r="4"/>
<circle cx="192.5" cy="424.8" r="4"/>
<circle cx="194.3" cy="424.4" r="4"/>
<circle cx="202.6" cy="424.6" r="4"/>
<circle cx="209" cy="425" r="4"/>
<circle cx="212.9" cy="424.2" r="4"/>
<circle cx="174" cy="425.7" r="4"/>
<circle cx="181.1" cy="425.5" r="4"/>
<circle cx="181.7" cy="425.6" r="4"/>
<circle cx="185.1" cy="425" r="4"/>
<circle cx="191.6" cy="425.2" r="4"/>
<circle cx="192.1" cy="425.6" r="4"/>
<circle cx="192.5" cy="425.7" r="4"/>
<circle cx="194.2" cy="425.4" r="4"/>
<circle cx="198.5" cy="425.5" r="4"/>
<circle cx="198.2" cy="425.9" r="4"/>
<circle cx="165.1" cy="426.8" r="4"/>
<circle cx="170" cy="426.5" r="4"/>
<circle cx="177" cy="426.5" r="4"/>
<circle cx="177.6" cy="426.1" r="4"/>
<circle cx="188.9" cy="426.8" r="4"/>
<circle cx="189.9" cy="426.8" r="4"/>
<circle cx="195.9" cy="426.8" r="4"/>
<circle cx="175.9" cy="427.5" r="4"/>
<circle cx="176.9" cy="427.4" r="4"/>
<circle cx="187.6" cy="427.7" r="4"/>
<circle cx="189.8" cy="427.8" r="4"/>
<circle cx="189" cy="427.6" r="4"/>
<circle cx="205.8" cy="427.6" r="4"/>
<circle cx="168.2" cy="428.9" r="4"/>
<circle cx="185" cy="428" r="4"/>
<circle cx="185.5" cy="428.1" r="4"/>
<circle cx="193.5" cy="428.8" r="4"/>
<circle cx="172.4" cy="429.6" r="4"/>
<circle cx="177.7" cy="429.7" r="4"/>
<circle cx="187.9" cy="429.7" r="4"/>
<circle cx="187.9" cy="429.2" r="4"/>
<circle cx="202.3" cy="429.3" r="4"/>
<circle cx="189.1" cy="430.8" r="4"/>
<circle cx="189.4" cy="430.3" r="4"/>
<circle cx="209.2" cy="430.6" r="4"/>
<circle cx="186.8" cy="432" r="4"/>
<circle cx="190.8" cy="431" r="4"/>
<circle cx="197.9" cy="432" r="4"/>
<circle cx="200.7" cy="431.2" r="4"/>
<circle cx="200.5" cy="431.2" r="4"/>
<circle cx="164.8" cy="432.5" r="4"/>
<circle cx="167.6" cy="432.8" r="4"/>
<circle cx="179.6" cy="432.8" r="4"/>
<circle cx="188.3" cy="433" r="4"/>
<circle cx="172.8" cy="433.1" r="4"/>
<circle cx="174.7" cy="433.2" r="4"/>
<circle cx="190.5" cy="433.4" r="4"/>
<circle cx="190" cy="434" r="4"/>
<circle cx="191.4" cy="434" r="4"/>
<circle cx="162" cy="434.4" r="4"/>
<circle cx="162" cy="434.9" r="4"/>
<circle cx="177" cy="434.9" r="4"/>
<circle cx="184.8" cy="434.1" r="4"/>
<circle cx="188.7" cy="434.9" r="4"/>
<circle cx="191.9" cy="434.5" r="4"/>
<circle cx="202.3" cy="434.6" r="4"/>
<circle cx="174.7" cy="436" r="4"/>
<circle cx="175.4" cy="435.9" r="4"/>
<circle cx="176.8" cy="435.4" r="4"/>
<circle cx="183.1" cy="435.7" r="4"/>
<circle cx="188.8" cy="435.6" r="4"/>
<circle cx="199.1" cy="435.4" r="4"/>
<circle cx="158.9" cy="436.9" r="4"/>
<circle cx="188.3" cy="436.3" r="4"/>
<circle cx="193.9" cy="436.7" r="4"/>
<circle cx="177.2" cy="437.9" r="4"/>
<circle cx="184.6" cy="438" r="4"/>
<circle cx="186.5" cy="437.1" r="4"/>
<circle cx="204.8" cy="437.5" r="4"/>
<circle cx="159" cy="438.1" r="4"/>
<circle cx="165.4" cy="438.2" r="4"/>
<circle cx="187.9" cy="438.2" r="4"/>
<circle cx="206.5" cy="438.8" r="4"/>
<circle cx="166" cy="439.8" r="4"/>
<circle cx="191.2" cy="439.3" r="4"/>
<circle cx="159.1" cy="440.5" r="4"/>
<circle cx="184" cy="440.7" r="4"/>
<circle cx="197" cy="440.1" r="4"/>
<circle cx="198" cy="440.7" r="4"/>
<circle cx="168.9" cy="441.3" r="4"/>
<circle cx="177.7" cy="441.2" r="4"/>
<circle cx="178.4" cy="441.9" r="4"/>
<circle cx="196.3" cy="441.6" r="4"/>
<circle cx="209.1" cy="441.5" r="4"/>
<circle cx="185.9" cy="442.3" r="4"/>
<circle cx="161" cy="443.7" r="4"/>
<circle cx="193.8" cy="443.3" r="4"/>
<circle cx="165.8" cy="444.5" r="4"/>
<circle cx="159.1" cy="445.7" r="4"/>
<circle cx="168.5" cy="445.2" r="4"/>
<circle cx="171.9" cy="445.6" r="4"/>
<circle cx="172.4" cy="445.4" r="4"/>
<circle cx="186.7" cy="446" r="4"/>
<circle cx="192.5" cy="445.1" r="4"/>
<circle cx="179.9" cy="446.5" r="4"/>
<circle cx="186.1" cy="446.3" r="4"/>
<circle cx="197.7" cy="446.2" r="4"/>
<circle cx="201.3" cy="446.3" r="4"/>
<circle cx="159.5" cy="447.4" r="4"/>
<circle cx="167.4" cy="447.2" r="4"/>
<circle cx="188.1" cy="447.4" r="4"/>
<circle cx="192.3" cy="447.8" r="4"/>
<circle cx="198.2" cy="447.1" r="4"/>
<circle cx="199.5" cy="447.3" r="4"/>
<circle cx="203.1" cy="447.4" r="4"/>
<circle cx="176.2" cy="448.9" r="4"/>
<circle cx="178" cy="448.1" r="4"/>
<circle cx="200.8" cy="448.1" r="4"/>
<circle cx="186.9" cy="449.5" r="4"/>
<circle cx="188.7" cy="449.3" r="4"/>
<circle cx="197.2" cy="449.8" r="4"/>
<circle cx="200.7" cy="449.9" r="4"/>
<circle cx="162.6" cy="450.7" r="4"/>
<circle cx="183" cy="450.6" r="4"/>
<circle cx="196.7" cy="450.4" r="4"/>
<circle cx="200.9" cy="451" r="4"/>
<circle cx="204.9" cy="450.1" r="4"/>
<circle cx="208.2" cy="450.5" r="4"/>
<circle cx="189.9" cy="451.9" r="4"/>
<circle cx="197.2" cy="451.4" r="4"/>
<circle cx="180.4" cy="452" r="4"/>
<circle cx="183.4" cy="452.3" r="4"/>
<circle cx="188" cy="452.4" r="4"/>
<circle cx="193.2" cy="452.4" r="4"/>
<circle cx="210.4" cy="452" r="4"/>
<circle cx="212.2" cy="453.7" r="4"/>
<circle cx="166.6" cy="454.9" r="4"/>
<circle cx="193.3" cy="454.5" r="4"/>
<circle cx="183.9" cy="455.4" r="4"/>
<circle cx="184.2" cy="455" r="4"/>
<circle cx="202.9" cy="455.8" r="4"/>
<circle cx="186.4" cy="456.3" r="4"/>
<circle cx="191.6" cy="456.3" r="4"/>
<circle cx="162.1" cy="457.9" r="4"/>
<circle cx="175.1" cy="457.7" r="4"/>
<circle cx="191.6" cy="457.4" r="4"/>
<circle cx="195.7" cy="458.7" r="4"/>
<circle cx="176.6" cy="459.7" r="4"/>
<circle cx="186.4" cy="459.7" r="4"/>
<circle cx="180.7" cy="460.3" r="4"/>
<circle cx="189.6" cy="460.9" r="4"/>
<circle cx="172.5" cy="461.4" r="4"/>
<circle cx="178.4" cy="461" r="4"/>
<circle cx="179.7" cy="461.3" r="4"/>
<circle cx="195.5" cy="462.1" r="4"/>
<circle cx="198.6" cy="462.9" r="4"/>
<circle cx="192.1" cy="463.3" r="4"/>
<circle cx="161.7" cy="464" r="4"/>
<circle cx="172.7" cy="464.2" r="4"/>
<circle cx="182.3" cy="465.3" r="4"/>
<circle cx="165.2" cy="471.2" r="4"/>
<circle cx="198.7" cy="472" r="4"/>
<circle cx="174.2" cy="473.8" r="4"/>
<circle cx="177.7" cy="474" r="4"/>
<circle cx="167.2" cy="479.5" r="4"/>
<circle cx="135.8" cy="32.2" r="4"/>
<circle cx="140" cy="32.9" r="4"/>
<circle cx="147.2" cy="35.8" r="4"/>
<circle cx="139.6" cy="43.8" r="4"/>
<circle cx="145.3" cy="44.3" r="4"/>
<circle cx="147.9" cy="50.3" r="4"/>
<circle cx="138.4" cy="56.4" r="4"/>
<circle cx="150.4" cy="54.8" r="4"/>
<circle cx="139" cy="65.3" r="4"/>
<circle cx="161.2" cy="69.4" r="4"/>
<circle cx="139" cy="74.4" r="4"/>
<circle cx="166.9" cy="81.4" r="4"/>
<circle cx="137.5" cy="87.7" r="4"/>
<circle cx="172" cy="96" r="4"/>
<circle cx="140.3" cy="102.3" r="4"/>
<circle cx="152.9" cy="460.7" r="4"/>
<circle cx="159.3" cy="470" r="4"/>
<circle cx="158.6" cy="478.6" r="4"/>
<circle cx="163.6" cy="478.6" r="4"/>
<circle cx="158.6" cy="490" r="4"/>
<circle cx="163.6" cy="493.6" r="4"/>
<circle cx="169.3" cy="492.1" r="4"/>
<circle cx="170" cy="500" r="4"/>
<circle cx="175" cy="502.1" r="4"/>
<circle cx="174.3" cy="496.4" r="4"/>
<circle cx="172.9" cy="485" r="4"/>
<circle cx="180" cy="483.6" r="4"/>
<circle cx="182.1" cy="492.1" r="4"/>
<circle cx="175" cy="476.4" r="4"/>
<circle cx="181.4" cy="472.1" r="4"/>
<circle cx="187.9" cy="477.1" r="4"/>
<circle cx="192.9" cy="480.7" r="4"/>
<circle cx="190" cy="485.7" r="4"/>
<circle cx="199.3" cy="486.4" r="4"/>
<circle cx="206.4" cy="487.9" r="4"/>
<circle cx="190.7" cy="499.3" r="4"/>
<circle cx="196" cy="510.7" r="4"/>
<circle cx="195" cy="520" r="4"/>
<circle cx="206.4" cy="505" r="4"/>
<circle cx="169.3" cy="537.1" r="4"/>
<circle cx="222.9" cy="480.7" r="4"/>
<circle cx="219.3" cy="465.7" r="4"/>
<circle cx="223.6" cy="462.9" r="4"/>
<circle cx="178" cy="474" r="4"/>
<circle cx="185" cy="470" r="4"/>
<circle cx="200" cy="471" r="4"/>
<circle cx="168" cy="472" r="4"/>
</g>
<g fill="#ff7f0e">
<circle cx="233.3" cy="273" r="4.5"/>
<circle cx="234.9" cy="285.3" r="4.5"/>
<circle cx="240.6" cy="286.5" r="4.5"/>
<circle cx="238.7" cy="291.6" r="4.5"/>
<circle cx="245" cy="306.7" r="4.5"/>
<circle cx="241.6" cy="313.2" r="4.5"/>
<circle cx="232.7" cy="320.2" r="4.5"/>
<circle cx="233.2" cy="329.3" r="4.5"/>
<circle cx="234" cy="343.2" r="4.5"/>
<circle cx="242.5" cy="341.1" r="4.5"/>
<circle cx="240.3" cy="349.8" r="4.5"/>
<circle cx="233.2" cy="361" r="4.5"/>
<circle cx="244" cy="360.5" r="4.5"/>
<circle cx="258.6" cy="351.7" r="4.5"/>
<circle cx="256.1" cy="358.4" r="4.5"/>
<circle cx="266.3" cy="354.9" r="4.5"/>
<circle cx="273.9" cy="364.6" r="4.5"/>
<circle cx="289.4" cy="362.6" r="4.5"/>
<circle cx="286.8" cy="369" r="4.5"/>
<circle cx="282.4" cy="375.8" r="4.5"/>
<circle cx="261.5" cy="373.9" r="4.5"/>
<circle cx="263.6" cy="380.9" r="4.5"/>
<circle cx="253.2" cy="384.3" r="4.5"/>
<circle cx="232.6" cy="394.2" r="4.5"/>
<circle cx="243.5" cy="391.9" r="4.5"/>
<circle cx="262.1" cy="391.1" r="4.5"/>
<circle cx="257.7" cy="394.5" r="4.5"/>
<circle cx="260.6" cy="400.3" r="4.5"/>
<circle cx="278.3" cy="390.4" r="4.5"/>
<circle cx="251.7" cy="414.5" r="4.5"/>
<circle cx="252" cy="417.7" r="4.5"/>
<circle cx="272.5" cy="411.7" r="4.5"/>
<circle cx="265.5" cy="421.1" r="4.5"/>
<circle cx="254" cy="431" r="4.5"/>
<circle cx="240.2" cy="444.2" r="4.5"/>
<circle cx="241.6" cy="481.9" r="4.5"/>
<circle cx="255.4" cy="476.7" r="4.5"/>
<circle cx="264.5" cy="506.5" r="4.5"/>
<circle cx="297.4" cy="489.6" r="4.5"/>
<circle cx="335.9" cy="466.9" r="4.5"/>
<circle cx="416.9" cy="360" r="4.5"/>
<circle cx="424.1" cy="391.2" r="4.5"/>
<circle cx="464.8" cy="415.9" r="4.5"/>
<circle cx="483.8" cy="411.4" r="4.5"/>
<circle cx="567.5" cy="441.8" r="4.5"/>
<circle cx="650" cy="417.5" r="4.5"/>
</g><g fill="#2ca02c">
<circle cx="209.2" cy="30.8" r="4.0"/>
<circle cx="213.9" cy="28.7" r="4.0"/>
<circle cx="217.7" cy="28.3" r="4.0"/>
<circle cx="225.3" cy="36.3" r="4.0"/>
<circle cx="238.2" cy="35.3" r="4.0"/>
<circle cx="212.3" cy="39.7" r="4.0"/>
<circle cx="218.3" cy="42.2" r="4.0"/>
<circle cx="222.1" cy="46.7" r="4.0"/>
<circle cx="216.8" cy="53" r="4.0"/>
<circle cx="194.6" cy="60.6" r="4.0"/>
<circle cx="227.2" cy="60.6" r="4.0"/>
<circle cx="229.7" cy="59.4" r="4.0"/>
<circle cx="233.5" cy="63.8" r="4.0"/>
<circle cx="231" cy="67" r="4.0"/>
<circle cx="247.5" cy="61.6" r="4.0"/>
<circle cx="212" cy="72.3" r="4.0"/>
<circle cx="218.3" cy="72" r="4.0"/>
<circle cx="235.8" cy="73" r="4.0"/>
<circle cx="249.4" cy="76.2" r="4.0"/>
<circle cx="226.5" cy="75.8" r="4.0"/>
<circle cx="231.6" cy="80.9" r="4.0"/>
<circle cx="235.4" cy="81.2" r="4.0"/>
<circle cx="208.8" cy="84.7" r="4.0"/>
<circle cx="198.4" cy="90.8" r="4.0"/>
<circle cx="240.5" cy="90.8" r="4.0"/>
<circle cx="242.4" cy="95.8" r="4.0"/>
<circle cx="175" cy="102.2" r="4.0"/>
<circle cx="212.9" cy="109.2" r="4.0"/>
<circle cx="241.1" cy="109.8" r="4.0"/>
<circle cx="242.4" cy="114.2" r="4.0"/>
<circle cx="185.1" cy="123.7" r="4.0"/>
<circle cx="193.6" cy="126.6" r="4.0"/>
<circle cx="181.5" cy="132.2" r="4.0"/>
<circle cx="222.4" cy="123.1" r="4.0"/>
<circle cx="218.9" cy="127.5" r="4.0"/>
<circle cx="235.7" cy="127.1" r="4.0"/>
<circle cx="194.5" cy="143.4" r="4.0"/>
<circle cx="188.5" cy="190.6" r="4.0"/>
<circle cx="193.2" cy="213.8" r="4.0"/>
<circle cx="188.1" cy="225" r="4.0"/>
<circle cx="328.4" cy="66.5" r="4.0"/>
<circle cx="351.3" cy="89.8" r="4.0"/>
<circle cx="349.2" cy="97.4" r="4.0"/>
<circle cx="389.3" cy="74.6" r="4.0"/>
<circle cx="412.6" cy="133.9" r="4.0"/>
<circle cx="282.8" cy="188.4" r="4.0"/>
<circle cx="519.5" cy="90" r="4.0"/>
<circle cx="230.8" cy="242.6" r="4.0"/>
</g>
<g stroke="#000" fill="none">
<line x1="93.7" y1="3.5" x2="786.2" y2="3.5" stroke-width="1"/>
<line x1="93.7" y1="562.5" x2="786.2" y2="562.5" stroke-width="1"/>
<line x1="94.25" y1="3" x2="94.25" y2="563" stroke-width="1.1"/>
<line x1="785.65" y1="3" x2="785.65" y2="563" stroke-width="1.1"/>
<line x1="90" y1="496.5" x2="94" y2="496.5" stroke-width="1"/>
<line x1="90" y1="378.5" x2="94" y2="378.5" stroke-width="1"/>
<line x1="90" y1="260.5" x2="94" y2="260.5" stroke-width="1"/>
<line x1="90" y1="142.5" x2="94" y2="142.5" stroke-width="1"/>
<line x1="90" y1="24.5" x2="94" y2="24.5" stroke-width="1"/>
<line x1="130.50" y1="562.5" x2="130.50" y2="566.5" stroke-width="1"/>
<line x1="276.14" y1="562.5" x2="276.14" y2="566.5" stroke-width="1"/>
<line x1="421.78" y1="562.5" x2="421.78" y2="566.5" stroke-width="1"/>
<line x1="567.42" y1="562.5" x2="567.42" y2="566.5" stroke-width="1"/>
<line x1="713.06" y1="562.5" x2="713.06" y2="566.5" stroke-width="1"/>
</g>
<g font-family="Liberation Sans, sans-serif" font-size="29.3" fill="#000" stroke="#000" stroke-width="0.6">
<text transform="translate(34.89 507.10) scale(1.0430 1)">200</text>
<text transform="translate(34.89 389.10) scale(1.0430 1)">250</text>
<text transform="translate(34.89 271.10) scale(1.0430 1)">300</text>
<text transform="translate(34.89 153.10) scale(1.0430 1)">350</text>
<text transform="translate(34.89 35.10) scale(1.0430 1)">400</text>
<text transform="translate(108.91 590.90) scale(1.0604 1)">0.0</text>
<text transform="translate(254.55 590.90) scale(1.0604 1)">0.2</text>
<text transform="translate(400.19 590.90) scale(1.0604 1)">0.4</text>
<text transform="translate(545.83 590.90) scale(1.0604 1)">0.6</text>
<text transform="translate(691.47 590.90) scale(1.0604 1)">0.8</text>
<text transform="translate(410.84 622.00) scale(0.9202 1)">MSE</text>
<text transform="translate(23.9 373.48) rotate(-90) scale(1.0610 1)">log-likelihood</text>
</g>
<rect x="461.5" y="16.8" width="310.7" height="128.8" rx="4" ry="4" fill="#fff" fill-opacity="0.8" stroke="#d6d6d6" stroke-width="1.4"/>
<circle cx="499.5" cy="41.4" r="3.95" fill="#1f77b4" fill-opacity="0.7" stroke="#1f77b4" stroke-opacity="0.7" stroke-width="1"/>
<circle cx="499.7" cy="81.5" r="3.95" fill="#ff7f0e" fill-opacity="0.7" stroke="#ff7f0e" stroke-opacity="0.7" stroke-width="1"/>
<circle cx="499.8" cy="121.8" r="3.45" fill="#2ca02c" fill-opacity="0.7" stroke="#2ca02c" stroke-opacity="0.7" stroke-width="1"/>
<g font-family="Liberation Sans, sans-serif" font-size="29.3" fill="#000" stroke="#000" stroke-width="0.6">
<text transform="translate(548.76 49.00) scale(0.9976 1)">MNIST Samples</text>
<text transform="translate(548.71 89.20) scale(1.0609 1)">Before Optim.</text>
<text transform="translate(549.10 129.10) scale(1.0740 1)">After Optim.</text>
</g>
</svg></body></html>
